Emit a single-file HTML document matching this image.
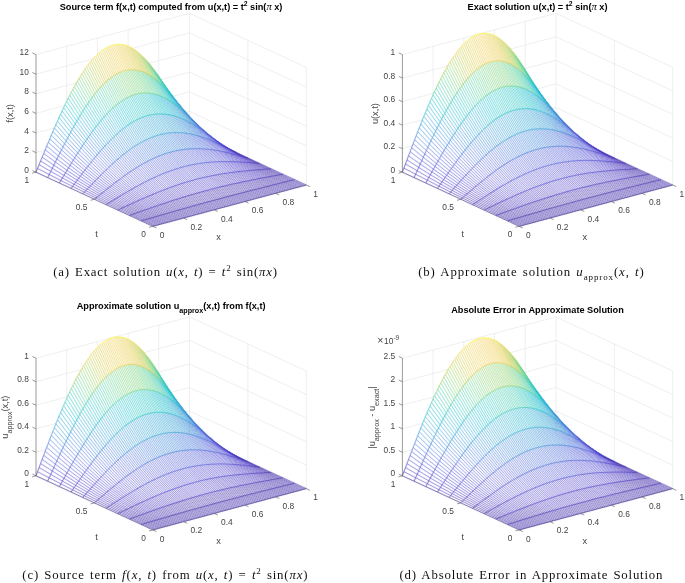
<!DOCTYPE html>
<html><head><meta charset="utf-8"><title>Figure</title>
<style>
html,body{margin:0;padding:0;background:#fff}
#fig{position:relative;width:685px;height:583px;overflow:hidden;background:#fff}
svg{position:absolute;left:0;top:0}
.gr{fill:none;stroke:#dedede;stroke-width:.5}
.ax{fill:none;stroke:#555;stroke-width:.6}
.fa{fill:none;stroke:#444;stroke-width:.5;stroke-opacity:.45}
.sil{fill:#fff;stroke:none}
.mesh{filter:url(#sm)}
.mx{fill:none;stroke-width:0.8;stroke-opacity:0.72}
.mt{fill:none;stroke-width:0.85;stroke-linejoin:round;stroke-opacity:0.8}
.tk{font:8.4px "Liberation Sans",sans-serif;fill:#444}
.al{font:9.2px "Liberation Sans",sans-serif;fill:#444}
.ti{font:bold 9.2px "Liberation Sans",sans-serif;fill:#000}
.pi{font-family:"Liberation Serif",serif;font-style:italic;font-weight:normal;font-size:10.5px}
.cap{position:absolute;width:400px;text-align:center;font:12.8px "Liberation Serif",serif;color:#111;white-space:nowrap;line-height:16px;letter-spacing:.75px;word-spacing:1.2px}
.cap sup,.cap sub{font-size:9px;line-height:0}
.c0{stroke:#3e26a8}
.c1{stroke:#412dbb}
.c2{stroke:#4434c7}
.c3{stroke:#463bcd}
.c4{stroke:#4744d0}
.c5{stroke:#484dd3}
.c6{stroke:#4756d4}
.c7{stroke:#4660d6}
.c8{stroke:#4269d6}
.c9{stroke:#3a73d6}
.c10{stroke:#327dd6}
.c11{stroke:#2f87d5}
.c12{stroke:#2f90d3}
.c13{stroke:#2c99d2}
.c14{stroke:#29a1d1}
.c15{stroke:#26a9d0}
.c16{stroke:#20b0ce}
.c17{stroke:#14b7cc}
.c18{stroke:#0fbcc8}
.c19{stroke:#1bc1c0}
.c20{stroke:#2cc4b6}
.c21{stroke:#3ac8ac}
.c22{stroke:#44cba1}
.c23{stroke:#54cf92}
.c24{stroke:#62d086}
.c25{stroke:#74d077}
.c26{stroke:#89d067}
.c27{stroke:#9fce57}
.c28{stroke:#b4cb47}
.c29{stroke:#c7c73d}
.c30{stroke:#d7c73a}
.c31{stroke:#e4c83e}
.c32{stroke:#efcb45}
.c33{stroke:#f7ce4a}
.c34{stroke:#fbd247}
.c35{stroke:#fcd442}
.c36{stroke:#f9dd3c}
.c37{stroke:#f6e837}
.c38{stroke:#f7f131}
.c39{stroke:#fafb27}
</style></head><body>
<div id="fig">
<svg width="685" height="583" viewBox="0 0 685 583">
<defs><filter id="sm" x="0" y="0" width="685" height="583" filterUnits="userSpaceOnUse" color-interpolation-filters="sRGB"><feConvolveMatrix order="3" kernelMatrix="0 1 0 1 14 1 0 1 0" divisor="18" edgeMode="none"/></filter></defs>
<path d="M36 172.2L189.5 130.9M189.5 130.9L306.3 185M36 152.6L189.5 111.3M189.5 111.3L306.3 165.4M36 133L189.5 91.7M189.5 91.7L306.3 145.8M36 113.4L189.5 72.1M189.5 72.1L306.3 126.2M36 93.8L189.5 52.5M189.5 52.5L306.3 106.6M36 74.2L189.5 32.9M189.5 32.9L306.3 87M36 54.6L189.5 13.3M189.5 13.3L306.3 67.4M66.7 163.9L66.7 46.3M97.4 155.7L97.4 38.1M128.1 147.4L128.1 29.8M158.8 139.2L158.8 21.6M189.5 130.9L189.5 13.3M306.3 185L306.3 67.4M247.9 157.9L247.9 40.3" class="gr"/>
<path class="sil" d="M152.8 226.3L155.9 225.5L159 224.6L162.1 223.8L165.1 223L168.2 222.2L171.3 221.3L174.3 220.5L177.4 219.7L180.5 218.9L183.5 218L186.6 217.2L189.7 216.4L192.7 215.6L195.8 214.7L198.9 213.9L202 213.1L205 212.3L208.1 211.4L211.2 210.6L214.2 209.8L217.3 209L220.4 208.1L223.4 207.3L226.5 206.5L229.6 205.7L232.6 204.8L235.7 204L238.8 203.2L241.9 202.3L244.9 201.5L248 200.7L251.1 199.9L254.1 199L257.2 198.2L260.3 197.4L263.3 196.6L266.4 195.7L269.5 194.9L272.5 194.1L275.6 193.3L278.7 192.4L281.7 191.6L284.8 190.8L287.9 190L291 189.1L294 188.3L297.1 187.5L300.2 186.7L303.2 185.8L306.3 185L294.6 179.6L291.5 180.3L288.5 181.1L285.4 181.9L282.3 182.6L279.3 183.4L276.2 184.2L273.1 184.9L270.1 185.7L267 186.5L263.9 187.2L260.9 188L257.8 188.8L254.7 189.6L251.6 190.3L248.6 191.1L245.5 191.9L242.4 192.7L239.4 193.5L236.3 194.3L233.2 195.1L230.2 195.9L227.1 196.7L224 197.5L221 198.4L217.9 199.2L214.8 200L211.8 200.8L208.7 201.7L205.6 202.5L202.5 203.4L199.5 204.2L196.4 205.1L193.3 205.9L190.3 206.8L187.2 207.6L184.1 208.5L181.1 209.4L178 210.2L174.9 211.1L171.9 212L168.8 212.9L165.7 213.8L162.6 214.7L159.6 215.5L156.5 216.4L153.4 217.3L150.4 218.2L147.3 219.1L144.2 220L141.2 220.9ZM141.2 220.9L144.2 220L147.3 219.1L150.4 218.2L153.4 217.3L156.5 216.4L159.6 215.5L162.6 214.7L165.7 213.8L168.8 212.9L171.9 212L174.9 211.1L178 210.2L181.1 209.4L184.1 208.5L187.2 207.6L190.3 206.8L193.3 205.9L196.4 205.1L199.5 204.2L202.5 203.4L205.6 202.5L208.7 201.7L211.8 200.8L214.8 200L217.9 199.2L221 198.4L224 197.5L227.1 196.7L230.2 195.9L233.2 195.1L236.3 194.3L239.4 193.5L242.4 192.7L245.5 191.9L248.6 191.1L251.6 190.3L254.7 189.6L257.8 188.8L260.9 188L263.9 187.2L267 186.5L270.1 185.7L273.1 184.9L276.2 184.2L279.3 183.4L282.3 182.6L285.4 181.9L288.5 181.1L291.5 180.3L294.6 179.6L282.9 174.2L279.9 174.7L276.8 175.3L273.7 175.9L270.7 176.4L267.6 177L264.5 177.6L261.4 178.1L258.4 178.7L255.3 179.3L252.2 179.9L249.2 180.6L246.1 181.2L243 181.8L240 182.5L236.9 183.1L233.8 183.8L230.8 184.5L227.7 185.2L224.6 185.9L221.6 186.6L218.5 187.4L215.4 188.2L212.3 189L209.3 189.8L206.2 190.6L203.1 191.4L200.1 192.3L197 193.1L193.9 194L190.9 194.9L187.8 195.8L184.7 196.8L181.7 197.7L178.6 198.7L175.5 199.6L172.4 200.6L169.4 201.6L166.3 202.7L163.2 203.7L160.2 204.7L157.1 205.8L154 206.8L151 207.9L147.9 209L144.8 210L141.8 211.1L138.7 212.2L135.6 213.3L132.5 214.4L129.5 215.5ZM129.5 215.5L132.5 214.4L135.6 213.3L138.7 212.2L141.8 211.1L144.8 210L147.9 209L151 207.9L154 206.8L157.1 205.8L160.2 204.7L163.2 203.7L166.3 202.7L169.4 201.6L172.4 200.6L175.5 199.6L178.6 198.7L181.7 197.7L184.7 196.8L187.8 195.8L190.9 194.9L193.9 194L197 193.1L200.1 192.3L203.1 191.4L206.2 190.6L209.3 189.8L212.3 189L215.4 188.2L218.5 187.4L221.6 186.6L224.6 185.9L227.7 185.2L230.8 184.5L233.8 183.8L236.9 183.1L240 182.5L243 181.8L246.1 181.2L249.2 180.6L252.2 179.9L255.3 179.3L258.4 178.7L261.4 178.1L264.5 177.6L267.6 177L270.7 176.4L273.7 175.9L276.8 175.3L279.9 174.7L282.9 174.2L271.2 168.8L268.2 169L265.1 169.2L262 169.5L259 169.7L255.9 169.9L252.8 170.2L249.8 170.5L246.7 170.8L243.6 171.1L240.6 171.4L237.5 171.7L234.4 172.1L231.3 172.5L228.3 172.9L225.2 173.4L222.1 173.9L219.1 174.4L216 175L212.9 175.6L209.9 176.2L206.8 176.8L203.7 177.5L200.7 178.3L197.6 179L194.5 179.8L191.5 180.7L188.4 181.6L185.3 182.5L182.2 183.4L179.2 184.4L176.1 185.5L173 186.5L170 187.6L166.9 188.8L163.8 189.9L160.8 191.1L157.7 192.3L154.6 193.6L151.6 194.9L148.5 196.2L145.4 197.5L142.3 198.8L139.3 200.2L136.2 201.6L133.1 203L130.1 204.4L127 205.8L123.9 207.2L120.9 208.6L117.8 210.1ZM117.8 210.1L120.9 208.6L123.9 207.2L127 205.8L130.1 204.4L133.1 203L136.2 201.6L139.3 200.2L142.3 198.8L145.4 197.5L148.5 196.2L151.6 194.9L154.6 193.6L157.7 192.3L160.8 191.1L163.8 189.9L166.9 188.8L170 187.6L173 186.5L176.1 185.5L179.2 184.4L182.2 183.4L185.3 182.5L188.4 181.6L191.5 180.7L194.5 179.8L197.6 179L200.7 178.3L203.7 177.5L206.8 176.8L209.9 176.2L212.9 175.6L216 175L219.1 174.4L222.1 173.9L225.2 173.4L228.3 172.9L231.3 172.5L234.4 172.1L237.5 171.7L240.6 171.4L243.6 171.1L246.7 170.8L249.8 170.5L252.8 170.2L255.9 169.9L259 169.7L262 169.5L265.1 169.2L268.2 169L271.2 168.8L259.6 163.4L256.5 163.1L253.4 162.9L250.4 162.6L247.3 162.4L244.2 162.2L241.1 162L238.1 161.9L235 161.8L231.9 161.7L228.9 161.6L225.8 161.6L222.7 161.6L219.7 161.7L216.6 161.8L213.5 162L210.5 162.2L207.4 162.5L204.3 162.8L201.2 163.2L198.2 163.7L195.1 164.2L192 164.8L189 165.4L185.9 166.2L182.8 167L179.8 167.8L176.7 168.8L173.6 169.7L170.6 170.8L167.5 171.9L164.4 173.1L161.4 174.4L158.3 175.7L155.2 177.1L152.1 178.5L149.1 180L146 181.5L142.9 183.1L139.9 184.7L136.8 186.4L133.7 188.1L130.7 189.8L127.6 191.6L124.5 193.4L121.5 195.3L118.4 197.1L115.3 199L112.2 200.9L109.2 202.8L106.1 204.7ZM106.1 204.7L109.2 202.8L112.2 200.9L115.3 199L118.4 197.1L121.5 195.3L124.5 193.4L127.6 191.6L130.7 189.8L133.7 188.1L136.8 186.4L139.9 184.7L142.9 183.1L146 181.5L149.1 180L152.1 178.5L155.2 177.1L158.3 175.7L161.4 174.4L164.4 173.1L167.5 171.9L170.6 170.8L173.6 169.7L176.7 168.8L179.8 167.8L182.8 167L185.9 166.2L189 165.4L192 164.8L195.1 164.2L198.2 163.7L201.2 163.2L204.3 162.8L207.4 162.5L210.5 162.2L213.5 162L216.6 161.8L219.7 161.7L222.7 161.6L225.8 161.6L228.9 161.6L231.9 161.7L235 161.8L238.1 161.9L241.1 162L244.2 162.2L247.3 162.4L250.4 162.6L253.4 162.9L256.5 163.1L259.6 163.4L247.9 157.9L244.8 157.1L241.7 156.3L238.7 155.4L235.6 154.6L232.5 153.9L229.5 153.1L226.4 152.4L223.3 151.7L220.3 151.1L217.2 150.6L214.1 150.1L211 149.6L208 149.3L204.9 149L201.8 148.8L198.8 148.7L195.7 148.7L192.6 148.7L189.6 148.9L186.5 149.1L183.4 149.5L180.4 150L177.3 150.5L174.2 151.2L171.1 152L168.1 152.8L165 153.8L161.9 154.9L158.9 156.1L155.8 157.4L152.7 158.8L149.7 160.3L146.6 161.9L143.5 163.5L140.5 165.3L137.4 167.2L134.3 169.1L131.3 171.1L128.2 173.2L125.1 175.3L122 177.5L119 179.8L115.9 182.1L112.8 184.5L109.8 186.9L106.7 189.3L103.6 191.8L100.6 194.3L97.5 196.8L94.4 199.2ZM94.4 199.2L97.5 196.8L100.6 194.3L103.6 191.8L106.7 189.3L109.8 186.9L112.8 184.5L115.9 182.1L119 179.8L122 177.5L125.1 175.3L128.2 173.2L131.3 171.1L134.3 169.1L137.4 167.2L140.5 165.3L143.5 163.5L146.6 161.9L149.7 160.3L152.7 158.8L155.8 157.4L158.9 156.1L161.9 154.9L165 153.8L168.1 152.8L171.1 152L174.2 151.2L177.3 150.5L180.4 150L183.4 149.5L186.5 149.1L189.6 148.9L192.6 148.7L195.7 148.7L198.8 148.7L201.8 148.8L204.9 149L208 149.3L211 149.6L214.1 150.1L217.2 150.6L220.3 151.1L223.3 151.7L226.4 152.4L229.5 153.1L232.5 153.9L235.6 154.6L238.7 155.4L241.7 156.3L244.8 157.1L247.9 157.9L236.2 152.5L233.1 151L230.1 149.4L227 147.8L223.9 146.3L220.8 144.8L217.8 143.4L214.7 142L211.6 140.7L208.6 139.4L205.5 138.3L202.4 137.2L199.4 136.2L196.3 135.3L193.2 134.6L190.2 133.9L187.1 133.4L184 133L180.9 132.7L177.9 132.6L174.8 132.6L171.7 132.7L168.7 133L165.6 133.5L162.5 134.1L159.5 134.8L156.4 135.7L153.3 136.8L150.3 138L147.2 139.4L144.1 140.8L141.1 142.5L138 144.3L134.9 146.2L131.8 148.2L128.8 150.4L125.7 152.7L122.6 155.1L119.6 157.7L116.5 160.3L113.4 163L110.4 165.9L107.3 168.8L104.2 171.7L101.2 174.8L98.1 177.9L95 181L91.9 184.2L88.9 187.4L85.8 190.6L82.7 193.8ZM82.7 193.8L85.8 190.6L88.9 187.4L91.9 184.2L95 181L98.1 177.9L101.2 174.8L104.2 171.7L107.3 168.8L110.4 165.9L113.4 163L116.5 160.3L119.6 157.7L122.6 155.1L125.7 152.7L128.8 150.4L131.8 148.2L134.9 146.2L138 144.3L141.1 142.5L144.1 140.8L147.2 139.4L150.3 138L153.3 136.8L156.4 135.7L159.5 134.8L162.5 134.1L165.6 133.5L168.7 133L171.7 132.7L174.8 132.6L177.9 132.6L180.9 132.7L184 133L187.1 133.4L190.2 133.9L193.2 134.6L196.3 135.3L199.4 136.2L202.4 137.2L205.5 138.3L208.6 139.4L211.6 140.7L214.7 142L217.8 143.4L220.8 144.8L223.9 146.3L227 147.8L230.1 149.4L233.1 151L236.2 152.5L224.5 147.1L221.4 144.7L218.4 142.2L215.3 139.8L212.2 137.5L209.2 135.1L206.1 132.9L203 130.7L200 128.6L196.9 126.6L193.8 124.7L190.7 122.9L187.7 121.3L184.6 119.8L181.5 118.5L178.5 117.3L175.4 116.3L172.3 115.4L169.3 114.8L166.2 114.3L163.1 114L160.1 113.9L157 114L153.9 114.3L150.8 114.9L147.8 115.6L144.7 116.5L141.6 117.6L138.6 119L135.5 120.5L132.4 122.3L129.4 124.2L126.3 126.3L123.2 128.6L120.2 131.1L117.1 133.8L114 136.6L111 139.6L107.9 142.8L104.8 146.1L101.7 149.5L98.7 153L95.6 156.7L92.5 160.4L89.5 164.3L86.4 168.2L83.3 172.1L80.3 176.2L77.2 180.2L74.1 184.3L71.1 188.4ZM71.1 188.4L74.1 184.3L77.2 180.2L80.3 176.2L83.3 172.1L86.4 168.2L89.5 164.3L92.5 160.4L95.6 156.7L98.7 153L101.7 149.5L104.8 146.1L107.9 142.8L111 139.6L114 136.6L117.1 133.8L120.2 131.1L123.2 128.6L126.3 126.3L129.4 124.2L132.4 122.3L135.5 120.5L138.6 119L141.6 117.6L144.7 116.5L147.8 115.6L150.8 114.9L153.9 114.3L157 114L160.1 113.9L163.1 114L166.2 114.3L169.3 114.8L172.3 115.4L175.4 116.3L178.5 117.3L181.5 118.5L184.6 119.8L187.7 121.3L190.7 122.9L193.8 124.7L196.9 126.6L200 128.6L203 130.7L206.1 132.9L209.2 135.1L212.2 137.5L215.3 139.8L218.4 142.2L221.4 144.7L224.5 147.1L212.8 141.7L209.8 138.3L206.7 134.8L203.6 131.4L200.5 128.1L197.5 124.8L194.4 121.6L191.3 118.5L188.3 115.5L185.2 112.6L182.1 109.9L179.1 107.4L176 105L172.9 102.8L169.9 100.8L166.8 99L163.7 97.4L160.6 96L157.6 94.9L154.5 94L151.4 93.4L148.4 93L145.3 92.9L142.2 93.1L139.2 93.5L136.1 94.2L133 95.2L130 96.4L126.9 97.9L123.8 99.6L120.8 101.7L117.7 103.9L114.6 106.5L111.5 109.2L108.5 112.2L105.4 115.5L102.3 118.9L99.3 122.6L96.2 126.4L93.1 130.5L90.1 134.7L87 139.1L83.9 143.6L80.9 148.2L77.8 153L74.7 157.8L71.6 162.8L68.6 167.8L65.5 172.8L62.4 177.9L59.4 183ZM59.4 183L62.4 177.9L65.5 172.8L68.6 167.8L71.6 162.8L74.7 157.8L77.8 153L80.9 148.2L83.9 143.6L87 139.1L90.1 134.7L93.1 130.5L96.2 126.4L99.3 122.6L102.3 118.9L105.4 115.5L108.5 112.2L111.5 109.2L114.6 106.5L117.7 103.9L120.8 101.7L123.8 99.6L126.9 97.9L130 96.4L133 95.2L136.1 94.2L139.2 93.5L142.2 93.1L145.3 92.9L148.4 93L151.4 93.4L154.5 94L157.6 94.9L160.6 96L163.7 97.4L166.8 99L169.9 100.8L172.9 102.8L176 105L179.1 107.4L182.1 109.9L185.2 112.6L188.3 115.5L191.3 118.5L194.4 121.6L197.5 124.8L200.5 128.1L203.6 131.4L206.7 134.8L209.8 138.3L212.8 141.7L201.1 136.3L198.1 131.7L195 127.1L191.9 122.6L188.9 118.2L185.8 113.8L182.7 109.5L179.7 105.4L176.6 101.4L173.5 97.5L170.4 93.9L167.4 90.4L164.3 87.2L161.2 84.2L158.2 81.4L155.1 78.9L152 76.7L149 74.7L145.9 73.1L142.8 71.8L139.8 70.8L136.7 70.1L133.6 69.7L130.5 69.7L127.5 70L124.4 70.7L121.3 71.7L118.3 73L115.2 74.7L112.1 76.7L109.1 79L106 81.7L102.9 84.7L99.9 88L96.8 91.5L93.7 95.4L90.7 99.6L87.6 104L84.5 108.6L81.4 113.5L78.4 118.6L75.3 123.9L72.2 129.4L69.2 135.1L66.1 140.9L63 146.8L60 152.8L56.9 159L53.8 165.1L50.8 171.4L47.7 177.6ZM47.7 177.6L50.8 171.4L53.8 165.1L56.9 159L60 152.8L63 146.8L66.1 140.9L69.2 135.1L72.2 129.4L75.3 123.9L78.4 118.6L81.4 113.5L84.5 108.6L87.6 104L90.7 99.6L93.7 95.4L96.8 91.5L99.9 88L102.9 84.7L106 81.7L109.1 79L112.1 76.7L115.2 74.7L118.3 73L121.3 71.7L124.4 70.7L127.5 70L130.5 69.7L133.6 69.7L136.7 70.1L139.8 70.8L142.8 71.8L145.9 73.1L149 74.7L152 76.7L155.1 78.9L158.2 81.4L161.2 84.2L164.3 87.2L167.4 90.4L170.4 93.9L173.5 97.5L176.6 101.4L179.7 105.4L182.7 109.5L185.8 113.8L188.9 118.2L191.9 122.6L195 127.1L198.1 131.7L201.1 136.3L189.5 130.9L186.4 125L183.3 119.2L180.2 113.4L177.2 107.7L174.1 102.1L171 96.6L168 91.3L164.9 86.2L161.8 81.3L158.8 76.5L155.7 72.1L152.6 67.9L149.6 64L146.5 60.4L143.4 57.1L140.3 54.2L137.3 51.6L134.2 49.4L131.1 47.6L128.1 46.1L125 45.1L121.9 44.4L118.9 44.2L115.8 44.4L112.7 45L109.7 46.1L106.6 47.5L103.5 49.4L100.4 51.7L97.4 54.4L94.3 57.5L91.2 60.9L88.2 64.8L85.1 69L82 73.6L79 78.6L75.9 83.8L72.8 89.4L69.8 95.2L66.7 101.3L63.6 107.7L60.6 114.3L57.5 121.1L54.4 128L51.3 135.2L48.3 142.4L45.2 149.8L42.1 157.2L39.1 164.7L36 172.2Z"/>
<g class="mesh">
<path class="mx c0" d="M152.8 226.3L141.2 220.9M141.2 220.9L129.5 215.5M129.5 215.5L117.8 210.1M117.8 210.1L106.1 204.7M106.1 204.7L94.4 199.2M94.4 199.2L82.7 193.8M82.7 193.8L71.1 188.4M71.1 188.4L59.4 183M59.4 183L47.7 177.6M47.7 177.6L36 172.2M157.5 225.1L145.8 219.6M145.8 219.6L134.1 213.8M134.1 213.8L122.4 207.9M122.4 207.9L110.7 201.8M162.1 223.8L150.4 218.2M150.4 218.2L138.7 212.2M138.7 212.2L127 205.8M166.7 222.6L155 216.9M155 216.9L143.3 210.6M143.3 210.6L131.6 203.7M171.3 221.3L159.6 215.5M159.6 215.5L147.9 209M175.9 220.1L164.2 214.2M164.2 214.2L152.5 207.4M180.5 218.9L168.8 212.9M168.8 212.9L157.1 205.8M185.1 217.6L173.4 211.6M173.4 211.6L161.7 204.2M189.7 216.4L178 210.2M178 210.2L166.3 202.7M194.3 215.1L182.6 208.9M182.6 208.9L170.9 201.1M198.9 213.9L187.2 207.6M187.2 207.6L175.5 199.6M203.5 212.7L191.8 206.3M191.8 206.3L180.1 198.2M208.1 211.4L196.4 205.1M196.4 205.1L184.7 196.8M212.7 210.2L201 203.8M201 203.8L189.3 195.4M217.3 209L205.6 202.5M205.6 202.5L193.9 194M221.9 207.7L210.2 201.3M210.2 201.3L198.5 192.7M226.5 206.5L214.8 200M214.8 200L203.1 191.4M231.1 205.2L219.4 198.8M219.4 198.8L207.7 190.2M235.7 204L224 197.5M224 197.5L212.3 189M240.3 202.8L228.6 196.3M228.6 196.3L216.9 187.8M244.9 201.5L233.2 195.1M233.2 195.1L221.6 186.6M249.5 200.3L237.8 193.9M237.8 193.9L226.2 185.6M254.1 199L242.4 192.7M242.4 192.7L230.8 184.5M258.7 197.8L247 191.5M247 191.5L235.4 183.5M263.3 196.6L251.6 190.3M251.6 190.3L240 182.5M267.9 195.3L256.3 189.2M256.3 189.2L244.6 181.5M272.5 194.1L260.9 188M260.9 188L249.2 180.6M277.1 192.8L265.5 186.8M265.5 186.8L253.8 179.6M281.7 191.6L270.1 185.7M270.1 185.7L258.4 178.7M286.4 190.4L274.7 184.5M274.7 184.5L263 177.9M291 189.1L279.3 183.4M279.3 183.4L267.6 177M267.6 177L255.9 169.9M295.6 187.9L283.9 182.2M283.9 182.2L272.2 176.1M272.2 176.1L260.5 169.6M300.2 186.7L288.5 181.1M288.5 181.1L276.8 175.3M276.8 175.3L265.1 169.2M265.1 169.2L253.4 162.9M304.8 185.4L293.1 180M293.1 180L281.4 174.5M281.4 174.5L269.7 168.9M269.7 168.9L258 163.2M258 163.2L246.3 157.5M246.3 157.5L234.7 151.7M234.7 151.7L226.9 147.9"/>
<path class="mx c0" d="M154.4 225.9L142.7 220.4M142.7 220.4L131 214.9M131 214.9L119.3 209.4M119.3 209.4L107.6 203.7M107.6 203.7L96 198M96 198L84.3 192.2M84.3 192.2L72.6 186.4M159 224.6L147.3 219.1M147.3 219.1L135.6 213.3M135.6 213.3L123.9 207.2M123.9 207.2L112.2 200.9M163.6 223.4L151.9 217.8M151.9 217.8L140.2 211.7M140.2 211.7L128.5 205.1M168.2 222.2L156.5 216.4M156.5 216.4L144.8 210M144.8 210L133.1 203M172.8 220.9L161.1 215.1M161.1 215.1L149.4 208.4M177.4 219.7L165.7 213.8M165.7 213.8L154 206.8M182 218.5L170.3 212.4M170.3 212.4L158.6 205.2M186.6 217.2L174.9 211.1M174.9 211.1L163.2 203.7M191.2 216L179.5 209.8M179.5 209.8L167.8 202.1M195.8 214.7L184.1 208.5M184.1 208.5L172.4 200.6M200.4 213.5L188.7 207.2M188.7 207.2L177 199.2M205 212.3L193.3 205.9M193.3 205.9L181.7 197.7M209.6 211L197.9 204.6M197.9 204.6L186.3 196.3M214.2 209.8L202.5 203.4M202.5 203.4L190.9 194.9M218.8 208.5L207.1 202.1M207.1 202.1L195.5 193.6M223.4 207.3L211.8 200.8M211.8 200.8L200.1 192.3M228 206.1L216.4 199.6M216.4 199.6L204.7 191M232.6 204.8L221 198.4M221 198.4L209.3 189.8M237.2 203.6L225.6 197.1M225.6 197.1L213.9 188.6M241.9 202.3L230.2 195.9M230.2 195.9L218.5 187.4M246.5 201.1L234.8 194.7M234.8 194.7L223.1 186.3M251.1 199.9L239.4 193.5M239.4 193.5L227.7 185.2M255.7 198.6L244 192.3M244 192.3L232.3 184.1M260.3 197.4L248.6 191.1M248.6 191.1L236.9 183.1M264.9 196.2L253.2 189.9M253.2 189.9L241.5 182.1M269.5 194.9L257.8 188.8M257.8 188.8L246.1 181.2M274.1 193.7L262.4 187.6M262.4 187.6L250.7 180.2M278.7 192.4L267 186.5M267 186.5L255.3 179.3M283.3 191.2L271.6 185.3M271.6 185.3L259.9 178.4M287.9 190L276.2 184.2M276.2 184.2L264.5 177.6M292.5 188.7L280.8 183M280.8 183L269.1 176.7M269.1 176.7L257.4 169.8M297.1 187.5L285.4 181.9M285.4 181.9L273.7 175.9M273.7 175.9L262 169.5M301.7 186.2L290 180.7M290 180.7L278.3 175M278.3 175L266.6 169.1M266.6 169.1L255 163M306.3 185L294.6 179.6M294.6 179.6L282.9 174.2M282.9 174.2L271.2 168.8M271.2 168.8L259.6 163.4M259.6 163.4L247.9 157.9M247.9 157.9L236.2 152.5M236.2 152.5L230.3 149.8"/>
<path class="mx c0" d="M155.9 225.5L144.2 220M144.2 220L132.5 214.4M132.5 214.4L120.9 208.6M120.9 208.6L109.2 202.8M109.2 202.8L97.5 196.8M160.5 224.2L148.8 218.7M148.8 218.7L137.2 212.7M137.2 212.7L125.5 206.5M165.1 223L153.4 217.3M153.4 217.3L141.8 211.1M141.8 211.1L130.1 204.4M169.7 221.8L158 216M158 216L146.4 209.5M174.3 220.5L162.6 214.7M162.6 214.7L151 207.9M178.9 219.3L167.3 213.3M167.3 213.3L155.6 206.3M183.5 218L171.9 212M171.9 212L160.2 204.7M188.1 216.8L176.5 210.7M176.5 210.7L164.8 203.2M192.7 215.6L181.1 209.4M181.1 209.4L169.4 201.6M197.4 214.3L185.7 208.1M185.7 208.1L174 200.1M202 213.1L190.3 206.8M190.3 206.8L178.6 198.7M206.6 211.8L194.9 205.5M194.9 205.5L183.2 197.2M211.2 210.6L199.5 204.2M199.5 204.2L187.8 195.8M215.8 209.4L204.1 202.9M204.1 202.9L192.4 194.5M220.4 208.1L208.7 201.7M208.7 201.7L197 193.1M225 206.9L213.3 200.4M213.3 200.4L201.6 191.8M229.6 205.7L217.9 199.2M217.9 199.2L206.2 190.6M234.2 204.4L222.5 197.9M222.5 197.9L210.8 189.3M238.8 203.2L227.1 196.7M227.1 196.7L215.4 188.2M243.4 201.9L231.7 195.5M231.7 195.5L220 187M248 200.7L236.3 194.3M236.3 194.3L224.6 185.9M252.6 199.5L240.9 193.1M240.9 193.1L229.2 184.8M257.2 198.2L245.5 191.9M245.5 191.9L233.8 183.8M261.8 197L250.1 190.7M250.1 190.7L238.4 182.8M266.4 195.7L254.7 189.6M254.7 189.6L243 181.8M271 194.5L259.3 188.4M259.3 188.4L247.6 180.9M275.6 193.3L263.9 187.2M263.9 187.2L252.2 179.9M280.2 192L268.5 186.1M268.5 186.1L256.8 179M284.8 190.8L273.1 184.9M273.1 184.9L261.4 178.1M289.4 189.5L277.7 183.8M277.7 183.8L266.1 177.3M294 188.3L282.3 182.6M282.3 182.6L270.7 176.4M270.7 176.4L259 169.7M298.6 187.1L286.9 181.5M286.9 181.5L275.3 175.6M275.3 175.6L263.6 169.3M303.2 185.8L291.5 180.3M291.5 180.3L279.9 174.7M279.9 174.7L268.2 169M268.2 169L256.5 163.1M256.5 163.1L244.8 157.1"/>
<path class="mx c1" d="M110.7 201.8L99 195.5M99 195.5L87.3 189M87.3 189L75.7 182.3M127 205.8L115.3 199M115.3 199L103.6 191.8M131.6 203.7L119.9 196.2M147.9 209L136.2 201.6M136.2 201.6L124.5 193.4M152.5 207.4L140.8 199.5M157.1 205.8L145.4 197.5M161.7 204.2L150 195.5M166.3 202.7L154.6 193.6M170.9 201.1L159.2 191.7M175.5 199.6L163.8 189.9M180.1 198.2L168.4 188.2M184.7 196.8L173 186.5M189.3 195.4L177.6 184.9M221.6 186.6L209.9 176.2M226.2 185.6L214.5 175.3M230.8 184.5L219.1 174.4M235.4 183.5L223.7 173.6M240 182.5L228.3 172.9M244.6 181.5L232.9 172.3M249.2 180.6L237.5 171.7M253.8 179.6L242.1 171.2M258.4 178.7L246.7 170.8M263 177.9L251.3 170.3M251.3 170.3L239.6 162M255.9 169.9L244.2 162.2M260.5 169.6L248.8 162.5M248.8 162.5L237.1 155M253.4 162.9L241.7 156.3M241.7 156.3L230.1 149.4"/>
<path class="mx c1" d="M72.6 186.4L60.9 180.5M60.9 180.5L49.2 174.5M49.2 174.5L37.5 168.4M112.2 200.9L100.6 194.3M100.6 194.3L88.9 187.4M128.5 205.1L116.9 198.1M116.9 198.1L105.2 190.5M133.1 203L121.5 195.3M149.4 208.4L137.7 200.9M137.7 200.9L126.1 192.5M154 206.8L142.3 198.8M158.6 205.2L147 196.8M163.2 203.7L151.6 194.9M167.8 202.1L156.2 193M172.4 200.6L160.8 191.1M177 199.2L165.4 189.3M181.7 197.7L170 187.6M186.3 196.3L174.6 186M190.9 194.9L179.2 184.4M223.1 186.3L211.4 175.9M227.7 185.2L216 175M232.3 184.1L220.6 174.1M236.9 183.1L225.2 173.4M241.5 182.1L229.8 172.7M246.1 181.2L234.4 172.1M250.7 180.2L239 171.6M255.3 179.3L243.6 171.1M259.9 178.4L248.2 170.6M264.5 177.6L252.8 170.2M252.8 170.2L241.1 162M257.4 169.8L245.7 162.3M262 169.5L250.4 162.6M250.4 162.6L238.7 155.4M255 163L243.3 156.7M243.3 156.7L231.6 150.2M231.6 150.2L219.9 143.5"/>
<path class="mx c1" d="M97.5 196.8L85.8 190.6M85.8 190.6L74.1 184.3M74.1 184.3L62.4 177.9M125.5 206.5L113.8 199.9M113.8 199.9L102.1 193M130.1 204.4L118.4 197.1M146.4 209.5L134.7 202.3M134.7 202.3L123 194.3M151 207.9L139.3 200.2M139.3 200.2L127.6 191.6M155.6 206.3L143.9 198.2M160.2 204.7L148.5 196.2M164.8 203.2L153.1 194.2M169.4 201.6L157.7 192.3M174 200.1L162.3 190.5M178.6 198.7L166.9 188.8M183.2 197.2L171.5 187.1M187.8 195.8L176.1 185.5M192.4 194.5L180.7 183.9M220 187L208.3 176.5M224.6 185.9L212.9 175.6M229.2 184.8L217.5 174.7M233.8 183.8L222.1 173.9M238.4 182.8L226.7 173.2M243 181.8L231.3 172.5M247.6 180.9L236 171.9M252.2 179.9L240.6 171.4M256.8 179L245.2 170.9M261.4 178.1L249.8 170.5M249.8 170.5L238.1 161.9M266.1 177.3L254.4 170.1M254.4 170.1L242.7 162.1M259 169.7L247.3 162.4M263.6 169.3L251.9 162.8M251.9 162.8L240.2 155.8M244.8 157.1L233.1 151M233.1 151L223.4 145.7"/>
<path class="mx c2" d="M75.7 182.3L64 175.4M64 175.4L52.3 168.3M103.6 191.8L91.9 184.2M119.9 196.2L108.2 188.1M124.5 193.4L112.8 184.5M140.8 199.5L129.1 190.7M145.4 197.5L133.7 188.1M150 195.5L138.3 185.5M154.6 193.6L142.9 183.1M193.9 194L182.2 183.4M198.5 192.7L186.8 182M203.1 191.4L191.5 180.7M207.7 190.2L196.1 179.4M212.3 189L200.7 178.3M216.9 187.8L205.3 177.2M232.9 172.3L221.2 161.6M237.5 171.7L225.8 161.6M242.1 171.2L230.4 161.6M246.7 170.8L235 161.8M239.6 162L227.9 152.7M244.2 162.2L232.5 153.9M237.1 155L225.4 147.1M230.1 149.4L218.4 142.2M218.4 142.2L216.4 141"/>
<path class="mx c2" d="M88.9 187.4L77.2 180.2M77.2 180.2L65.5 172.8M105.2 190.5L93.5 182.6M121.5 195.3L109.8 186.9M126.1 192.5L114.4 183.3M142.3 198.8L130.7 189.8M147 196.8L135.3 187.2M151.6 194.9L139.9 184.7M156.2 193L144.5 182.3M195.5 193.6L183.8 183M200.1 192.3L188.4 181.6M204.7 191L193 180.3M209.3 189.8L197.6 179M213.9 188.6L202.2 177.9M218.5 187.4L206.8 176.8M234.4 172.1L222.7 161.6M239 171.6L227.3 161.6M243.6 171.1L231.9 161.7M248.2 170.6L236.5 161.8M241.1 162L229.5 153.1M245.7 162.3L234.1 154.2M238.7 155.4L227 147.8"/>
<path class="mx c2" d="M62.4 177.9L50.8 171.4M50.8 171.4L39.1 164.7M102.1 193L90.4 185.8M90.4 185.8L78.7 178.2M118.4 197.1L106.7 189.3M106.7 189.3L95 181M123 194.3L111.3 185.7M143.9 198.2L132.2 189M148.5 196.2L136.8 186.4M153.1 194.2L141.4 183.9M197 193.1L185.3 182.5M201.6 191.8L189.9 181.1M206.2 190.6L194.5 179.8M210.8 189.3L199.1 178.6M215.4 188.2L203.7 177.5M236 171.9L224.3 161.6M240.6 171.4L228.9 161.6M245.2 170.9L233.5 161.7M242.7 162.1L231 153.5M247.3 162.4L235.6 154.6M235.6 154.6L223.9 146.3M240.2 155.8L228.5 148.6M228.5 148.6L216.8 141"/>
<path class="mx c3" d="M52.3 168.3L40.6 160.9M91.9 184.2L80.3 176.2M108.2 188.1L96.6 179.4M129.1 190.7L117.4 181M133.7 188.1L122 177.5M159.2 191.7L147.5 180.7M163.8 189.9L152.1 178.5M168.4 188.2L156.7 176.4M173 186.5L161.4 174.4M177.6 184.9L166 172.5M182.2 183.4L170.6 170.8M186.8 182L175.2 169.2M200.7 178.3L189 165.4M205.3 177.2L193.6 164.5M209.9 176.2L198.2 163.7M214.5 175.3L202.8 163M219.1 174.4L207.4 162.5M223.7 173.6L212 162.1M228.3 172.9L216.6 161.8M235 161.8L223.3 151.7M232.5 153.9L220.8 144.8M225.4 147.1L213.8 138.6"/>
<path class="mx c3" d="M65.5 172.8L53.8 165.1M93.5 182.6L81.8 174.2M109.8 186.9L98.1 177.9M130.7 189.8L119 179.8M160.8 191.1L149.1 180M165.4 189.3L153.7 177.8M170 187.6L158.3 175.7M174.6 186L162.9 173.7M179.2 184.4L167.5 171.9M183.8 183L172.1 170.3M188.4 181.6L176.7 168.8M202.2 177.9L190.5 165.1M206.8 176.8L195.1 164.2M211.4 175.9L199.7 163.4M216 175L204.3 162.8M220.6 174.1L208.9 162.3M225.2 173.4L213.5 162M229.8 172.7L218.1 161.7M231.9 161.7L220.3 151.1M236.5 161.8L224.9 152.1M234.1 154.2L222.4 145.6M227 147.8L215.3 139.8"/>
<path class="mx c3" d="M78.7 178.2L67 170.3M95 181L83.3 172.1M111.3 185.7L99.6 176.3M127.6 191.6L115.9 182.1M132.2 189L120.5 178.7M157.7 192.3L146 181.5M162.3 190.5L150.6 179.2M166.9 188.8L155.2 177.1M171.5 187.1L159.8 175M176.1 185.5L164.4 173.1M180.7 183.9L169 171.4M185.3 182.5L173.6 169.7M189.9 181.1L178.2 168.3M199.1 178.6L187.4 165.8M203.7 177.5L192 164.8M208.3 176.5L196.6 163.9M212.9 175.6L201.2 163.2M217.5 174.7L205.9 162.6M222.1 173.9L210.5 162.2M226.7 173.2L215.1 161.9M231.3 172.5L219.7 161.7M233.5 161.7L221.8 151.4M238.1 161.9L226.4 152.4M231 153.5L219.3 144.1M223.9 146.3L212.2 137.5M216.8 141L212.9 138.4"/>
<path class="mx c4" d="M80.3 176.2L68.6 167.8M96.6 179.4L84.9 170.2M112.8 184.5L101.2 174.8M117.4 181L105.8 170.2M138.3 185.5L126.6 174.3M142.9 183.1L131.3 171.1M191.5 180.7L179.8 167.8M196.1 179.4L184.4 166.6M221.2 161.6L209.5 149.4M225.8 161.6L214.1 150.1M230.4 161.6L218.7 150.8M227.9 152.7L216.2 142.7M220.8 144.8L209.2 135.1M213.8 138.6L206 132.7"/>
<path class="mx c4" d="M53.8 165.1L42.1 157.2M81.8 174.2L70.1 165.3M98.1 177.9L86.4 168.2M114.4 183.3L102.7 173.2M135.3 187.2L123.6 176.4M139.9 184.7L128.2 173.2M144.5 182.3L132.8 170.1M193 180.3L181.3 167.4M197.6 179L185.9 166.2M222.7 161.6L211 149.6M227.3 161.6L215.7 150.3M224.9 152.1L213.2 141.3M229.5 153.1L217.8 143.4M222.4 145.6L210.7 136.3M215.3 139.8L209.5 135.6"/>
<path class="mx c4" d="M67 170.3L55.4 162M115.9 182.1L104.2 171.7M136.8 186.4L125.1 175.3M141.4 183.9L129.7 172.1M194.5 179.8L182.8 167M224.3 161.6L212.6 149.8M228.9 161.6L217.2 150.6M226.4 152.4L214.7 142"/>
<path class="mx c5" d="M68.6 167.8L56.9 159M84.9 170.2L73.2 160.3M101.2 174.8L89.5 164.3M122 177.5L110.4 165.9M147.5 180.7L135.9 168.1M152.1 178.5L140.5 165.3M156.7 176.4L145.1 162.7M207.4 162.5L195.7 148.7M212 162.1L200.3 148.7M216.6 161.8L204.9 149M218.7 150.8L207 138.8M223.3 151.7L211.6 140.7"/>
<path class="mx c5" d="M70.1 165.3L58.4 155.9M119 179.8L107.3 168.8M123.6 176.4L111.9 164.4M149.1 180L137.4 167.2M153.7 177.8L142 164.4M158.3 175.7L146.6 161.9M208.9 162.3L197.2 148.7M213.5 162L201.8 148.8M218.1 161.7L206.4 149.1M220.3 151.1L208.6 139.4M217.8 143.4L206.1 132.9M210.7 136.3L199 126.4"/>
<path class="mx c5" d="M55.4 162L43.7 153.5M83.3 172.1L71.6 162.8M99.6 176.3L87.9 166.2M120.5 178.7L108.8 167.3M146 181.5L134.3 169.1M150.6 179.2L138.9 166.2M155.2 177.1L143.5 163.5M210.5 162.2L198.8 148.7M215.1 161.9L203.4 148.9M219.7 161.7L208 149.3M221.8 151.4L210.1 140M219.3 144.1L207.6 134M212.2 137.5L202.5 129.6"/>
<path class="mx c6" d="M56.9 159L45.2 149.8M105.8 170.2L94.1 158.5M126.6 174.3L115 161.7M161.4 174.4L149.7 160.3M166 172.5L154.3 158.1M170.6 170.8L158.9 156.1M175.2 169.2L163.5 154.4M179.8 167.8L168.1 152.8M184.4 166.6L172.7 151.6M189 165.4L177.3 150.5M193.6 164.5L181.9 149.7M198.2 163.7L186.5 149.1M202.8 163L191.1 148.8M214.1 150.1L202.4 137.2M216.2 142.7L204.6 131.8M209.2 135.1L197.5 124.8"/>
<path class="mx c6" d="M86.4 168.2L74.7 157.8M102.7 173.2L91 162.3M128.2 173.2L116.5 160.3M162.9 173.7L151.2 159.5M167.5 171.9L155.8 157.4M172.1 170.3L160.4 155.5M176.7 168.8L165 153.8M181.3 167.4L169.6 152.4M185.9 166.2L174.2 151.2M190.5 165.1L178.8 150.2M195.1 164.2L183.4 149.5M199.7 163.4L188 149M204.3 162.8L192.6 148.7M215.7 150.3L204 137.7M213.2 141.3L201.5 129.6"/>
<path class="mx c6" d="M71.6 162.8L60 152.8M87.9 166.2L76.2 155.4M104.2 171.7L92.5 160.4M125.1 175.3L113.4 163M129.7 172.1L118 159M159.8 175L148.1 161.1M164.4 173.1L152.7 158.8M169 171.4L157.3 156.7M173.6 169.7L161.9 154.9M178.2 168.3L166.5 153.3M182.8 167L171.1 152M187.4 165.8L175.8 150.8M192 164.8L180.4 150M196.6 163.9L185 149.3M201.2 163.2L189.6 148.9M205.9 162.6L194.2 148.7M212.6 149.8L200.9 136.7M217.2 150.6L205.5 138.3M214.7 142L203 130.7M207.6 134L195.9 123.2"/>
<path class="mx c7" d="M73.2 160.3L61.5 149.8M89.5 164.3L77.8 153M131.3 171.1L119.6 157.7M135.9 168.1L124.2 153.9M209.5 149.4L197.8 135.7M211.6 140.7L200 128.6"/>
<path class="mx c7" d="M58.4 155.9L46.7 146.1M107.3 168.8L95.6 156.7M132.8 170.1L121.1 156.4M206.4 149.1L194.8 134.9M211 149.6L199.4 136.2M206.1 132.9L194.4 121.6M199 126.4L197.1 124.7"/>
<path class="mx c7" d="M108.8 167.3L97.1 154.8M134.3 169.1L122.6 155.1M208 149.3L196.3 135.3M210.1 140L198.4 127.6"/>
<path class="mx c8" d="M110.4 165.9L98.7 153M140.5 165.3L128.8 150.4M145.1 162.7L133.4 147.2M200.3 148.7L188.6 133.6M204.9 149L193.2 134.6M207 138.8L195.3 125.6M204.6 131.8L192.9 120M197.5 124.8L193.6 121.1"/>
<path class="mx c8" d="M74.7 157.8L63 146.8M91 162.3L79.3 150.6M111.9 164.4L100.2 151.2M137.4 167.2L125.7 152.7M142 164.4L130.3 149.3M197.2 148.7L185.6 133.2M201.8 148.8L190.2 133.9M208.6 139.4L196.9 126.6"/>
<path class="mx c8" d="M60 152.8L48.3 142.4M76.2 155.4L64.6 143.8M92.5 160.4L80.9 148.2M113.4 163L101.7 149.5M138.9 166.2L127.2 151.6M143.5 163.5L131.8 148.2M198.8 148.7L187.1 133.4M203.4 148.9L191.7 134.2M205.5 138.3L193.8 124.7M203 130.7L191.3 118.5M195.9 123.2L190.1 117.4"/>
<path class="mx c9" d="M61.5 149.8L49.8 138.8M77.8 153L66.1 140.9M94.1 158.5L82.4 145.9M115 161.7L103.3 147.8M149.7 160.3L138 144.3M154.3 158.1L142.6 141.7M158.9 156.1L147.2 139.4M186.5 149.1L174.8 132.6M191.1 148.8L179.4 132.6M195.7 148.7L184 133M202.4 137.2L190.7 122.9M200 128.6L188.3 115.5"/>
<path class="mx c9" d="M95.6 156.7L83.9 143.6M116.5 160.3L104.8 146.1M146.6 161.9L134.9 146.2M151.2 159.5L139.5 143.4M155.8 157.4L144.1 140.8M183.4 149.5L171.7 132.7M188 149L176.3 132.6M192.6 148.7L180.9 132.7M204 137.7L192.3 123.8M201.5 129.6L189.8 117M194.4 121.6L184.7 111.5"/>
<path class="mx c9" d="M118 159L106.3 144.4M148.1 161.1L136.4 145.2M152.7 158.8L141.1 142.5M157.3 156.7L145.7 140.1M185 149.3L173.3 132.6M189.6 148.9L177.9 132.6M194.2 148.7L182.5 132.8M200.9 136.7L189.2 122.1"/>
<path class="mx c10" d="M98.7 153L87 139.1M119.6 157.7L107.9 142.8M163.5 154.4L151.8 137.4M168.1 152.8L156.4 135.7M172.7 151.6L161 134.4M177.3 150.5L165.6 133.5M181.9 149.7L170.2 132.9M197.8 135.7L186.1 120.5M192.9 120L181.2 107.4"/>
<path class="mx c10" d="M63 146.8L51.3 135.2M79.3 150.6L67.6 138M121.1 156.4L109.4 141.2M160.4 155.5L148.7 138.7M165 153.8L153.3 136.8M169.6 152.4L157.9 135.3M174.2 151.2L162.5 134.1M178.8 150.2L167.1 133.2M199.4 136.2L187.7 121.3M196.9 126.6L185.2 112.6"/>
<path class="mx c10" d="M97.1 154.8L85.5 141.3M122.6 155.1L111 139.6M161.9 154.9L150.3 138M166.5 153.3L154.9 136.3M171.1 152L159.5 134.8M175.8 150.8L164.1 133.8M180.4 150L168.7 133M196.3 135.3L184.6 119.8M198.4 127.6L186.7 114"/>
<path class="mx c11" d="M82.4 145.9L70.7 132.2M124.2 153.9L112.5 138.1M128.8 150.4L117.1 133.8M193.2 134.6L181.5 118.5M195.3 125.6L183.7 111.2"/>
<path class="mx c11" d="M100.2 151.2L88.5 136.9M125.7 152.7L114 136.6M190.2 133.9L178.5 117.3M194.8 134.9L183.1 119.1M189.8 117L178.1 103.3"/>
<path class="mx c11" d="M64.6 143.8L52.9 131.6M80.9 148.2L69.2 135.1M101.7 149.5L90.1 134.7M127.2 151.6L115.6 135.2M191.7 134.2L180 117.9M193.8 124.7L182.1 109.9M191.3 118.5L179.7 105.4"/>
<path class="mx c12" d="M66.1 140.9L54.4 128M103.3 147.8L91.6 132.6M133.4 147.2L121.7 129.9M184 133L172.3 115.4M188.6 133.6L176.9 116.8M190.7 122.9L179.1 107.4M188.3 115.5L176.6 101.4"/>
<path class="mx c12" d="M83.9 143.6L72.2 129.4M104.8 146.1L93.1 130.5M130.3 149.3L118.6 132.5M134.9 146.2L123.2 128.6M185.6 133.2L173.9 115.8M192.3 123.8L180.6 108.6"/>
<path class="mx c12" d="M131.8 148.2L120.2 131.1M187.1 133.4L175.4 116.3"/>
<path class="mx c13" d="M87 139.1L75.3 123.9M107.9 142.8L96.2 126.4M138 144.3L126.3 126.3M142.6 141.7L130.9 123.2M174.8 132.6L163.1 114M179.4 132.6L167.7 114.5"/>
<path class="mx c13" d="M67.6 138L55.9 124.5M139.5 143.4L127.8 125.2M144.1 140.8L132.4 122.3M176.3 132.6L164.7 114.1M180.9 132.7L169.3 114.8M187.7 121.3L176 105M185.2 112.6L173.5 97.5"/>
<path class="mx c13" d="M69.2 135.1L57.5 121.1M85.5 141.3L73.8 126.7M106.3 144.4L94.7 128.4M136.4 145.2L124.8 127.5M141.1 142.5L129.4 124.2M145.7 140.1L134 121.4M173.3 132.6L161.6 113.9M177.9 132.6L166.2 114.3M182.5 132.8L170.8 115.1M189.2 122.1L177.5 106.1M186.7 114L175 99.4M179.7 105.4L175.8 100.7"/>
<path class="mx c14" d="M70.7 132.2L59 117.6M112.5 138.1L100.8 120.7M147.2 139.4L135.5 120.5M151.8 137.4L140.1 118.3M156.4 135.7L144.7 116.5M161 134.4L149.3 115.2M165.6 133.5L153.9 114.3M170.2 132.9L158.5 114M186.1 120.5L174.5 103.8M183.7 111.2L172 95.7"/>
<path class="mx c14" d="M88.5 136.9L76.8 121.3M109.4 141.2L97.7 124.5M148.7 138.7L137 119.7M153.3 136.8L141.6 117.6M157.9 135.3L146.2 116M162.5 134.1L150.8 114.9M167.1 133.2L155.5 114.2M171.7 132.7L160.1 113.9M183.1 119.1L171.4 101.7M178.1 103.3L170.3 93.6"/>
<path class="mx c14" d="M111 139.6L99.3 122.6M150.3 138L138.6 119M154.9 136.3L143.2 117.1M159.5 134.8L147.8 115.6M164.1 133.8L152.4 114.6M168.7 133L157 114M184.6 119.8L172.9 102.8"/>
<path class="mx c15" d="M91.6 132.6L79.9 116.1M117.1 133.8L105.4 115.5M181.5 118.5L169.9 100.8M176.6 101.4L166.8 88.7"/>
<path class="mx c15" d="M72.2 129.4L60.6 114.3M114 136.6L102.3 118.9M178.5 117.3L166.8 99M180.6 108.6L168.9 92.1"/>
<path class="mx c15" d="M90.1 134.7L78.4 118.6M115.6 135.2L103.9 117.2M180 117.9L168.3 99.8M182.1 109.9L170.4 93.9"/>
<path class="mx c16" d="M121.7 129.9L110 110.7M176.9 116.8L165.3 98.1M179.1 107.4L167.4 90.4"/>
<path class="mx c16" d="M93.1 130.5L81.4 113.5M118.6 132.5L106.9 113.8M173.9 115.8L162.2 96.7"/>
<path class="mx c16" d="M73.8 126.7L62.1 111M120.2 131.1L108.5 112.2M175.4 116.3L163.7 97.4M175 99.4L163.4 83.7"/>
<path class="mx c17" d="M75.3 123.9L63.6 107.7M96.2 126.4L84.5 108.6M126.3 126.3L114.6 106.5M172.3 115.4L160.6 96"/>
<path class="mx c17" d="M123.2 128.6L111.5 109.2M169.3 114.8L157.6 94.9M176 105L164.3 87.2M173.5 97.5L161.8 81.3"/>
<path class="mx c17" d="M94.7 128.4L83 111.1M124.8 127.5L113.1 107.8M170.8 115.1L159.1 95.4M177.5 106.1L165.8 88.7"/>
<path class="mx c18" d="M130.9 123.2L119.2 102.8M163.1 114L151.4 93.4M167.7 114.5L156 94.4M174.5 103.8L162.8 85.6M172 95.7L160.3 78.9"/>
<path class="mx c18" d="M76.8 121.3L65.2 104.5M97.7 124.5L86 106.3M127.8 125.2L116.1 105.2M132.4 122.3L120.8 101.7M164.7 114.1L153 93.7"/>
<path class="mx c18" d="M99.3 122.6L87.6 104M129.4 124.2L117.7 103.9M134 121.4L122.3 100.6M161.6 113.9L149.9 93.2M166.2 114.3L154.5 94M172.9 102.8L161.2 84.2"/>
<path class="mx c19" d="M79.9 116.1L68.2 98.2M100.8 120.7L89.1 101.7M135.5 120.5L123.8 99.6M140.1 118.3L128.4 97.1M144.7 116.5L133 95.2M149.3 115.2L137.6 93.8M153.9 114.3L142.2 93.1M158.5 114L146.8 92.9M169.9 100.8L158.2 81.4"/>
<path class="mx c19" d="M102.3 118.9L90.7 99.6M137 119.7L125.4 98.7M141.6 117.6L130 96.4M146.2 116L134.6 94.6M150.8 114.9L139.2 93.5M155.5 114.2L143.8 93M160.1 113.9L148.4 93M171.4 101.7L159.7 82.7M168.9 92.1L157.2 74.3"/>
<path class="mx c19" d="M78.4 118.6L66.7 101.3M138.6 119L126.9 97.9M143.2 117.1L131.5 95.7M147.8 115.6L136.1 94.2M152.4 114.6L140.7 93.3M157 114L145.3 92.9M170.4 93.9L158.8 76.5"/>
<path class="mx c20" d="M105.4 115.5L93.7 95.4M167.4 90.4L155.7 72.1"/>
<path class="mx c20" d="M81.4 113.5L69.8 95.2M166.8 99L155.1 78.9"/>
<path class="mx c20" d="M103.9 117.2L92.2 97.5M168.3 99.8L156.6 80.1"/>
<path class="mx c21" d="M110 110.7L98.3 89.7M165.3 98.1L153.6 77.8"/>
<path class="mx c21" d="M106.9 113.8L95.3 93.4M162.2 96.7L150.5 75.7"/>
<path class="mx c21" d="M83 111.1L71.3 92.3M108.5 112.2L96.8 91.5M163.7 97.4L152 76.7M165.8 88.7L154.2 70"/>
<path class="mx c22" d="M84.5 108.6L72.8 89.4M160.6 96L149 74.7M162.8 85.6L151.1 65.9"/>
<path class="mx c22" d="M86 106.3L74.4 86.6M111.5 109.2L99.9 88M164.3 87.2L152.6 67.9"/>
<path class="mx c22" d="M113.1 107.8L101.4 86.3M159.1 95.4L147.4 73.9"/>
<path class="mx c23" d="M114.6 106.5L102.9 84.7M119.2 102.8L107.5 80.3M156 94.4L144.4 72.4"/>
<path class="mx c23" d="M116.1 105.2L104.5 83.1M153 93.7L141.3 71.2M157.6 94.9L145.9 73.1"/>
<path class="mx c23" d="M87.6 104L75.9 83.8M117.7 103.9L106 81.7M154.5 94L142.8 71.8M161.2 84.2L149.6 64"/>
<path class="mx c24" d="M89.1 101.7L77.4 81.1M123.8 99.6L112.1 76.7M146.8 92.9L135.2 69.9M151.4 93.4L139.8 70.8M158.2 81.4L146.5 60.4"/>
<path class="mx c24" d="M90.7 99.6L79 78.6M120.8 101.7L109.1 79M125.4 98.7L113.7 75.6M148.4 93L136.7 70.1M159.7 82.7L148 62.1"/>
<path class="mx c24" d="M122.3 100.6L110.6 77.8M149.9 93.2L138.2 70.4"/>
<path class="mx c25" d="M128.4 97.1L116.7 73.8M133 95.2L121.3 71.7M137.6 93.8L125.9 70.3M142.2 93.1L130.5 69.7"/>
<path class="mx c25" d="M130 96.4L118.3 73M134.6 94.6L122.9 71.1M139.2 93.5L127.5 70M143.8 93L132.1 69.7"/>
<path class="mx c25" d="M92.2 97.5L80.5 76.1M126.9 97.9L115.2 74.7M131.5 95.7L119.8 72.3M136.1 94.2L124.4 70.7M140.7 93.3L129 69.8M145.3 92.9L133.6 69.7M156.6 80.1L144.9 58.7"/>
<path class="mx c26" d="M93.7 95.4L82 73.6M153.6 77.8L141.9 55.6"/>
<path class="mx c26" d="M95.3 93.4L83.6 71.3M155.1 78.9L143.4 57.1"/>
<path class="mx c27" d="M98.3 89.7L86.6 66.9"/>
<path class="mx c27" d="M150.5 75.7L138.8 52.8"/>
<path class="mx c27" d="M96.8 91.5L85.1 69M152 76.7L140.3 54.2"/>
<path class="mx c28" d="M149 74.7L137.3 51.6"/>
<path class="mx c28" d="M99.9 88L88.2 64.8"/>
<path class="mx c28" d="M101.4 86.3L89.7 62.8M147.4 73.9L135.7 50.4"/>
<path class="mx c29" d="M102.9 84.7L91.2 60.9M144.4 72.4L132.7 48.4"/>
<path class="mx c29" d="M104.5 83.1L92.8 59.2M145.9 73.1L134.2 49.4"/>
<path class="mx c29" d="M106 81.7L94.3 57.5M142.8 71.8L131.1 47.6"/>
<path class="mx c30" d="M107.5 80.3L95.8 55.9M139.8 70.8L128.1 46.1"/>
<path class="mx c30" d="M109.1 79L97.4 54.4M141.3 71.2L129.6 46.8"/>
<path class="mx c30" d="M110.6 77.8L98.9 53M138.2 70.4L126.5 45.5"/>
<path class="mx c31" d="M112.1 76.7L100.4 51.7M116.7 73.8L105.1 48.4M130.5 69.7L118.9 44.2M135.2 69.9L123.5 44.7"/>
<path class="mx c31" d="M113.7 75.6L102 50.5M118.3 73L106.6 47.5M132.1 69.7L120.4 44.3M136.7 70.1L125 45.1"/>
<path class="mx c31" d="M115.2 74.7L103.5 49.4M119.8 72.3L108.1 46.7M129 69.8L117.3 44.3M133.6 69.7L121.9 44.4"/>
<path class="mx c32" d="M121.3 71.7L109.7 46.1M125.9 70.3L114.3 44.7"/>
<path class="mx c32" d="M122.9 71.1L111.2 45.5M127.5 70L115.8 44.4"/>
<path class="mx c32" d="M124.4 70.7L112.7 45"/>
<path class="mt c0" d="M152.8 226.3L154.4 225.9L155.9 225.5L157.5 225.1L159 224.6L160.5 224.2L162.1 223.8L163.6 223.4L165.1 223L166.7 222.6L168.2 222.2L169.7 221.8L171.3 221.3L172.8 220.9L174.3 220.5L175.9 220.1L177.4 219.7L178.9 219.3L180.5 218.9L182 218.5L183.5 218L185.1 217.6L186.6 217.2L188.1 216.8L189.7 216.4L191.2 216L192.7 215.6L194.3 215.1L195.8 214.7L197.4 214.3L198.9 213.9L200.4 213.5L202 213.1L203.5 212.7L205 212.3L206.6 211.8L208.1 211.4L209.6 211L211.2 210.6L212.7 210.2L214.2 209.8L215.8 209.4L217.3 209L218.8 208.5L220.4 208.1L221.9 207.7L223.4 207.3L225 206.9L226.5 206.5L228 206.1L229.6 205.7L231.1 205.2L232.6 204.8L234.2 204.4L235.7 204L237.2 203.6L238.8 203.2L240.3 202.8L241.9 202.3L243.4 201.9L244.9 201.5L246.5 201.1L248 200.7L249.5 200.3L251.1 199.9L252.6 199.5L254.1 199L255.7 198.6L257.2 198.2L258.7 197.8L260.3 197.4L261.8 197L263.3 196.6L264.9 196.2L266.4 195.7L267.9 195.3L269.5 194.9L271 194.5L272.5 194.1L274.1 193.7L275.6 193.3L277.1 192.8L278.7 192.4L280.2 192L281.7 191.6L283.3 191.2L284.8 190.8L286.4 190.4L287.9 190L289.4 189.5L291 189.1L292.5 188.7L294 188.3L295.6 187.9L297.1 187.5L298.6 187.1L300.2 186.7L301.7 186.2L303.2 185.8L304.8 185.4L306.3 185M141.2 220.9L142.7 220.4L144.2 220L145.8 219.6L147.3 219.1L148.8 218.7L150.4 218.2L151.9 217.8L153.4 217.3L155 216.9L156.5 216.4L158 216L159.6 215.5L161.1 215.1L162.6 214.7L164.2 214.2L165.7 213.8L167.3 213.3L168.8 212.9L170.3 212.4L171.9 212L173.4 211.6L174.9 211.1L176.5 210.7L178 210.2L179.5 209.8L181.1 209.4L182.6 208.9L184.1 208.5L185.7 208.1L187.2 207.6L188.7 207.2L190.3 206.8L191.8 206.3L193.3 205.9L194.9 205.5L196.4 205.1L197.9 204.6L199.5 204.2L201 203.8L202.5 203.4L204.1 202.9L205.6 202.5L207.1 202.1L208.7 201.7L210.2 201.3L211.8 200.8L213.3 200.4L214.8 200L216.4 199.6L217.9 199.2L219.4 198.8L221 198.4L222.5 197.9L224 197.5L225.6 197.1L227.1 196.7L228.6 196.3L230.2 195.9L231.7 195.5L233.2 195.1L234.8 194.7L236.3 194.3L237.8 193.9L239.4 193.5L240.9 193.1L242.4 192.7L244 192.3L245.5 191.9L247 191.5L248.6 191.1L250.1 190.7L251.6 190.3L253.2 189.9L254.7 189.6L256.3 189.2L257.8 188.8L259.3 188.4L260.9 188L262.4 187.6L263.9 187.2L265.5 186.8L267 186.5L268.5 186.1L270.1 185.7L271.6 185.3L273.1 184.9L274.7 184.5L276.2 184.2L277.7 183.8L279.3 183.4L280.8 183L282.3 182.6L283.9 182.2L285.4 181.9L286.9 181.5L288.5 181.1L290 180.7L291.5 180.3L293.1 180L294.6 179.6M129.5 215.5L131 214.9L132.5 214.4L134.1 213.8L135.6 213.3L137.2 212.7L138.7 212.2L140.2 211.7L141.8 211.1L143.3 210.6L144.8 210L146.4 209.5M267.6 177L269.1 176.7L270.7 176.4L272.2 176.1L273.7 175.9L275.3 175.6L276.8 175.3L278.3 175L279.9 174.7L281.4 174.5L282.9 174.2M117.8 210.1L119.3 209.4L120.9 208.6L122.4 207.9L123.9 207.2L125.5 206.5M265.1 169.2L266.6 169.1L268.2 169L269.7 168.9L271.2 168.8M106.1 204.7L107.6 203.7L109.2 202.8L110.7 201.8M256.5 163.1L258 163.2L259.6 163.4M94.4 199.2L96 198L97.5 196.8M246.3 157.5L247.9 157.9M82.7 193.8L84.3 192.2L85.8 190.6M234.7 151.7L236.2 152.5M71.1 188.4L72.6 186.4M59.4 183L60.9 180.5M47.7 177.6L49.2 174.5M36 172.2L37.5 168.4"/>
<path class="mt c1" d="M146.4 209.5L147.9 209L149.4 208.4L151 207.9L152.5 207.4L154 206.8L155.6 206.3L157.1 205.8L158.6 205.2L160.2 204.7L161.7 204.2L163.2 203.7L164.8 203.2L166.3 202.7L167.8 202.1L169.4 201.6L170.9 201.1L172.4 200.6L174 200.1L175.5 199.6L177 199.2L178.6 198.7L180.1 198.2L181.7 197.7L183.2 197.2L184.7 196.8L186.3 196.3L187.8 195.8L189.3 195.4L190.9 194.9L192.4 194.5L193.9 194M220 187L221.6 186.6L223.1 186.3L224.6 185.9L226.2 185.6L227.7 185.2L229.2 184.8L230.8 184.5L232.3 184.1L233.8 183.8L235.4 183.5L236.9 183.1L238.4 182.8L240 182.5L241.5 182.1L243 181.8L244.6 181.5L246.1 181.2L247.6 180.9L249.2 180.6L250.7 180.2L252.2 179.9L253.8 179.6L255.3 179.3L256.8 179L258.4 178.7L259.9 178.4L261.4 178.1L263 177.9L264.5 177.6L266.1 177.3L267.6 177M125.5 206.5L127 205.8L128.5 205.1L130.1 204.4L131.6 203.7L133.1 203L134.7 202.3L136.2 201.6L137.7 200.9L139.3 200.2L140.8 199.5M249.8 170.5L251.3 170.3L252.8 170.2L254.4 170.1L255.9 169.9L257.4 169.8L259 169.7L260.5 169.6L262 169.5L263.6 169.3L265.1 169.2M110.7 201.8L112.2 200.9L113.8 199.9L115.3 199L116.9 198.1L118.4 197.1M248.8 162.5L250.4 162.6L251.9 162.8L253.4 162.9L255 163L256.5 163.1M97.5 196.8L99 195.5L100.6 194.3L102.1 193M241.7 156.3L243.3 156.7L244.8 157.1L246.3 157.5M85.8 190.6L87.3 189L88.9 187.4M231.6 150.2L233.1 151L234.7 151.7M72.6 186.4L74.1 184.3L75.7 182.3M60.9 180.5L62.4 177.9M49.2 174.5L50.8 171.4M37.5 168.4L39.1 164.7"/>
<path class="mt c2" d="M193.9 194L195.5 193.6L197 193.1L198.5 192.7L200.1 192.3L201.6 191.8L203.1 191.4L204.7 191L206.2 190.6L207.7 190.2L209.3 189.8L210.8 189.3L212.3 189L213.9 188.6L215.4 188.2L216.9 187.8L218.5 187.4L220 187M140.8 199.5L142.3 198.8L143.9 198.2L145.4 197.5L147 196.8L148.5 196.2L150 195.5L151.6 194.9L153.1 194.2L154.6 193.6L156.2 193L157.7 192.3M232.9 172.3L234.4 172.1L236 171.9L237.5 171.7L239 171.6L240.6 171.4L242.1 171.2L243.6 171.1L245.2 170.9L246.7 170.8L248.2 170.6L249.8 170.5M118.4 197.1L119.9 196.2L121.5 195.3L123 194.3L124.5 193.4L126.1 192.5L127.6 191.6M239.6 162L241.1 162L242.7 162.1L244.2 162.2L245.7 162.3L247.3 162.4L248.8 162.5M102.1 193L103.6 191.8L105.2 190.5L106.7 189.3L108.2 188.1M235.6 154.6L237.1 155L238.7 155.4L240.2 155.8L241.7 156.3M88.9 187.4L90.4 185.8L91.9 184.2M228.5 148.6L230.1 149.4L231.6 150.2M75.7 182.3L77.2 180.2L78.7 178.2M218.4 142.2L219.9 143.5M62.4 177.9L64 175.4L65.5 172.8M50.8 171.4L52.3 168.3M39.1 164.7L40.6 160.9"/>
<path class="mt c3" d="M157.7 192.3L159.2 191.7L160.8 191.1L162.3 190.5L163.8 189.9L165.4 189.3L166.9 188.8L168.4 188.2L170 187.6L171.5 187.1L173 186.5L174.6 186L176.1 185.5L177.6 184.9L179.2 184.4L180.7 183.9L182.2 183.4L183.8 183L185.3 182.5L186.8 182L188.4 181.6L189.9 181.1L191.5 180.7M199.1 178.6L200.7 178.3L202.2 177.9L203.7 177.5L205.3 177.2L206.8 176.8L208.3 176.5L209.9 176.2L211.4 175.9L212.9 175.6L214.5 175.3L216 175L217.5 174.7L219.1 174.4L220.6 174.1L222.1 173.9L223.7 173.6L225.2 173.4L226.7 173.2L228.3 172.9L229.8 172.7L231.3 172.5L232.9 172.3M127.6 191.6L129.1 190.7L130.7 189.8L132.2 189L133.7 188.1L135.3 187.2M231.9 161.7L233.5 161.7L235 161.8L236.5 161.8L238.1 161.9L239.6 162M108.2 188.1L109.8 186.9L111.3 185.7L112.8 184.5M231 153.5L232.5 153.9L234.1 154.2L235.6 154.6M91.9 184.2L93.5 182.6L95 181L96.6 179.4M223.9 146.3L225.4 147.1L227 147.8L228.5 148.6M78.7 178.2L80.3 176.2M216.8 141L218.4 142.2M65.5 172.8L67 170.3M52.3 168.3L53.8 165.1"/>
<path class="mt c4" d="M191.5 180.7L193 180.3L194.5 179.8L196.1 179.4L197.6 179L199.1 178.6M135.3 187.2L136.8 186.4L138.3 185.5L139.9 184.7L141.4 183.9L142.9 183.1L144.5 182.3L146 181.5M221.2 161.6L222.7 161.6L224.3 161.6L225.8 161.6L227.3 161.6L228.9 161.6L230.4 161.6L231.9 161.7M112.8 184.5L114.4 183.3L115.9 182.1L117.4 181L119 179.8M224.9 152.1L226.4 152.4L227.9 152.7L229.5 153.1L231 153.5M96.6 179.4L98.1 177.9L99.6 176.3M220.8 144.8L222.4 145.6L223.9 146.3M80.3 176.2L81.8 174.2L83.3 172.1M213.8 138.6L215.3 139.8L216.8 141M67 170.3L68.6 167.8M53.8 165.1L55.4 162M40.6 160.9L42.1 157.2"/>
<path class="mt c5" d="M146 181.5L147.5 180.7L149.1 180L150.6 179.2L152.1 178.5L153.7 177.8L155.2 177.1L156.7 176.4L158.3 175.7L159.8 175M207.4 162.5L208.9 162.3L210.5 162.2L212 162.1L213.5 162L215.1 161.9L216.6 161.8L218.1 161.7L219.7 161.7L221.2 161.6M119 179.8L120.5 178.7L122 177.5L123.6 176.4L125.1 175.3M218.7 150.8L220.3 151.1L221.8 151.4L223.3 151.7L224.9 152.1M99.6 176.3L101.2 174.8L102.7 173.2M217.8 143.4L219.3 144.1L220.8 144.8M83.3 172.1L84.9 170.2L86.4 168.2M210.7 136.3L212.2 137.5L213.8 138.6M68.6 167.8L70.1 165.3L71.6 162.8M55.4 162L56.9 159M42.1 157.2L43.7 153.5"/>
<path class="mt c6" d="M159.8 175L161.4 174.4L162.9 173.7L164.4 173.1L166 172.5L167.5 171.9L169 171.4L170.6 170.8L172.1 170.3L173.6 169.7L175.2 169.2L176.7 168.8L178.2 168.3L179.8 167.8L181.3 167.4L182.8 167L184.4 166.6L185.9 166.2L187.4 165.8L189 165.4L190.5 165.1L192 164.8L193.6 164.5L195.1 164.2L196.6 163.9L198.2 163.7L199.7 163.4L201.2 163.2L202.8 163L204.3 162.8L205.9 162.6L207.4 162.5M125.1 175.3L126.6 174.3L128.2 173.2L129.7 172.1L131.3 171.1M212.6 149.8L214.1 150.1L215.7 150.3L217.2 150.6L218.7 150.8M102.7 173.2L104.2 171.7L105.8 170.2L107.3 168.8M213.2 141.3L214.7 142L216.2 142.7L217.8 143.4M86.4 168.2L87.9 166.2L89.5 164.3M207.6 134L209.2 135.1L210.7 136.3M71.6 162.8L73.2 160.3M56.9 159L58.4 155.9M43.7 153.5L45.2 149.8"/>
<path class="mt c7" d="M131.3 171.1L132.8 170.1L134.3 169.1L135.9 168.1L137.4 167.2M206.4 149.1L208 149.3L209.5 149.4L211 149.6L212.6 149.8M107.3 168.8L108.8 167.3L110.4 165.9M210.1 140L211.6 140.7L213.2 141.3M89.5 164.3L91 162.3M206.1 132.9L207.6 134M73.2 160.3L74.7 157.8M58.4 155.9L60 152.8M45.2 149.8L46.7 146.1"/>
<path class="mt c8" d="M137.4 167.2L138.9 166.2L140.5 165.3L142 164.4L143.5 163.5L145.1 162.7L146.6 161.9M197.2 148.7L198.8 148.7L200.3 148.7L201.8 148.8L203.4 148.9L204.9 149L206.4 149.1M110.4 165.9L111.9 164.4L113.4 163L115 161.7M205.5 138.3L207 138.8L208.6 139.4L210.1 140M91 162.3L92.5 160.4L94.1 158.5M203 130.7L204.6 131.8L206.1 132.9M74.7 157.8L76.2 155.4L77.8 153M195.9 123.2L197.5 124.8L199 126.4M60 152.8L61.5 149.8"/>
<path class="mt c9" d="M146.6 161.9L148.1 161.1L149.7 160.3L151.2 159.5L152.7 158.8L154.3 158.1L155.8 157.4L157.3 156.7L158.9 156.1L160.4 155.5M183.4 149.5L185 149.3L186.5 149.1L188 149L189.6 148.9L191.1 148.8L192.6 148.7L194.2 148.7L195.7 148.7L197.2 148.7M115 161.7L116.5 160.3L118 159L119.6 157.7M200.9 136.7L202.4 137.2L204 137.7L205.5 138.3M94.1 158.5L95.6 156.7L97.1 154.8M200 128.6L201.5 129.6L203 130.7M77.8 153L79.3 150.6M194.4 121.6L195.9 123.2M61.5 149.8L63 146.8M46.7 146.1L48.3 142.4"/>
<path class="mt c10" d="M160.4 155.5L161.9 154.9L163.5 154.4L165 153.8L166.5 153.3L168.1 152.8L169.6 152.4L171.1 152L172.7 151.6L174.2 151.2L175.8 150.8L177.3 150.5L178.8 150.2L180.4 150L181.9 149.7L183.4 149.5M119.6 157.7L121.1 156.4L122.6 155.1L124.2 153.9M196.3 135.3L197.8 135.7L199.4 136.2L200.9 136.7M97.1 154.8L98.7 153L100.2 151.2M196.9 126.6L198.4 127.6L200 128.6M79.3 150.6L80.9 148.2M192.9 120L194.4 121.6M63 146.8L64.6 143.8M48.3 142.4L49.8 138.8"/>
<path class="mt c11" d="M124.2 153.9L125.7 152.7L127.2 151.6L128.8 150.4L130.3 149.3M190.2 133.9L191.7 134.2L193.2 134.6L194.8 134.9L196.3 135.3M100.2 151.2L101.7 149.5L103.3 147.8M193.8 124.7L195.3 125.6L196.9 126.6M80.9 148.2L82.4 145.9L83.9 143.6M189.8 117L191.3 118.5L192.9 120M64.6 143.8L66.1 140.9M49.8 138.8L51.3 135.2"/>
<path class="mt c12" d="M130.3 149.3L131.8 148.2L133.4 147.2L134.9 146.2L136.4 145.2M184 133L185.6 133.2L187.1 133.4L188.6 133.6L190.2 133.9M103.3 147.8L104.8 146.1L106.3 144.4M190.7 122.9L192.3 123.8L193.8 124.7M83.9 143.6L85.5 141.3M188.3 115.5L189.8 117M66.1 140.9L67.6 138M51.3 135.2L52.9 131.6"/>
<path class="mt c13" d="M136.4 145.2L138 144.3L139.5 143.4L141.1 142.5L142.6 141.7L144.1 140.8L145.7 140.1L147.2 139.4M173.3 132.6L174.8 132.6L176.3 132.6L177.9 132.6L179.4 132.6L180.9 132.7L182.5 132.8L184 133M106.3 144.4L107.9 142.8L109.4 141.2M187.7 121.3L189.2 122.1L190.7 122.9M85.5 141.3L87 139.1L88.5 136.9M185.2 112.6L186.7 114L188.3 115.5M67.6 138L69.2 135.1L70.7 132.2M179.7 105.4L181.2 107.4M52.9 131.6L54.4 128"/>
<path class="mt c14" d="M147.2 139.4L148.7 138.7L150.3 138L151.8 137.4L153.3 136.8L154.9 136.3L156.4 135.7L157.9 135.3L159.5 134.8L161 134.4L162.5 134.1L164.1 133.8L165.6 133.5L167.1 133.2L168.7 133L170.2 132.9L171.7 132.7L173.3 132.6M109.4 141.2L111 139.6L112.5 138.1L114 136.6M183.1 119.1L184.6 119.8L186.1 120.5L187.7 121.3M88.5 136.9L90.1 134.7M183.7 111.2L185.2 112.6M70.7 132.2L72.2 129.4M178.1 103.3L179.7 105.4M54.4 128L55.9 124.5"/>
<path class="mt c15" d="M114 136.6L115.6 135.2L117.1 133.8L118.6 132.5M178.5 117.3L180 117.9L181.5 118.5L183.1 119.1M90.1 134.7L91.6 132.6L93.1 130.5M180.6 108.6L182.1 109.9L183.7 111.2M72.2 129.4L73.8 126.7M176.6 101.4L178.1 103.3M55.9 124.5L57.5 121.1"/>
<path class="mt c16" d="M118.6 132.5L120.2 131.1L121.7 129.9L123.2 128.6M173.9 115.8L175.4 116.3L176.9 116.8L178.5 117.3M93.1 130.5L94.7 128.4M179.1 107.4L180.6 108.6M73.8 126.7L75.3 123.9M175 99.4L176.6 101.4"/>
<path class="mt c17" d="M123.2 128.6L124.8 127.5L126.3 126.3L127.8 125.2M169.3 114.8L170.8 115.1L172.3 115.4L173.9 115.8M94.7 128.4L96.2 126.4L97.7 124.5M176 105L177.5 106.1L179.1 107.4M75.3 123.9L76.8 121.3M173.5 97.5L175 99.4M57.5 121.1L59 117.6"/>
<path class="mt c18" d="M127.8 125.2L129.4 124.2L130.9 123.2L132.4 122.3L134 121.4L135.5 120.5M161.6 113.9L163.1 114L164.7 114.1L166.2 114.3L167.7 114.5L169.3 114.8M97.7 124.5L99.3 122.6L100.8 120.7M172.9 102.8L174.5 103.8L176 105M76.8 121.3L78.4 118.6M172 95.7L173.5 97.5M59 117.6L60.6 114.3"/>
<path class="mt c19" d="M135.5 120.5L137 119.7L138.6 119L140.1 118.3L141.6 117.6L143.2 117.1L144.7 116.5L146.2 116L147.8 115.6L149.3 115.2L150.8 114.9L152.4 114.6L153.9 114.3L155.5 114.2L157 114L158.5 114L160.1 113.9L161.6 113.9M100.8 120.7L102.3 118.9L103.9 117.2M169.9 100.8L171.4 101.7L172.9 102.8M78.4 118.6L79.9 116.1L81.4 113.5M168.9 92.1L170.4 93.9L172 95.7M60.6 114.3L62.1 111"/>
<path class="mt c20" d="M103.9 117.2L105.4 115.5L106.9 113.8M166.8 99L168.3 99.8L169.9 100.8M81.4 113.5L83 111.1M167.4 90.4L168.9 92.1M62.1 111L63.6 107.7"/>
<path class="mt c21" d="M106.9 113.8L108.5 112.2L110 110.7L111.5 109.2M162.2 96.7L163.7 97.4L165.3 98.1L166.8 99M83 111.1L84.5 108.6M165.8 88.7L167.4 90.4M63.6 107.7L65.2 104.5M161.8 81.3L163.4 83.7"/>
<path class="mt c22" d="M111.5 109.2L113.1 107.8L114.6 106.5M159.1 95.4L160.6 96L162.2 96.7M84.5 108.6L86 106.3L87.6 104M162.8 85.6L164.3 87.2L165.8 88.7M65.2 104.5L66.7 101.3M160.3 78.9L161.8 81.3"/>
<path class="mt c23" d="M114.6 106.5L116.1 105.2L117.7 103.9L119.2 102.8L120.8 101.7M153 93.7L154.5 94L156 94.4L157.6 94.9L159.1 95.4M87.6 104L89.1 101.7M161.2 84.2L162.8 85.6M66.7 101.3L68.2 98.2M158.8 76.5L160.3 78.9"/>
<path class="mt c24" d="M120.8 101.7L122.3 100.6L123.8 99.6L125.4 98.7L126.9 97.9M146.8 92.9L148.4 93L149.9 93.2L151.4 93.4L153 93.7M89.1 101.7L90.7 99.6L92.2 97.5M158.2 81.4L159.7 82.7L161.2 84.2M68.2 98.2L69.8 95.2M157.2 74.3L158.8 76.5"/>
<path class="mt c25" d="M126.9 97.9L128.4 97.1L130 96.4L131.5 95.7L133 95.2L134.6 94.6L136.1 94.2L137.6 93.8L139.2 93.5L140.7 93.3L142.2 93.1L143.8 93L145.3 92.9L146.8 92.9M92.2 97.5L93.7 95.4M156.6 80.1L158.2 81.4M69.8 95.2L71.3 92.3M155.7 72.1L157.2 74.3"/>
<path class="mt c26" d="M93.7 95.4L95.3 93.4L96.8 91.5M153.6 77.8L155.1 78.9L156.6 80.1M71.3 92.3L72.8 89.4M154.2 70L155.7 72.1"/>
<path class="mt c27" d="M96.8 91.5L98.3 89.7L99.9 88M150.5 75.7L152 76.7L153.6 77.8M72.8 89.4L74.4 86.6M152.6 67.9L154.2 70"/>
<path class="mt c28" d="M99.9 88L101.4 86.3L102.9 84.7M147.4 73.9L149 74.7L150.5 75.7M74.4 86.6L75.9 83.8L77.4 81.1M149.6 64L151.1 65.9L152.6 67.9"/>
<path class="mt c29" d="M102.9 84.7L104.5 83.1L106 81.7L107.5 80.3M142.8 71.8L144.4 72.4L145.9 73.1L147.4 73.9M77.4 81.1L79 78.6M148 62.1L149.6 64"/>
<path class="mt c30" d="M107.5 80.3L109.1 79L110.6 77.8L112.1 76.7M138.2 70.4L139.8 70.8L141.3 71.2L142.8 71.8M79 78.6L80.5 76.1M146.5 60.4L148 62.1"/>
<path class="mt c31" d="M112.1 76.7L113.7 75.6L115.2 74.7L116.7 73.8L118.3 73L119.8 72.3L121.3 71.7M129 69.8L130.5 69.7L132.1 69.7L133.6 69.7L135.2 69.9L136.7 70.1L138.2 70.4M80.5 76.1L82 73.6M144.9 58.7L146.5 60.4"/>
<path class="mt c32" d="M121.3 71.7L122.9 71.1L124.4 70.7L125.9 70.3L127.5 70L129 69.8M82 73.6L83.6 71.3L85.1 69M141.9 55.6L143.4 57.1L144.9 58.7"/>
<path class="mt c33" d="M85.1 69L86.6 66.9M140.3 54.2L141.9 55.6"/>
<path class="mt c34" d="M86.6 66.9L88.2 64.8L89.7 62.8M137.3 51.6L138.8 52.8L140.3 54.2"/>
<path class="mt c35" d="M89.7 62.8L91.2 60.9L92.8 59.2M134.2 49.4L135.7 50.4L137.3 51.6"/>
<path class="mt c36" d="M92.8 59.2L94.3 57.5L95.8 55.9M131.1 47.6L132.7 48.4L134.2 49.4"/>
<path class="mt c37" d="M95.8 55.9L97.4 54.4L98.9 53L100.4 51.7M126.5 45.5L128.1 46.1L129.6 46.8L131.1 47.6"/>
<path class="mt c38" d="M100.4 51.7L102 50.5L103.5 49.4L105.1 48.4M121.9 44.4L123.5 44.7L125 45.1L126.5 45.5"/>
<path class="mt c39" d="M105.1 48.4L106.6 47.5L108.1 46.7L109.7 46.1L111.2 45.5L112.7 45L114.3 44.7L115.8 44.4L117.3 44.3L118.9 44.2L120.4 44.3L121.9 44.4"/>
</g>
<path d="M306.3 185L152.8 226.3L36 172.2" class="fa"/>
<path d="M36 172.2L36 54.6M36 172.2L32.4 170.5M36 152.6L32.4 150.9M36 133L32.4 131.3M36 113.4L32.4 111.7M36 93.8L32.4 92.1M36 74.2L32.4 72.5M36 54.6L32.4 52.9M152.8 226.3L156.5 228M183.5 218L187.2 219.7M214.2 209.8L217.9 211.5M244.9 201.5L248.5 203.2M275.6 193.3L279.2 194.9M306.3 185L309.9 186.7M152.8 226.3L149 227.3M94.4 199.2L90.6 200.3M36 172.2L32.1 173.2" class="ax"/>
<text class="tk" text-anchor="end" x="28.8" y="172.7">0</text>
<text class="tk" text-anchor="end" x="28.8" y="153.1">2</text>
<text class="tk" text-anchor="end" x="28.8" y="133.5">4</text>
<text class="tk" text-anchor="end" x="28.8" y="113.9">6</text>
<text class="tk" text-anchor="end" x="28.8" y="94.3">8</text>
<text class="tk" text-anchor="end" x="28.8" y="74.7">10</text>
<text class="tk" text-anchor="end" x="28.8" y="55.1">12</text>
<text class="tk" x="159.8" y="238">0</text>
<text class="tk" x="190.4" y="229.7">0.2</text>
<text class="tk" x="221.1" y="221.5">0.4</text>
<text class="tk" x="251.8" y="213.2">0.6</text>
<text class="tk" x="282.5" y="205">0.8</text>
<text class="tk" x="313.2" y="196.7">1</text>
<text class="tk" text-anchor="end" x="145.9" y="237.1">0</text>
<text class="tk" text-anchor="end" x="87.5" y="210.1">0.5</text>
<text class="tk" text-anchor="end" x="29.1" y="183">1</text>
<text class="al" text-anchor="middle" x="96.5" y="236.8">t</text>
<text class="al" text-anchor="middle" x="218.5" y="240">x</text>
<text class="al" text-anchor="middle" transform="translate(13.3 113.3) rotate(-90)">f(x,t)</text>
<text class="ti" text-anchor="middle" x="171.1" y="9.7">Source term f(x,t) computed from u(x,t) = t<tspan dy="-4.1" font-size="6.8">2</tspan><tspan dy="4.1" font-size="1">&#8203;</tspan> sin(<tspan class="pi">&#960;</tspan> x)</text>
<path d="M402.4 172.2L555.9 130.9M555.9 130.9L672.7 185M402.4 148.7L555.9 107.4M555.9 107.4L672.7 161.5M402.4 125.2L555.9 83.9M555.9 83.9L672.7 138M402.4 101.6L555.9 60.3M555.9 60.3L672.7 114.4M402.4 78.1L555.9 36.8M555.9 36.8L672.7 90.9M402.4 54.6L555.9 13.3M555.9 13.3L672.7 67.4M433.1 163.9L433.1 46.3M463.8 155.7L463.8 38.1M494.5 147.4L494.5 29.8M525.2 139.2L525.2 21.6M555.9 130.9L555.9 13.3M672.7 185L672.7 67.4M614.3 157.9L614.3 40.3" class="gr"/>
<path class="sil" d="M519.2 226.3L522.3 225.5L525.4 224.6L528.5 223.8L531.5 223L534.6 222.2L537.7 221.3L540.7 220.5L543.8 219.7L546.9 218.9L549.9 218L553 217.2L556.1 216.4L559.1 215.6L562.2 214.7L565.3 213.9L568.4 213.1L571.4 212.3L574.5 211.4L577.6 210.6L580.6 209.8L583.7 209L586.8 208.1L589.8 207.3L592.9 206.5L596 205.7L599 204.8L602.1 204L605.2 203.2L608.3 202.3L611.3 201.5L614.4 200.7L617.5 199.9L620.5 199L623.6 198.2L626.7 197.4L629.7 196.6L632.8 195.7L635.9 194.9L638.9 194.1L642 193.3L645.1 192.4L648.1 191.6L651.2 190.8L654.3 190L657.4 189.1L660.4 188.3L663.5 187.5L666.6 186.7L669.6 185.8L672.7 185L661 179.6L657.9 180.3L654.9 181.1L651.8 181.8L648.7 182.6L645.7 183.4L642.6 184.1L639.5 184.9L636.5 185.6L633.4 186.4L630.3 187.2L627.3 187.9L624.2 188.7L621.1 189.5L618 190.2L615 191L611.9 191.8L608.8 192.6L605.8 193.4L602.7 194.2L599.6 195L596.6 195.8L593.5 196.6L590.4 197.4L587.4 198.2L584.3 199.1L581.2 199.9L578.2 200.7L575.1 201.6L572 202.4L568.9 203.3L565.9 204.1L562.8 205L559.7 205.8L556.7 206.7L553.6 207.5L550.5 208.4L547.5 209.3L544.4 210.2L541.3 211.1L538.3 211.9L535.2 212.8L532.1 213.7L529 214.6L526 215.5L522.9 216.4L519.8 217.3L516.8 218.2L513.7 219.1L510.6 220L507.6 220.9ZM507.6 220.9L510.6 220L513.7 219.1L516.8 218.2L519.8 217.3L522.9 216.4L526 215.5L529 214.6L532.1 213.7L535.2 212.8L538.3 211.9L541.3 211.1L544.4 210.2L547.5 209.3L550.5 208.4L553.6 207.5L556.7 206.7L559.7 205.8L562.8 205L565.9 204.1L568.9 203.3L572 202.4L575.1 201.6L578.2 200.7L581.2 199.9L584.3 199.1L587.4 198.2L590.4 197.4L593.5 196.6L596.6 195.8L599.6 195L602.7 194.2L605.8 193.4L608.8 192.6L611.9 191.8L615 191L618 190.2L621.1 189.5L624.2 188.7L627.3 187.9L630.3 187.2L633.4 186.4L636.5 185.6L639.5 184.9L642.6 184.1L645.7 183.4L648.7 182.6L651.8 181.8L654.9 181.1L657.9 180.3L661 179.6L649.3 174.2L646.3 174.7L643.2 175.2L640.1 175.8L637.1 176.3L634 176.9L630.9 177.4L627.8 178L624.8 178.5L621.7 179.1L618.6 179.7L615.6 180.3L612.5 180.9L609.4 181.5L606.4 182.1L603.3 182.8L600.2 183.4L597.2 184.1L594.1 184.8L591 185.5L588 186.2L584.9 187L581.8 187.7L578.7 188.5L575.7 189.3L572.6 190.1L569.5 191L566.5 191.8L563.4 192.7L560.3 193.6L557.3 194.5L554.2 195.4L551.1 196.4L548.1 197.3L545 198.3L541.9 199.3L538.8 200.3L535.8 201.3L532.7 202.3L529.6 203.4L526.6 204.5L523.5 205.5L520.4 206.6L517.4 207.7L514.3 208.8L511.2 209.9L508.2 211L505.1 212.1L502 213.2L498.9 214.4L495.9 215.5ZM495.9 215.5L498.9 214.4L502 213.2L505.1 212.1L508.2 211L511.2 209.9L514.3 208.8L517.4 207.7L520.4 206.6L523.5 205.5L526.6 204.5L529.6 203.4L532.7 202.3L535.8 201.3L538.8 200.3L541.9 199.3L545 198.3L548.1 197.3L551.1 196.4L554.2 195.4L557.3 194.5L560.3 193.6L563.4 192.7L566.5 191.8L569.5 191L572.6 190.1L575.7 189.3L578.7 188.5L581.8 187.7L584.9 187L588 186.2L591 185.5L594.1 184.8L597.2 184.1L600.2 183.4L603.3 182.8L606.4 182.1L609.4 181.5L612.5 180.9L615.6 180.3L618.6 179.7L621.7 179.1L624.8 178.5L627.8 178L630.9 177.4L634 176.9L637.1 176.3L640.1 175.8L643.2 175.2L646.3 174.7L649.3 174.2L637.6 168.8L634.6 168.9L631.5 169.1L628.4 169.3L625.4 169.4L622.3 169.6L619.2 169.8L616.2 170L613.1 170.3L610 170.5L607 170.8L603.9 171.1L600.8 171.4L597.7 171.8L594.7 172.2L591.6 172.6L588.5 173L585.5 173.5L582.4 174.1L579.3 174.6L576.3 175.2L573.2 175.9L570.1 176.5L567.1 177.3L564 178L560.9 178.8L557.9 179.7L554.8 180.6L551.7 181.5L548.6 182.5L545.6 183.5L542.5 184.5L539.4 185.6L536.4 186.8L533.3 187.9L530.2 189.1L527.2 190.4L524.1 191.6L521 192.9L518 194.2L514.9 195.6L511.8 197L508.7 198.4L505.7 199.8L502.6 201.2L499.5 202.7L496.5 204.1L493.4 205.6L490.3 207.1L487.3 208.6L484.2 210.1ZM484.2 210.1L487.3 208.6L490.3 207.1L493.4 205.6L496.5 204.1L499.5 202.7L502.6 201.2L505.7 199.8L508.7 198.4L511.8 197L514.9 195.6L518 194.2L521 192.9L524.1 191.6L527.2 190.4L530.2 189.1L533.3 187.9L536.4 186.8L539.4 185.6L542.5 184.5L545.6 183.5L548.6 182.5L551.7 181.5L554.8 180.6L557.9 179.7L560.9 178.8L564 178L567.1 177.3L570.1 176.5L573.2 175.9L576.3 175.2L579.3 174.6L582.4 174.1L585.5 173.5L588.5 173L591.6 172.6L594.7 172.2L597.7 171.8L600.8 171.4L603.9 171.1L607 170.8L610 170.5L613.1 170.3L616.2 170L619.2 169.8L622.3 169.6L625.4 169.4L628.4 169.3L631.5 169.1L634.6 168.9L637.6 168.8L626 163.4L622.9 163L619.8 162.7L616.8 162.3L613.7 162L610.6 161.7L607.5 161.4L604.5 161.1L601.4 160.9L598.3 160.7L595.3 160.6L592.2 160.5L589.1 160.4L586.1 160.4L583 160.4L579.9 160.5L576.9 160.7L573.8 160.9L570.7 161.2L567.6 161.6L564.6 162L561.5 162.5L558.4 163L555.4 163.7L552.3 164.4L549.2 165.2L546.2 166.1L543.1 167L540 168L537 169.1L533.9 170.2L530.8 171.5L527.8 172.8L524.7 174.1L521.6 175.6L518.5 177L515.5 178.6L512.4 180.2L509.3 181.9L506.3 183.6L503.2 185.3L500.1 187.1L497.1 189L494 190.9L490.9 192.8L487.9 194.7L484.8 196.7L481.7 198.7L478.6 200.6L475.6 202.7L472.5 204.7ZM472.5 204.7L475.6 202.7L478.6 200.6L481.7 198.7L484.8 196.7L487.9 194.7L490.9 192.8L494 190.9L497.1 189L500.1 187.1L503.2 185.3L506.3 183.6L509.3 181.9L512.4 180.2L515.5 178.6L518.5 177L521.6 175.6L524.7 174.1L527.8 172.8L530.8 171.5L533.9 170.2L537 169.1L540 168L543.1 167L546.2 166.1L549.2 165.2L552.3 164.4L555.4 163.7L558.4 163L561.5 162.5L564.6 162L567.6 161.6L570.7 161.2L573.8 160.9L576.9 160.7L579.9 160.5L583 160.4L586.1 160.4L589.1 160.4L592.2 160.5L595.3 160.6L598.3 160.7L601.4 160.9L604.5 161.1L607.5 161.4L610.6 161.7L613.7 162L616.8 162.3L619.8 162.7L622.9 163L626 163.4L614.3 157.9L611.2 156.9L608.1 155.9L605.1 154.9L602 153.9L598.9 153L595.9 152.1L592.8 151.2L589.7 150.4L586.7 149.6L583.6 148.9L580.5 148.3L577.4 147.7L574.4 147.3L571.3 146.9L568.2 146.6L565.2 146.3L562.1 146.2L559 146.2L556 146.3L552.9 146.5L549.8 146.8L546.8 147.2L543.7 147.8L540.6 148.4L537.6 149.2L534.5 150.1L531.4 151.1L528.3 152.2L525.3 153.4L522.2 154.8L519.1 156.2L516.1 157.8L513 159.4L509.9 161.2L506.9 163.1L503.8 165L500.7 167.1L497.7 169.2L494.6 171.4L491.5 173.7L488.4 176.1L485.4 178.5L482.3 181L479.2 183.5L476.2 186L473.1 188.6L470 191.3L467 193.9L463.9 196.6L460.8 199.2ZM460.8 199.2L463.9 196.6L467 193.9L470 191.3L473.1 188.6L476.2 186L479.2 183.5L482.3 181L485.4 178.5L488.4 176.1L491.5 173.7L494.6 171.4L497.7 169.2L500.7 167.1L503.8 165L506.9 163.1L509.9 161.2L513 159.4L516.1 157.8L519.1 156.2L522.2 154.8L525.3 153.4L528.3 152.2L531.4 151.1L534.5 150.1L537.6 149.2L540.6 148.4L543.7 147.8L546.8 147.2L549.8 146.8L552.9 146.5L556 146.3L559 146.2L562.1 146.2L565.2 146.3L568.2 146.6L571.3 146.9L574.4 147.3L577.4 147.7L580.5 148.3L583.6 148.9L586.7 149.6L589.7 150.4L592.8 151.2L595.9 152.1L598.9 153L602 153.9L605.1 154.9L608.1 155.9L611.2 156.9L614.3 157.9L602.6 152.5L599.5 150.7L596.5 148.9L593.4 147.1L590.3 145.3L587.2 143.6L584.2 141.9L581.1 140.3L578 138.8L575 137.3L571.9 135.9L568.8 134.6L565.8 133.5L562.7 132.4L559.6 131.5L556.6 130.7L553.5 130L550.4 129.5L547.3 129.1L544.3 128.9L541.2 128.8L538.1 128.9L535.1 129.1L532 129.5L528.9 130.1L525.9 130.9L522.8 131.8L519.7 132.8L516.7 134.1L513.6 135.5L510.5 137.1L507.5 138.8L504.4 140.7L501.3 142.7L498.2 144.9L495.2 147.2L492.1 149.7L489 152.2L486 154.9L482.9 157.8L479.8 160.7L476.8 163.7L473.7 166.8L470.6 170L467.6 173.3L464.5 176.6L461.4 180L458.3 183.4L455.3 186.9L452.2 190.4L449.1 193.8ZM449.1 193.8L452.2 190.4L455.3 186.9L458.3 183.4L461.4 180L464.5 176.6L467.6 173.3L470.6 170L473.7 166.8L476.8 163.7L479.8 160.7L482.9 157.8L486 154.9L489 152.2L492.1 149.7L495.2 147.2L498.2 144.9L501.3 142.7L504.4 140.7L507.5 138.8L510.5 137.1L513.6 135.5L516.7 134.1L519.7 132.8L522.8 131.8L525.9 130.9L528.9 130.1L532 129.5L535.1 129.1L538.1 128.9L541.2 128.8L544.3 128.9L547.3 129.1L550.4 129.5L553.5 130L556.6 130.7L559.6 131.5L562.7 132.4L565.8 133.5L568.8 134.6L571.9 135.9L575 137.3L578 138.8L581.1 140.3L584.2 141.9L587.2 143.6L590.3 145.3L593.4 147.1L596.5 148.9L599.5 150.7L602.6 152.5L590.9 147.1L587.8 144.3L584.8 141.6L581.7 138.8L578.6 136.1L575.6 133.5L572.5 130.9L569.4 128.4L566.4 126L563.3 123.7L560.2 121.5L557.1 119.5L554.1 117.6L551 115.9L547.9 114.3L544.9 112.9L541.8 111.7L538.7 110.7L535.7 109.9L532.6 109.2L529.5 108.8L526.5 108.7L523.4 108.7L520.3 109L517.2 109.4L514.2 110.2L511.1 111.1L508 112.3L505 113.7L501.9 115.3L498.8 117.1L495.8 119.2L492.7 121.4L489.6 123.9L486.6 126.6L483.5 129.4L480.4 132.5L477.4 135.7L474.3 139.1L471.2 142.6L468.1 146.3L465.1 150.1L462 154.1L458.9 158.1L455.9 162.3L452.8 166.5L449.7 170.8L446.7 175.2L443.6 179.6L440.5 184L437.5 188.4ZM437.5 188.4L440.5 184L443.6 179.6L446.7 175.2L449.7 170.8L452.8 166.5L455.9 162.3L458.9 158.1L462 154.1L465.1 150.1L468.1 146.3L471.2 142.6L474.3 139.1L477.4 135.7L480.4 132.5L483.5 129.4L486.6 126.6L489.6 123.9L492.7 121.4L495.8 119.2L498.8 117.1L501.9 115.3L505 113.7L508 112.3L511.1 111.1L514.2 110.2L517.2 109.4L520.3 109L523.4 108.7L526.5 108.7L529.5 108.8L532.6 109.2L535.7 109.9L538.7 110.7L541.8 111.7L544.9 112.9L547.9 114.3L551 115.9L554.1 117.6L557.1 119.5L560.2 121.5L563.3 123.7L566.4 126L569.4 128.4L572.5 130.9L575.6 133.5L578.6 136.1L581.7 138.8L584.8 141.6L587.8 144.3L590.9 147.1L579.2 141.7L576.2 137.8L573.1 133.9L570 130.1L566.9 126.3L563.9 122.6L560.8 119L557.7 115.5L554.7 112.1L551.6 108.8L548.5 105.7L545.5 102.8L542.4 100.1L539.3 97.6L536.3 95.3L533.2 93.2L530.1 91.4L527 89.8L524 88.5L520.9 87.4L517.8 86.7L514.8 86.2L511.7 86L508.6 86L505.6 86.4L502.5 87.1L499.4 88.1L496.4 89.4L493.3 90.9L490.2 92.8L487.1 94.9L484.1 97.3L481 100.1L477.9 103L474.9 106.3L471.8 109.7L468.7 113.5L465.7 117.4L462.6 121.6L459.5 126L456.5 130.5L453.4 135.3L450.3 140.2L447.3 145.2L444.2 150.4L441.1 155.6L438 161L435 166.4L431.9 171.9L428.8 177.5L425.8 183ZM425.8 183L428.8 177.5L431.9 171.9L435 166.4L438 161L441.1 155.6L444.2 150.4L447.3 145.2L450.3 140.2L453.4 135.3L456.5 130.5L459.5 126L462.6 121.6L465.7 117.4L468.7 113.5L471.8 109.7L474.9 106.3L477.9 103L481 100.1L484.1 97.3L487.1 94.9L490.2 92.8L493.3 90.9L496.4 89.4L499.4 88.1L502.5 87.1L505.6 86.4L508.6 86L511.7 86L514.8 86.2L517.8 86.7L520.9 87.4L524 88.5L527 89.8L530.1 91.4L533.2 93.2L536.3 95.3L539.3 97.6L542.4 100.1L545.5 102.8L548.5 105.7L551.6 108.8L554.7 112.1L557.7 115.5L560.8 119L563.9 122.6L566.9 126.3L570 130.1L573.1 133.9L576.2 137.8L579.2 141.7L567.5 136.3L564.5 131.2L561.4 126L558.3 120.9L555.3 115.9L552.2 111L549.1 106.2L546.1 101.5L543 97L539.9 92.7L536.8 88.6L533.8 84.7L530.7 81L527.6 77.6L524.6 74.5L521.5 71.6L518.4 69.1L515.4 66.9L512.3 65L509.2 63.4L506.2 62.2L503.1 61.4L500 60.9L496.9 60.8L493.9 61.1L490.8 61.7L487.7 62.7L484.7 64.1L481.6 65.9L478.5 68L475.5 70.5L472.4 73.3L469.3 76.6L466.3 80.1L463.2 84L460.1 88.2L457.1 92.6L454 97.4L450.9 102.5L447.8 107.8L444.8 113.4L441.7 119.1L438.6 125.1L435.6 131.3L432.5 137.6L429.4 144L426.4 150.6L423.3 157.3L420.2 164L417.2 170.8L414.1 177.6ZM414.1 177.6L417.2 170.8L420.2 164L423.3 157.3L426.4 150.6L429.4 144L432.5 137.6L435.6 131.3L438.6 125.1L441.7 119.1L444.8 113.4L447.8 107.8L450.9 102.5L454 97.4L457.1 92.6L460.1 88.2L463.2 84L466.3 80.1L469.3 76.6L472.4 73.3L475.5 70.5L478.5 68L481.6 65.9L484.7 64.1L487.7 62.7L490.8 61.7L493.9 61.1L496.9 60.8L500 60.9L503.1 61.4L506.2 62.2L509.2 63.4L512.3 65L515.4 66.9L518.4 69.1L521.5 71.6L524.6 74.5L527.6 77.6L530.7 81L533.8 84.7L536.8 88.6L539.9 92.7L543 97L546.1 101.5L549.1 106.2L552.2 111L555.3 115.9L558.3 120.9L561.4 126L564.5 131.2L567.5 136.3L555.9 130.9L552.8 124.3L549.7 117.8L546.6 111.3L543.6 105L540.5 98.7L537.4 92.6L534.4 86.6L531.3 80.9L528.2 75.3L525.2 70L522.1 65L519 60.3L516 55.9L512.9 51.9L509.8 48.1L506.7 44.8L503.7 41.9L500.6 39.4L497.5 37.3L494.5 35.6L491.4 34.3L488.3 33.6L485.3 33.2L482.2 33.4L479.1 33.9L476.1 35L473 36.5L469.9 38.5L466.8 40.9L463.8 43.8L460.7 47.2L457.6 50.9L454.6 55.1L451.5 59.7L448.4 64.7L445.4 70L442.3 75.7L439.2 81.8L436.2 88.2L433.1 94.8L430 101.8L427 108.9L423.9 116.3L420.8 124L417.7 131.7L414.7 139.7L411.6 147.7L408.5 155.8L405.5 164L402.4 172.2Z"/>
<g class="mesh">
<path class="mx c0" d="M519.2 226.3L507.6 220.9M507.6 220.9L495.9 215.5M495.9 215.5L484.2 210.1M484.2 210.1L472.5 204.7M472.5 204.7L460.8 199.2M460.8 199.2L449.1 193.8M449.1 193.8L437.5 188.4M437.5 188.4L425.8 183M425.8 183L414.1 177.6M414.1 177.6L402.4 172.2M523.9 225.1L512.2 219.5M512.2 219.5L500.5 213.8M500.5 213.8L488.8 207.8M488.8 207.8L477.1 201.7M528.5 223.8L516.8 218.2M516.8 218.2L505.1 212.1M505.1 212.1L493.4 205.6M533.1 222.6L521.4 216.8M521.4 216.8L509.7 210.5M509.7 210.5L498 203.4M537.7 221.3L526 215.5M526 215.5L514.3 208.8M542.3 220.1L530.6 214.2M530.6 214.2L518.9 207.1M546.9 218.9L535.2 212.8M535.2 212.8L523.5 205.5M551.5 217.6L539.8 211.5M539.8 211.5L528.1 203.9M556.1 216.4L544.4 210.2M544.4 210.2L532.7 202.3M560.7 215.1L549 208.9M549 208.9L537.3 200.8M565.3 213.9L553.6 207.5M553.6 207.5L541.9 199.3M569.9 212.7L558.2 206.2M558.2 206.2L546.5 197.8M574.5 211.4L562.8 205M562.8 205L551.1 196.4M579.1 210.2L567.4 203.7M567.4 203.7L555.7 194.9M583.7 209L572 202.4M572 202.4L560.3 193.6M588.3 207.7L576.6 201.1M576.6 201.1L564.9 192.2M592.9 206.5L581.2 199.9M581.2 199.9L569.5 191M597.5 205.2L585.8 198.7M585.8 198.7L574.1 189.7M602.1 204L590.4 197.4M590.4 197.4L578.7 188.5M606.7 202.8L595 196.2M595 196.2L583.3 187.3M611.3 201.5L599.6 195M599.6 195L588 186.2M615.9 200.3L604.2 193.8M604.2 193.8L592.6 185.1M620.5 199L608.8 192.6M608.8 192.6L597.2 184.1M625.1 197.8L613.4 191.4M613.4 191.4L601.8 183.1M629.7 196.6L618 190.2M618 190.2L606.4 182.1M634.3 195.3L622.7 189.1M622.7 189.1L611 181.2M638.9 194.1L627.3 187.9M627.3 187.9L615.6 180.3M643.5 192.8L631.9 186.8M631.9 186.8L620.2 179.4M648.1 191.6L636.5 185.6M636.5 185.6L624.8 178.5M652.8 190.4L641.1 184.5M641.1 184.5L629.4 177.7M657.4 189.1L645.7 183.4M645.7 183.4L634 176.9M634 176.9L622.3 169.6M662 187.9L650.3 182.2M650.3 182.2L638.6 176M638.6 176L626.9 169.4M666.6 186.7L654.9 181.1M654.9 181.1L643.2 175.2M643.2 175.2L631.5 169.1M631.5 169.1L619.8 162.7M671.2 185.4L659.5 180M659.5 180L647.8 174.4M647.8 174.4L636.1 168.9M636.1 168.9L624.4 163.2M624.4 163.2L612.7 157.4M612.7 157.4L601.1 151.6M601.1 151.6L595.2 148.7"/>
<path class="mx c0" d="M520.8 225.9L509.1 220.4M509.1 220.4L497.4 214.9M497.4 214.9L485.7 209.3M485.7 209.3L474 203.7M474 203.7L462.4 197.9M462.4 197.9L450.7 192.1M450.7 192.1L439 186.2M525.4 224.6L513.7 219.1M513.7 219.1L502 213.2M502 213.2L490.3 207.1M490.3 207.1L478.6 200.6M530 223.4L518.3 217.7M518.3 217.7L506.6 211.6M506.6 211.6L494.9 204.9M534.6 222.2L522.9 216.4M522.9 216.4L511.2 209.9M511.2 209.9L499.5 202.7M539.2 220.9L527.5 215.1M527.5 215.1L515.8 208.2M543.8 219.7L532.1 213.7M532.1 213.7L520.4 206.6M548.4 218.5L536.7 212.4M536.7 212.4L525 205M553 217.2L541.3 211.1M541.3 211.1L529.6 203.4M557.6 216L545.9 209.7M545.9 209.7L534.2 201.8M562.2 214.7L550.5 208.4M550.5 208.4L538.8 200.3M566.8 213.5L555.1 207.1M555.1 207.1L543.4 198.8M571.4 212.3L559.7 205.8M559.7 205.8L548.1 197.3M576 211L564.3 204.5M564.3 204.5L552.7 195.9M580.6 209.8L568.9 203.3M568.9 203.3L557.3 194.5M585.2 208.5L573.5 202M573.5 202L561.9 193.1M589.8 207.3L578.2 200.7M578.2 200.7L566.5 191.8M594.4 206.1L582.8 199.5M582.8 199.5L571.1 190.5M599 204.8L587.4 198.2M587.4 198.2L575.7 189.3M603.6 203.6L592 197M592 197L580.3 188.1M608.3 202.3L596.6 195.8M596.6 195.8L584.9 187M612.9 201.1L601.2 194.6M601.2 194.6L589.5 185.9M617.5 199.9L605.8 193.4M605.8 193.4L594.1 184.8M622.1 198.6L610.4 192.2M610.4 192.2L598.7 183.8M626.7 197.4L615 191M615 191L603.3 182.8M631.3 196.2L619.6 189.9M619.6 189.9L607.9 181.8M635.9 194.9L624.2 188.7M624.2 188.7L612.5 180.9M640.5 193.7L628.8 187.5M628.8 187.5L617.1 180M645.1 192.4L633.4 186.4M633.4 186.4L621.7 179.1M649.7 191.2L638 185.3M638 185.3L626.3 178.2M654.3 190L642.6 184.1M642.6 184.1L630.9 177.4M658.9 188.7L647.2 183M647.2 183L635.5 176.6M635.5 176.6L623.8 169.5M663.5 187.5L651.8 181.8M651.8 181.8L640.1 175.8M640.1 175.8L628.4 169.3M668.1 186.2L656.4 180.7M656.4 180.7L644.7 175M644.7 175L633 169M633 169L621.4 162.8M672.7 185L661 179.6M661 179.6L649.3 174.2M649.3 174.2L637.6 168.8M637.6 168.8L626 163.4M626 163.4L614.3 157.9M614.3 157.9L602.6 152.5M602.6 152.5L598.7 150.7"/>
<path class="mx c0" d="M522.3 225.5L510.6 220M510.6 220L498.9 214.4M498.9 214.4L487.3 208.6M487.3 208.6L475.6 202.7M475.6 202.7L463.9 196.6M526.9 224.2L515.2 218.6M515.2 218.6L503.6 212.7M503.6 212.7L491.9 206.3M531.5 223L519.8 217.3M519.8 217.3L508.2 211M508.2 211L496.5 204.1M536.1 221.8L524.4 215.9M524.4 215.9L512.8 209.3M540.7 220.5L529 214.6M529 214.6L517.4 207.7M545.3 219.3L533.7 213.3M533.7 213.3L522 206.1M549.9 218L538.3 211.9M538.3 211.9L526.6 204.5M554.5 216.8L542.9 210.6M542.9 210.6L531.2 202.9M559.1 215.6L547.5 209.3M547.5 209.3L535.8 201.3M563.8 214.3L552.1 208M552.1 208L540.4 199.8M568.4 213.1L556.7 206.7M556.7 206.7L545 198.3M573 211.8L561.3 205.4M561.3 205.4L549.6 196.8M577.6 210.6L565.9 204.1M565.9 204.1L554.2 195.4M582.2 209.4L570.5 202.8M570.5 202.8L558.8 194M586.8 208.1L575.1 201.6M575.1 201.6L563.4 192.7M591.4 206.9L579.7 200.3M579.7 200.3L568 191.4M596 205.7L584.3 199.1M584.3 199.1L572.6 190.1M600.6 204.4L588.9 197.8M588.9 197.8L577.2 188.9M605.2 203.2L593.5 196.6M593.5 196.6L581.8 187.7M609.8 201.9L598.1 195.4M598.1 195.4L586.4 186.6M614.4 200.7L602.7 194.2M602.7 194.2L591 185.5M619 199.5L607.3 193M607.3 193L595.6 184.4M623.6 198.2L611.9 191.8M611.9 191.8L600.2 183.4M628.2 197L616.5 190.6M616.5 190.6L604.8 182.4M632.8 195.7L621.1 189.5M621.1 189.5L609.4 181.5M637.4 194.5L625.7 188.3M625.7 188.3L614 180.6M642 193.3L630.3 187.2M630.3 187.2L618.6 179.7M646.6 192L634.9 186M634.9 186L623.2 178.8M651.2 190.8L639.5 184.9M639.5 184.9L627.8 178M655.8 189.5L644.1 183.7M644.1 183.7L632.5 177.1M660.4 188.3L648.7 182.6M648.7 182.6L637.1 176.3M637.1 176.3L625.4 169.4M665 187.1L653.3 181.5M653.3 181.5L641.7 175.5M641.7 175.5L630 169.2M669.6 185.8L657.9 180.3M657.9 180.3L646.3 174.7M646.3 174.7L634.6 168.9M634.6 168.9L622.9 163M622.9 163L611.2 156.9"/>
<path class="mx c1" d="M477.1 201.7L465.4 195.2M465.4 195.2L453.7 188.6M453.7 188.6L442.1 181.8M493.4 205.6L481.7 198.7M481.7 198.7L470 191.3M498 203.4L486.3 195.7M514.3 208.8L502.6 201.2M502.6 201.2L490.9 192.8M518.9 207.1L507.2 199.1M523.5 205.5L511.8 197M528.1 203.9L516.4 194.9M532.7 202.3L521 192.9M537.3 200.8L525.6 191M541.9 199.3L530.2 189.1M546.5 197.8L534.8 187.3M551.1 196.4L539.4 185.6M555.7 194.9L544 184M588 186.2L576.3 175.2M592.6 185.1L580.9 174.3M597.2 184.1L585.5 173.5M601.8 183.1L590.1 172.8M606.4 182.1L594.7 172.2M611 181.2L599.3 171.6M615.6 180.3L603.9 171.1M620.2 179.4L608.5 170.7M624.8 178.5L613.1 170.3M629.4 177.7L617.7 169.9M617.7 169.9L606 161.3M622.3 169.6L610.6 161.7M626.9 169.4L615.2 162.1M615.2 162.1L603.5 154.4M619.8 162.7L608.1 155.9M608.1 155.9L596.5 148.9"/>
<path class="mx c1" d="M439 186.2L427.3 180.2M427.3 180.2L415.6 174.2M415.6 174.2L403.9 168.1M478.6 200.6L467 193.9M467 193.9L455.3 186.9M494.9 204.9L483.3 197.7M483.3 197.7L471.6 189.9M499.5 202.7L487.9 194.7M515.8 208.2L504.1 200.5M504.1 200.5L492.5 191.8M520.4 206.6L508.7 198.4M525 205L513.4 196.3M529.6 203.4L518 194.2M534.2 201.8L522.6 192.3M538.8 200.3L527.2 190.4M543.4 198.8L531.8 188.5M548.1 197.3L536.4 186.8M552.7 195.9L541 185.1M557.3 194.5L545.6 183.5M589.5 185.9L577.8 174.9M594.1 184.8L582.4 174.1M598.7 183.8L587 173.3M603.3 182.8L591.6 172.6M607.9 181.8L596.2 172M612.5 180.9L600.8 171.4M617.1 180L605.4 171M621.7 179.1L610 170.5M626.3 178.2L614.6 170.2M630.9 177.4L619.2 169.8M619.2 169.8L607.5 161.4M623.8 169.5L612.1 161.8M628.4 169.3L616.8 162.3M616.8 162.3L605.1 154.9M621.4 162.8L609.7 156.4M609.7 156.4L598 149.8M598 149.8L590.2 145.2"/>
<path class="mx c1" d="M463.9 196.6L452.2 190.4M452.2 190.4L440.5 184M440.5 184L428.8 177.5M491.9 206.3L480.2 199.7M480.2 199.7L468.5 192.6M496.5 204.1L484.8 196.7M512.8 209.3L501.1 201.9M501.1 201.9L489.4 193.7M517.4 207.7L505.7 199.8M505.7 199.8L494 190.9M522 206.1L510.3 197.7M526.6 204.5L514.9 195.6M531.2 202.9L519.5 193.6M535.8 201.3L524.1 191.6M540.4 199.8L528.7 189.7M545 198.3L533.3 187.9M549.6 196.8L537.9 186.2M554.2 195.4L542.5 184.5M558.8 194L547.1 183M586.4 186.6L574.7 175.5M591 185.5L579.3 174.6M595.6 184.4L583.9 173.8M600.2 183.4L588.5 173M604.8 182.4L593.1 172.4M609.4 181.5L597.7 171.8M614 180.6L602.4 171.3M618.6 179.7L607 170.8M623.2 178.8L611.6 170.4M627.8 178L616.2 170M616.2 170L604.5 161.1M632.5 177.1L620.8 169.7M620.8 169.7L609.1 161.5M625.4 169.4L613.7 162M630 169.2L618.3 162.5M618.3 162.5L606.6 155.4M611.2 156.9L599.5 150.7M599.5 150.7L593.7 147.5"/>
<path class="mx c2" d="M442.1 181.8L430.4 174.7M430.4 174.7L418.7 167.4M470 191.3L458.3 183.4M486.3 195.7L474.6 187.3M490.9 192.8L479.2 183.5M507.2 199.1L495.5 189.9M511.8 197L500.1 187.1M516.4 194.9L504.7 184.5M521 192.9L509.3 181.9M560.3 193.6L548.6 182.5M564.9 192.2L553.2 181M569.5 191L557.9 179.7M574.1 189.7L562.5 178.4M578.7 188.5L567.1 177.3M583.3 187.3L571.7 176.2M599.3 171.6L587.6 160.4M603.9 171.1L592.2 160.5M608.5 170.7L596.8 160.6M613.1 170.3L601.4 160.9M606 161.3L594.3 151.6M610.6 161.7L598.9 153M603.5 154.4L591.8 146.2M596.5 148.9L586.7 142.8"/>
<path class="mx c2" d="M455.3 186.9L443.6 179.6M443.6 179.6L431.9 171.9M471.6 189.9L459.9 181.7M487.9 194.7L476.2 186M492.5 191.8L480.8 182.2M508.7 198.4L497.1 189M513.4 196.3L501.7 186.2M518 194.2L506.3 183.6M522.6 192.3L510.9 181M561.9 193.1L550.2 182M566.5 191.8L554.8 180.6M571.1 190.5L559.4 179.3M575.7 189.3L564 178M580.3 188.1L568.6 176.9M584.9 187L573.2 175.9M600.8 171.4L589.1 160.4M605.4 171L593.7 160.5M610 170.5L598.3 160.7M614.6 170.2L602.9 161M607.5 161.4L595.9 152.1M612.1 161.8L600.5 153.5M605.1 154.9L593.4 147.1"/>
<path class="mx c2" d="M428.8 177.5L417.2 170.8M417.2 170.8L405.5 164M468.5 192.6L456.8 185.2M456.8 185.2L445.1 177.4M484.8 196.7L473.1 188.6M473.1 188.6L461.4 180M489.4 193.7L477.7 184.7M510.3 197.7L498.6 188.1M514.9 195.6L503.2 185.3M519.5 193.6L507.8 182.7M563.4 192.7L551.7 181.5M568 191.4L556.3 180.1M572.6 190.1L560.9 178.8M577.2 188.9L565.5 177.6M581.8 187.7L570.1 176.5M602.4 171.3L590.7 160.4M607 170.8L595.3 160.6M611.6 170.4L599.9 160.8M609.1 161.5L597.4 152.5M613.7 162L602 153.9M602 153.9L590.3 145.3M606.6 155.4L594.9 148M594.9 148L583.2 140.2"/>
<path class="mx c3" d="M418.7 167.4L407 159.9M458.3 183.4L446.7 175.2M474.6 187.3L463 178.3M495.5 189.9L483.8 179.7M500.1 187.1L488.4 176.1M525.6 191L513.9 179.4M530.2 189.1L518.5 177M534.8 187.3L523.1 174.8M539.4 185.6L527.8 172.8M544 184L532.4 170.8M548.6 182.5L537 169.1M553.2 181L541.6 167.5M567.1 177.3L555.4 163.7M571.7 176.2L560 162.8M576.3 175.2L564.6 162M580.9 174.3L569.2 161.4M585.5 173.5L573.8 160.9M590.1 172.8L578.4 160.6M594.7 172.2L583 160.4M601.4 160.9L589.7 150.4M598.9 153L587.2 143.6M591.8 146.2L580.2 137.5"/>
<path class="mx c3" d="M431.9 171.9L420.2 164M459.9 181.7L448.2 173M476.2 186L464.5 176.6M497.1 189L485.4 178.5M527.2 190.4L515.5 178.6M531.8 188.5L520.1 176.3M536.4 186.8L524.7 174.1M541 185.1L529.3 172.1M545.6 183.5L533.9 170.2M550.2 182L538.5 168.5M554.8 180.6L543.1 167M568.6 176.9L556.9 163.4M573.2 175.9L561.5 162.5M577.8 174.9L566.1 161.8M582.4 174.1L570.7 161.2M587 173.3L575.3 160.8M591.6 172.6L579.9 160.5M596.2 172L584.5 160.4M598.3 160.7L586.7 149.6M602.9 161L591.3 150.8M600.5 153.5L588.8 144.4M593.4 147.1L581.7 138.8"/>
<path class="mx c3" d="M445.1 177.4L433.4 169.2M461.4 180L449.7 170.8M477.7 184.7L466 175M494 190.9L482.3 181M498.6 188.1L486.9 177.3M524.1 191.6L512.4 180.2M528.7 189.7L517 177.8M533.3 187.9L521.6 175.6M537.9 186.2L526.2 173.4M542.5 184.5L530.8 171.5M547.1 183L535.4 169.7M551.7 181.5L540 168M556.3 180.1L544.6 166.5M565.5 177.6L553.8 164M570.1 176.5L558.4 163M574.7 175.5L563 162.2M579.3 174.6L567.6 161.6M583.9 173.8L572.3 161M588.5 173L576.9 160.7M593.1 172.4L581.5 160.5M597.7 171.8L586.1 160.4M599.9 160.8L588.2 150M604.5 161.1L592.8 151.2M597.4 152.5L585.7 142.7M590.3 145.3L578.6 136.1"/>
<path class="mx c4" d="M446.7 175.2L435 166.4M463 178.3L451.3 168.6M479.2 183.5L467.6 173.3M483.8 179.7L472.2 168.4M504.7 184.5L493 172.6M509.3 181.9L497.7 169.2M557.9 179.7L546.2 166.1M562.5 178.4L550.8 164.8M587.6 160.4L575.9 147.5M592.2 160.5L580.5 148.3M596.8 160.6L585.1 149.3M594.3 151.6L582.6 141.1M587.2 143.6L575.6 133.5M580.2 137.5L574.3 132.8"/>
<path class="mx c4" d="M420.2 164L408.5 155.8M448.2 173L436.5 163.7M464.5 176.6L452.8 166.5M480.8 182.2L469.1 171.7M501.7 186.2L490 174.9M506.3 183.6L494.6 171.4M510.9 181L499.2 168.1M559.4 179.3L547.7 165.6M564 178L552.3 164.4M589.1 160.4L577.4 147.7M593.7 160.5L582.1 148.6M591.3 150.8L579.6 139.5M595.9 152.1L584.2 141.9M588.8 144.4L577.1 134.8M581.7 138.8L577.8 135.9"/>
<path class="mx c4" d="M433.4 169.2L421.8 160.6M482.3 181L470.6 170M503.2 185.3L491.5 173.7M507.8 182.7L496.1 170.3M560.9 178.8L549.2 165.2M590.7 160.4L579 148M595.3 160.6L583.6 148.9M592.8 151.2L581.1 140.3"/>
<path class="mx c5" d="M435 166.4L423.3 157.3M451.3 168.6L439.6 158.3M467.6 173.3L455.9 162.3M488.4 176.1L476.8 163.7M513.9 179.4L502.3 166M518.5 177L506.9 163.1M523.1 174.8L511.5 160.3M573.8 160.9L562.1 146.2M578.4 160.6L566.7 146.4M583 160.4L571.3 146.9M585.1 149.3L573.4 136.6M589.7 150.4L578 138.8"/>
<path class="mx c5" d="M436.5 163.7L424.8 153.9M485.4 178.5L473.7 166.8M490 174.9L478.3 162.2M515.5 178.6L503.8 165M520.1 176.3L508.4 162.1M524.7 174.1L513 159.4M575.3 160.8L563.6 146.3M579.9 160.5L568.2 146.6M584.5 160.4L572.8 147M586.7 149.6L575 137.3M584.2 141.9L572.5 130.9M577.1 134.8L567.4 126.2"/>
<path class="mx c5" d="M421.8 160.6L410.1 151.7M449.7 170.8L438 161M466 175L454.3 164.4M486.9 177.3L475.2 165.3M512.4 180.2L500.7 167.1M517 177.8L505.3 164M521.6 175.6L509.9 161.2M576.9 160.7L565.2 146.3M581.5 160.5L569.8 146.7M586.1 160.4L574.4 147.3M588.2 150L576.5 138M585.7 142.7L574 132.2M578.6 136.1L570.8 129.6"/>
<path class="mx c6" d="M423.3 157.3L411.6 147.7M472.2 168.4L460.5 156.1M493 172.6L481.4 159.2M527.8 172.8L516.1 157.8M532.4 170.8L520.7 155.5M537 169.1L525.3 153.4M541.6 167.5L529.9 151.6M546.2 166.1L534.5 150.1M550.8 164.8L539.1 148.8M555.4 163.7L543.7 147.8M560 162.8L548.3 147M564.6 162L552.9 146.5M569.2 161.4L557.5 146.2M580.5 148.3L568.8 134.6M582.6 141.1L571 129.6M575.6 133.5L563.9 122.6"/>
<path class="mx c6" d="M452.8 166.5L441.1 155.6M469.1 171.7L457.4 160.2M494.6 171.4L482.9 157.8M529.3 172.1L517.6 157M533.9 170.2L522.2 154.8M538.5 168.5L526.8 152.8M543.1 167L531.4 151.1M547.7 165.6L536 149.6M552.3 164.4L540.6 148.4M556.9 163.4L545.2 147.5M561.5 162.5L549.8 146.8M566.1 161.8L554.4 146.4M570.7 161.2L559 146.2M582.1 148.6L570.4 135.3M579.6 139.5L567.9 127.2"/>
<path class="mx c6" d="M438 161L426.4 150.6M454.3 164.4L442.6 153M470.6 170L458.9 158.1M491.5 173.7L479.8 160.7M496.1 170.3L484.4 156.3M526.2 173.4L514.5 158.6M530.8 171.5L519.1 156.2M535.4 169.7L523.7 154.1M540 168L528.3 152.2M544.6 166.5L532.9 150.6M549.2 165.2L537.6 149.2M553.8 164L542.2 148.1M558.4 163L546.8 147.2M563 162.2L551.4 146.7M567.6 161.6L556 146.3M572.3 161L560.6 146.2M579 148L567.3 134M583.6 148.9L571.9 135.9M581.1 140.3L569.4 128.4M574 132.2L562.3 120.8"/>
<path class="mx c7" d="M439.6 158.3L427.9 147.3M455.9 162.3L444.2 150.4M497.7 169.2L486 154.9M502.3 166L490.6 150.9M575.9 147.5L564.2 132.9M578 138.8L566.4 126"/>
<path class="mx c7" d="M424.8 153.9L413.1 143.7M473.7 166.8L462 154.1M499.2 168.1L487.5 153.6M572.8 147L561.2 131.9M577.4 147.7L565.8 133.5M572.5 130.9L560.8 119"/>
<path class="mx c7" d="M475.2 165.3L463.5 152.1M500.7 167.1L489 152.2M574.4 147.3L562.7 132.4M576.5 138L564.8 124.8"/>
<path class="mx c8" d="M476.8 163.7L465.1 150.1M506.9 163.1L495.2 147.2M511.5 160.3L499.8 143.8M566.7 146.4L555 130.3M571.3 146.9L559.6 131.5M573.4 136.6L561.7 122.6M571 129.6L559.3 117.2"/>
<path class="mx c8" d="M441.1 155.6L429.4 144M457.4 160.2L445.7 147.8M478.3 162.2L466.6 148.2M503.8 165L492.1 149.7M508.4 162.1L496.7 146M563.6 146.3L552 129.7M568.2 146.6L556.6 130.7M575 137.3L563.3 123.7"/>
<path class="mx c8" d="M426.4 150.6L414.7 139.7M442.6 153L431 140.8M458.9 158.1L447.3 145.2M479.8 160.7L468.1 146.3M505.3 164L493.6 148.4M509.9 161.2L498.2 144.9M565.2 146.3L553.5 130M569.8 146.7L558.1 131.1M571.9 135.9L560.2 121.5M569.4 128.4L557.7 115.5M562.3 120.8L558.4 116.7"/>
<path class="mx c9" d="M427.9 147.3L416.2 135.7M444.2 150.4L432.5 137.6M460.5 156.1L448.8 142.7M481.4 159.2L469.7 144.4M516.1 157.8L504.4 140.7M520.7 155.5L509 137.9M525.3 153.4L513.6 135.5M552.9 146.5L541.2 128.8M557.5 146.2L545.8 129M562.1 146.2L550.4 129.5M568.8 134.6L557.1 119.5M566.4 126L554.7 112.1"/>
<path class="mx c9" d="M462 154.1L450.3 140.2M482.9 157.8L471.2 142.6M513 159.4L501.3 142.7M517.6 157L505.9 139.7M522.2 154.8L510.5 137.1M549.8 146.8L538.1 128.9M554.4 146.4L542.7 128.8M559 146.2L547.3 129.1M570.4 135.3L558.7 120.5M567.9 127.2L556.2 113.7M560.8 119L555 112.6"/>
<path class="mx c9" d="M484.4 156.3L472.7 140.8M514.5 158.6L502.8 141.7M519.1 156.2L507.5 138.8M523.7 154.1L512.1 136.3M551.4 146.7L539.7 128.8M556 146.3L544.3 128.9M560.6 146.2L548.9 129.3M567.3 134L555.6 118.5"/>
<path class="mx c10" d="M465.1 150.1L453.4 135.3M486 154.9L474.3 139.1M529.9 151.6L518.2 133.4M534.5 150.1L522.8 131.8M539.1 148.8L527.4 130.5M543.7 147.8L532 129.5M548.3 147L536.6 129M564.2 132.9L552.5 116.7M559.3 117.2L551.5 108.3"/>
<path class="mx c10" d="M429.4 144L417.7 131.7M445.7 147.8L434 134.4M487.5 153.6L475.8 137.4M526.8 152.8L515.1 134.8M531.4 151.1L519.7 132.8M536 149.6L524.3 131.3M540.6 148.4L528.9 130.1M545.2 147.5L533.5 129.3M565.8 133.5L554.1 117.6M563.3 123.7L551.6 108.8"/>
<path class="mx c10" d="M463.5 152.1L451.9 137.7M489 152.2L477.4 135.7M528.3 152.2L516.7 134.1M532.9 150.6L521.3 132.3M537.6 149.2L525.9 130.9M542.2 148.1L530.5 129.8M546.8 147.2L535.1 129.1M562.7 132.4L551 115.9M564.8 124.8L553.1 110.4"/>
<path class="mx c11" d="M448.8 142.7L437.1 128.2M490.6 150.9L478.9 134.1M495.2 147.2L483.5 129.4M559.6 131.5L547.9 114.3M561.7 122.6L550.1 107.3"/>
<path class="mx c11" d="M466.6 148.2L454.9 132.9M492.1 149.7L480.4 132.5M556.6 130.7L544.9 112.9M561.2 131.9L549.5 115.1M556.2 113.7L544.5 99.3"/>
<path class="mx c11" d="M431 140.8L419.3 127.8M447.3 145.2L435.6 131.3M468.1 146.3L456.5 130.5M493.6 148.4L482 130.9M558.1 131.1L546.4 113.6M560.2 121.5L548.5 105.7M557.7 115.5L546.1 101.5"/>
<path class="mx c12" d="M432.5 137.6L420.8 124M469.7 144.4L458 128.2M499.8 143.8L488.1 125.2M550.4 129.5L538.7 110.7M555 130.3L543.3 112.3M557.1 119.5L545.5 102.8M554.7 112.1L543 97"/>
<path class="mx c12" d="M450.3 140.2L438.6 125.1M471.2 142.6L459.5 126M496.7 146L485 128M501.3 142.7L489.6 123.9M552 129.7L540.3 111.2M558.7 120.5L547 104.3"/>
<path class="mx c12" d="M498.2 144.9L486.6 126.6M553.5 130L541.8 111.7"/>
<path class="mx c13" d="M453.4 135.3L441.7 119.1M474.3 139.1L462.6 121.6M504.4 140.7L492.7 121.4M509 137.9L497.3 118.1M541.2 128.8L529.5 108.8M545.8 129L534.1 109.5"/>
<path class="mx c13" d="M434 134.4L422.3 120.1M505.9 139.7L494.2 120.3M510.5 137.1L498.8 117.1M542.7 128.8L531.1 109M547.3 129.1L535.7 109.9M554.1 117.6L542.4 100.1M551.6 108.8L539.9 92.7"/>
<path class="mx c13" d="M435.6 131.3L423.9 116.3M451.9 137.7L440.2 122.1M472.7 140.8L461.1 123.7M502.8 141.7L491.2 122.6M507.5 138.8L495.8 119.2M512.1 136.3L500.4 116.2M539.7 128.8L528 108.7M544.3 128.9L532.6 109.2M548.9 129.3L537.2 110.2M555.6 118.5L543.9 101.4M553.1 110.4L541.4 94.8"/>
<path class="mx c14" d="M437.1 128.2L425.4 112.6M478.9 134.1L467.2 115.4M513.6 135.5L501.9 115.3M518.2 133.4L506.5 112.9M522.8 131.8L511.1 111.1M527.4 130.5L515.7 109.8M532 129.5L520.3 109M536.6 129L524.9 108.7M552.5 116.7L540.9 98.8M550.1 107.3L538.4 90.6"/>
<path class="mx c14" d="M454.9 132.9L443.2 116.2M475.8 137.4L464.1 119.5M515.1 134.8L503.4 114.4M519.7 132.8L508 112.3M524.3 131.3L512.6 110.6M528.9 130.1L517.2 109.4M533.5 129.3L521.9 108.8M538.1 128.9L526.5 108.7M549.5 115.1L537.8 96.4M544.5 99.3L540.6 94.1"/>
<path class="mx c14" d="M477.4 135.7L465.7 117.4M516.7 134.1L505 113.7M521.3 132.3L509.6 111.7M525.9 130.9L514.2 110.2M530.5 129.8L518.8 109.2M535.1 129.1L523.4 108.7M551 115.9L539.3 97.6"/>
<path class="mx c15" d="M458 128.2L446.3 110.6M483.5 129.4L471.8 109.7M547.9 114.3L536.3 95.3M543 97L535.2 86.2"/>
<path class="mx c15" d="M438.6 125.1L427 108.9M480.4 132.5L468.7 113.5M544.9 112.9L533.2 93.2M547 104.3L535.3 86.6"/>
<path class="mx c15" d="M456.5 130.5L444.8 113.4M482 130.9L470.3 111.6M546.4 113.6L534.7 94.2M548.5 105.7L536.8 88.6"/>
<path class="mx c16" d="M488.1 125.2L476.4 104.6M543.3 112.3L531.7 92.3M545.5 102.8L533.8 84.7"/>
<path class="mx c16" d="M459.5 126L447.8 107.8M485 128L473.3 108M540.3 111.2L528.6 90.6"/>
<path class="mx c16" d="M440.2 122.1L428.5 105.3M486.6 126.6L474.9 106.3M541.8 111.7L530.1 91.4M541.4 94.8L531.7 80.9"/>
<path class="mx c17" d="M441.7 119.1L430 101.8M462.6 121.6L450.9 102.5M492.7 121.4L481 100.1M538.7 110.7L527 89.8"/>
<path class="mx c17" d="M489.6 123.9L477.9 103M535.7 109.9L524 88.5M542.4 100.1L530.7 81M539.9 92.7L528.2 75.3"/>
<path class="mx c17" d="M461.1 123.7L449.4 105.1M491.2 122.6L479.5 101.5M537.2 110.2L525.5 89.1M543.9 101.4L532.2 82.8"/>
<path class="mx c18" d="M497.3 118.1L485.6 96.1M529.5 108.8L517.8 86.7M534.1 109.5L522.4 87.9M540.9 98.8L529.2 79.3M538.4 90.6L526.7 72.6"/>
<path class="mx c18" d="M443.2 116.2L431.6 98.3M464.1 119.5L452.4 99.9M494.2 120.3L482.5 98.7M498.8 117.1L487.1 94.9M531.1 109L519.4 87"/>
<path class="mx c18" d="M465.7 117.4L454 97.4M495.8 119.2L484.1 97.3M500.4 116.2L488.7 93.8M528 108.7L516.3 86.4M532.6 109.2L520.9 87.4M539.3 97.6L527.6 77.6"/>
<path class="mx c19" d="M446.3 110.6L434.6 91.4M467.2 115.4L455.5 95M501.9 115.3L490.2 92.8M506.5 112.9L494.8 90.1M511.1 111.1L499.4 88.1M515.7 109.8L504 86.7M520.3 109L508.6 86M524.9 108.7L513.2 86M536.3 95.3L524.6 74.5"/>
<path class="mx c19" d="M468.7 113.5L457.1 92.6M503.4 114.4L491.8 91.8M508 112.3L496.4 89.4M512.6 110.6L501 87.6M517.2 109.4L505.6 86.4M521.9 108.8L510.2 86M526.5 108.7L514.8 86.2M537.8 96.4L526.1 76M535.3 86.6L523.6 67.5"/>
<path class="mx c19" d="M444.8 113.4L433.1 94.8M505 113.7L493.3 90.9M509.6 111.7L497.9 88.7M514.2 110.2L502.5 87.1M518.8 109.2L507.1 86.2M523.4 108.7L511.7 86M536.8 88.6L525.2 70"/>
<path class="mx c20" d="M471.8 109.7L460.1 88.2M533.8 84.7L522.1 65"/>
<path class="mx c20" d="M447.8 107.8L436.2 88.2M533.2 93.2L521.5 71.6"/>
<path class="mx c20" d="M470.3 111.6L458.6 90.4M534.7 94.2L523 73"/>
<path class="mx c21" d="M476.4 104.6L464.7 82M531.7 92.3L520 70.3"/>
<path class="mx c21" d="M473.3 108L461.7 86M528.6 90.6L516.9 67.9"/>
<path class="mx c21" d="M449.4 105.1L437.7 84.9M474.9 106.3L463.2 84M530.1 91.4L518.4 69.1M532.2 82.8L520.6 62.6"/>
<path class="mx c22" d="M450.9 102.5L439.2 81.8M527 89.8L515.4 66.9M529.2 79.3L517.5 58.1"/>
<path class="mx c22" d="M452.4 99.9L440.8 78.7M477.9 103L466.3 80.1M530.7 81L519 60.3"/>
<path class="mx c22" d="M479.5 101.5L467.8 78.3M525.5 89.1L513.8 65.9"/>
<path class="mx c23" d="M481 100.1L469.3 76.6M485.6 96.1L473.9 71.9M522.4 87.9L510.8 64.2"/>
<path class="mx c23" d="M482.5 98.7L470.9 74.9M519.4 87L507.7 62.8M524 88.5L512.3 65"/>
<path class="mx c23" d="M454 97.4L442.3 75.7M484.1 97.3L472.4 73.3M520.9 87.4L509.2 63.4M527.6 77.6L516 55.9"/>
<path class="mx c24" d="M455.5 95L443.8 72.8M490.2 92.8L478.5 68M513.2 86L501.6 61.1M517.8 86.7L506.2 62.2M524.6 74.5L512.9 51.9"/>
<path class="mx c24" d="M457.1 92.6L445.4 70M487.1 94.9L475.5 70.5M491.8 91.8L480.1 66.9M514.8 86.2L503.1 61.4M526.1 76L514.4 53.8"/>
<path class="mx c24" d="M488.7 93.8L477 69.2M516.3 86.4L504.6 61.8"/>
<path class="mx c25" d="M494.8 90.1L483.1 64.9M499.4 88.1L487.7 62.7M504 86.7L492.3 61.3M508.6 86L496.9 60.8"/>
<path class="mx c25" d="M496.4 89.4L484.7 64.1M501 87.6L489.3 62.2M505.6 86.4L493.9 61.1M510.2 86L498.5 60.8"/>
<path class="mx c25" d="M458.6 90.4L446.9 67.3M493.3 90.9L481.6 65.9M497.9 88.7L486.2 63.4M502.5 87.1L490.8 61.7M507.1 86.2L495.4 60.9M511.7 86L500 60.9M523 73L511.3 50"/>
<path class="mx c26" d="M460.1 88.2L448.4 64.7M520 70.3L508.3 46.4"/>
<path class="mx c26" d="M461.7 86L450 62.1M521.5 71.6L509.8 48.1"/>
<path class="mx c27" d="M464.7 82L453 57.3"/>
<path class="mx c27" d="M516.9 67.9L505.2 43.3"/>
<path class="mx c27" d="M463.2 84L451.5 59.7M518.4 69.1L506.7 44.8"/>
<path class="mx c28" d="M515.4 66.9L503.7 41.9"/>
<path class="mx c28" d="M466.3 80.1L454.6 55.1"/>
<path class="mx c28" d="M467.8 78.3L456.1 53M513.8 65.9L502.1 40.6"/>
<path class="mx c29" d="M469.3 76.6L457.6 50.9M510.8 64.2L499.1 38.3"/>
<path class="mx c29" d="M470.9 74.9L459.2 49M512.3 65L500.6 39.4"/>
<path class="mx c29" d="M472.4 73.3L460.7 47.2M509.2 63.4L497.5 37.3"/>
<path class="mx c30" d="M473.9 71.9L462.2 45.4M506.2 62.2L494.5 35.6"/>
<path class="mx c30" d="M475.5 70.5L463.8 43.8M507.7 62.8L496 36.4"/>
<path class="mx c30" d="M477 69.2L465.3 42.3M504.6 61.8L492.9 34.9"/>
<path class="mx c31" d="M478.5 68L466.8 40.9M483.1 64.9L471.5 37.5M496.9 60.8L485.3 33.2M501.6 61.1L489.9 33.9"/>
<path class="mx c31" d="M480.1 66.9L468.4 39.7M484.7 64.1L473 36.5M498.5 60.8L486.8 33.3M503.1 61.4L491.4 34.3"/>
<path class="mx c31" d="M481.6 65.9L469.9 38.5M486.2 63.4L474.5 35.7M495.4 60.9L483.7 33.2M500 60.9L488.3 33.6"/>
<path class="mx c32" d="M487.7 62.7L476.1 35M492.3 61.3L480.7 33.6"/>
<path class="mx c32" d="M489.3 62.2L477.6 34.4M493.9 61.1L482.2 33.4"/>
<path class="mx c32" d="M490.8 61.7L479.1 33.9"/>
<path class="mt c0" d="M519.2 226.3L520.8 225.9L522.3 225.5L523.9 225.1L525.4 224.6L526.9 224.2L528.5 223.8L530 223.4L531.5 223L533.1 222.6L534.6 222.2L536.1 221.8L537.7 221.3L539.2 220.9L540.7 220.5L542.3 220.1L543.8 219.7L545.3 219.3L546.9 218.9L548.4 218.5L549.9 218L551.5 217.6L553 217.2L554.5 216.8L556.1 216.4L557.6 216L559.1 215.6L560.7 215.1L562.2 214.7L563.8 214.3L565.3 213.9L566.8 213.5L568.4 213.1L569.9 212.7L571.4 212.3L573 211.8L574.5 211.4L576 211L577.6 210.6L579.1 210.2L580.6 209.8L582.2 209.4L583.7 209L585.2 208.5L586.8 208.1L588.3 207.7L589.8 207.3L591.4 206.9L592.9 206.5L594.4 206.1L596 205.7L597.5 205.2L599 204.8L600.6 204.4L602.1 204L603.6 203.6L605.2 203.2L606.7 202.8L608.3 202.3L609.8 201.9L611.3 201.5L612.9 201.1L614.4 200.7L615.9 200.3L617.5 199.9L619 199.5L620.5 199L622.1 198.6L623.6 198.2L625.1 197.8L626.7 197.4L628.2 197L629.7 196.6L631.3 196.2L632.8 195.7L634.3 195.3L635.9 194.9L637.4 194.5L638.9 194.1L640.5 193.7L642 193.3L643.5 192.8L645.1 192.4L646.6 192L648.1 191.6L649.7 191.2L651.2 190.8L652.8 190.4L654.3 190L655.8 189.5L657.4 189.1L658.9 188.7L660.4 188.3L662 187.9L663.5 187.5L665 187.1L666.6 186.7L668.1 186.2L669.6 185.8L671.2 185.4L672.7 185M507.6 220.9L509.1 220.4L510.6 220L512.2 219.5L513.7 219.1L515.2 218.6L516.8 218.2L518.3 217.7L519.8 217.3L521.4 216.8L522.9 216.4L524.4 215.9L526 215.5L527.5 215.1L529 214.6L530.6 214.2L532.1 213.7L533.7 213.3L535.2 212.8L536.7 212.4L538.3 211.9L539.8 211.5L541.3 211.1L542.9 210.6L544.4 210.2L545.9 209.7L547.5 209.3L549 208.9L550.5 208.4L552.1 208L553.6 207.5L555.1 207.1L556.7 206.7L558.2 206.2L559.7 205.8L561.3 205.4L562.8 205L564.3 204.5L565.9 204.1L567.4 203.7L568.9 203.3L570.5 202.8L572 202.4L573.5 202L575.1 201.6L576.6 201.1L578.2 200.7L579.7 200.3L581.2 199.9L582.8 199.5L584.3 199.1L585.8 198.7L587.4 198.2L588.9 197.8L590.4 197.4L592 197L593.5 196.6L595 196.2L596.6 195.8L598.1 195.4L599.6 195L601.2 194.6L602.7 194.2L604.2 193.8L605.8 193.4L607.3 193L608.8 192.6L610.4 192.2L611.9 191.8L613.4 191.4L615 191L616.5 190.6L618 190.2L619.6 189.9L621.1 189.5L622.7 189.1L624.2 188.7L625.7 188.3L627.3 187.9L628.8 187.5L630.3 187.2L631.9 186.8L633.4 186.4L634.9 186L636.5 185.6L638 185.3L639.5 184.9L641.1 184.5L642.6 184.1L644.1 183.7L645.7 183.4L647.2 183L648.7 182.6L650.3 182.2L651.8 181.8L653.3 181.5L654.9 181.1L656.4 180.7L657.9 180.3L659.5 180L661 179.6M495.9 215.5L497.4 214.9L498.9 214.4L500.5 213.8L502 213.2L503.6 212.7L505.1 212.1L506.6 211.6L508.2 211L509.7 210.5L511.2 209.9L512.8 209.3M634 176.9L635.5 176.6L637.1 176.3L638.6 176L640.1 175.8L641.7 175.5L643.2 175.2L644.7 175L646.3 174.7L647.8 174.4L649.3 174.2M484.2 210.1L485.7 209.3L487.3 208.6L488.8 207.8L490.3 207.1L491.9 206.3M631.5 169.1L633 169L634.6 168.9L636.1 168.9L637.6 168.8M472.5 204.7L474 203.7L475.6 202.7L477.1 201.7M622.9 163L624.4 163.2L626 163.4M460.8 199.2L462.4 197.9L463.9 196.6M612.7 157.4L614.3 157.9M449.1 193.8L450.7 192.1L452.2 190.4M601.1 151.6L602.6 152.5M437.5 188.4L439 186.2M425.8 183L427.3 180.2M414.1 177.6L415.6 174.2M402.4 172.2L403.9 168.1"/>
<path class="mt c1" d="M512.8 209.3L514.3 208.8L515.8 208.2L517.4 207.7L518.9 207.1L520.4 206.6L522 206.1L523.5 205.5L525 205L526.6 204.5L528.1 203.9L529.6 203.4L531.2 202.9L532.7 202.3L534.2 201.8L535.8 201.3L537.3 200.8L538.8 200.3L540.4 199.8L541.9 199.3L543.4 198.8L545 198.3L546.5 197.8L548.1 197.3L549.6 196.8L551.1 196.4L552.7 195.9L554.2 195.4L555.7 194.9L557.3 194.5L558.8 194L560.3 193.6M586.4 186.6L588 186.2L589.5 185.9L591 185.5L592.6 185.1L594.1 184.8L595.6 184.4L597.2 184.1L598.7 183.8L600.2 183.4L601.8 183.1L603.3 182.8L604.8 182.4L606.4 182.1L607.9 181.8L609.4 181.5L611 181.2L612.5 180.9L614 180.6L615.6 180.3L617.1 180L618.6 179.7L620.2 179.4L621.7 179.1L623.2 178.8L624.8 178.5L626.3 178.2L627.8 178L629.4 177.7L630.9 177.4L632.5 177.1L634 176.9M491.9 206.3L493.4 205.6L494.9 204.9L496.5 204.1L498 203.4L499.5 202.7L501.1 201.9L502.6 201.2L504.1 200.5L505.7 199.8L507.2 199.1M616.2 170L617.7 169.9L619.2 169.8L620.8 169.7L622.3 169.6L623.8 169.5L625.4 169.4L626.9 169.4L628.4 169.3L630 169.2L631.5 169.1M477.1 201.7L478.6 200.6L480.2 199.7L481.7 198.7L483.3 197.7L484.8 196.7M615.2 162.1L616.8 162.3L618.3 162.5L619.8 162.7L621.4 162.8L622.9 163M463.9 196.6L465.4 195.2L467 193.9L468.5 192.6M608.1 155.9L609.7 156.4L611.2 156.9L612.7 157.4M452.2 190.4L453.7 188.6L455.3 186.9M598 149.8L599.5 150.7L601.1 151.6M439 186.2L440.5 184L442.1 181.8M427.3 180.2L428.8 177.5M415.6 174.2L417.2 170.8M403.9 168.1L405.5 164"/>
<path class="mt c2" d="M560.3 193.6L561.9 193.1L563.4 192.7L564.9 192.2L566.5 191.8L568 191.4L569.5 191L571.1 190.5L572.6 190.1L574.1 189.7L575.7 189.3L577.2 188.9L578.7 188.5L580.3 188.1L581.8 187.7L583.3 187.3L584.9 187L586.4 186.6M507.2 199.1L508.7 198.4L510.3 197.7L511.8 197L513.4 196.3L514.9 195.6L516.4 194.9L518 194.2L519.5 193.6L521 192.9L522.6 192.3L524.1 191.6M599.3 171.6L600.8 171.4L602.4 171.3L603.9 171.1L605.4 171L607 170.8L608.5 170.7L610 170.5L611.6 170.4L613.1 170.3L614.6 170.2L616.2 170M484.8 196.7L486.3 195.7L487.9 194.7L489.4 193.7L490.9 192.8L492.5 191.8L494 190.9M606 161.3L607.5 161.4L609.1 161.5L610.6 161.7L612.1 161.8L613.7 162L615.2 162.1M468.5 192.6L470 191.3L471.6 189.9L473.1 188.6L474.6 187.3M602 153.9L603.5 154.4L605.1 154.9L606.6 155.4L608.1 155.9M455.3 186.9L456.8 185.2L458.3 183.4M594.9 148L596.5 148.9L598 149.8M442.1 181.8L443.6 179.6L445.1 177.4M428.8 177.5L430.4 174.7L431.9 171.9M417.2 170.8L418.7 167.4M405.5 164L407 159.9"/>
<path class="mt c3" d="M524.1 191.6L525.6 191L527.2 190.4L528.7 189.7L530.2 189.1L531.8 188.5L533.3 187.9L534.8 187.3L536.4 186.8L537.9 186.2L539.4 185.6L541 185.1L542.5 184.5L544 184L545.6 183.5L547.1 183L548.6 182.5L550.2 182L551.7 181.5L553.2 181L554.8 180.6L556.3 180.1L557.9 179.7M565.5 177.6L567.1 177.3L568.6 176.9L570.1 176.5L571.7 176.2L573.2 175.9L574.7 175.5L576.3 175.2L577.8 174.9L579.3 174.6L580.9 174.3L582.4 174.1L583.9 173.8L585.5 173.5L587 173.3L588.5 173L590.1 172.8L591.6 172.6L593.1 172.4L594.7 172.2L596.2 172L597.7 171.8L599.3 171.6M494 190.9L495.5 189.9L497.1 189L498.6 188.1L500.1 187.1L501.7 186.2M598.3 160.7L599.9 160.8L601.4 160.9L602.9 161L604.5 161.1L606 161.3M474.6 187.3L476.2 186L477.7 184.7L479.2 183.5M597.4 152.5L598.9 153L600.5 153.5L602 153.9M458.3 183.4L459.9 181.7L461.4 180L463 178.3M590.3 145.3L591.8 146.2L593.4 147.1L594.9 148M445.1 177.4L446.7 175.2M431.9 171.9L433.4 169.2M418.7 167.4L420.2 164"/>
<path class="mt c4" d="M557.9 179.7L559.4 179.3L560.9 178.8L562.5 178.4L564 178L565.5 177.6M501.7 186.2L503.2 185.3L504.7 184.5L506.3 183.6L507.8 182.7L509.3 181.9L510.9 181L512.4 180.2M587.6 160.4L589.1 160.4L590.7 160.4L592.2 160.5L593.7 160.5L595.3 160.6L596.8 160.6L598.3 160.7M479.2 183.5L480.8 182.2L482.3 181L483.8 179.7L485.4 178.5M591.3 150.8L592.8 151.2L594.3 151.6L595.9 152.1L597.4 152.5M463 178.3L464.5 176.6L466 175M587.2 143.6L588.8 144.4L590.3 145.3M446.7 175.2L448.2 173L449.7 170.8M580.2 137.5L581.7 138.8L583.2 140.2M433.4 169.2L435 166.4M420.2 164L421.8 160.6M407 159.9L408.5 155.8"/>
<path class="mt c5" d="M512.4 180.2L513.9 179.4L515.5 178.6L517 177.8L518.5 177L520.1 176.3L521.6 175.6L523.1 174.8L524.7 174.1L526.2 173.4M573.8 160.9L575.3 160.8L576.9 160.7L578.4 160.6L579.9 160.5L581.5 160.5L583 160.4L584.5 160.4L586.1 160.4L587.6 160.4M485.4 178.5L486.9 177.3L488.4 176.1L490 174.9L491.5 173.7M585.1 149.3L586.7 149.6L588.2 150L589.7 150.4L591.3 150.8M466 175L467.6 173.3L469.1 171.7M584.2 141.9L585.7 142.7L587.2 143.6M449.7 170.8L451.3 168.6L452.8 166.5M577.1 134.8L578.6 136.1L580.2 137.5M435 166.4L436.5 163.7L438 161M421.8 160.6L423.3 157.3M408.5 155.8L410.1 151.7"/>
<path class="mt c6" d="M526.2 173.4L527.8 172.8L529.3 172.1L530.8 171.5L532.4 170.8L533.9 170.2L535.4 169.7L537 169.1L538.5 168.5L540 168L541.6 167.5L543.1 167L544.6 166.5L546.2 166.1L547.7 165.6L549.2 165.2L550.8 164.8L552.3 164.4L553.8 164L555.4 163.7L556.9 163.4L558.4 163L560 162.8L561.5 162.5L563 162.2L564.6 162L566.1 161.8L567.6 161.6L569.2 161.4L570.7 161.2L572.3 161L573.8 160.9M491.5 173.7L493 172.6L494.6 171.4L496.1 170.3L497.7 169.2M579 148L580.5 148.3L582.1 148.6L583.6 148.9L585.1 149.3M469.1 171.7L470.6 170L472.2 168.4L473.7 166.8M579.6 139.5L581.1 140.3L582.6 141.1L584.2 141.9M452.8 166.5L454.3 164.4L455.9 162.3M574 132.2L575.6 133.5L577.1 134.8M438 161L439.6 158.3M423.3 157.3L424.8 153.9M410.1 151.7L411.6 147.7"/>
<path class="mt c7" d="M497.7 169.2L499.2 168.1L500.7 167.1L502.3 166L503.8 165M572.8 147L574.4 147.3L575.9 147.5L577.4 147.7L579 148M473.7 166.8L475.2 165.3L476.8 163.7M576.5 138L578 138.8L579.6 139.5M455.9 162.3L457.4 160.2M572.5 130.9L574 132.2M439.6 158.3L441.1 155.6M424.8 153.9L426.4 150.6M411.6 147.7L413.1 143.7"/>
<path class="mt c8" d="M503.8 165L505.3 164L506.9 163.1L508.4 162.1L509.9 161.2L511.5 160.3L513 159.4M563.6 146.3L565.2 146.3L566.7 146.4L568.2 146.6L569.8 146.7L571.3 146.9L572.8 147M476.8 163.7L478.3 162.2L479.8 160.7L481.4 159.2M571.9 135.9L573.4 136.6L575 137.3L576.5 138M457.4 160.2L458.9 158.1L460.5 156.1M569.4 128.4L571 129.6L572.5 130.9M441.1 155.6L442.6 153L444.2 150.4M562.3 120.8L563.9 122.6M426.4 150.6L427.9 147.3"/>
<path class="mt c9" d="M513 159.4L514.5 158.6L516.1 157.8L517.6 157L519.1 156.2L520.7 155.5L522.2 154.8L523.7 154.1L525.3 153.4L526.8 152.8M549.8 146.8L551.4 146.7L552.9 146.5L554.4 146.4L556 146.3L557.5 146.2L559 146.2L560.6 146.2L562.1 146.2L563.6 146.3M481.4 159.2L482.9 157.8L484.4 156.3L486 154.9M567.3 134L568.8 134.6L570.4 135.3L571.9 135.9M460.5 156.1L462 154.1L463.5 152.1M566.4 126L567.9 127.2L569.4 128.4M444.2 150.4L445.7 147.8M560.8 119L562.3 120.8M427.9 147.3L429.4 144M413.1 143.7L414.7 139.7"/>
<path class="mt c10" d="M526.8 152.8L528.3 152.2L529.9 151.6L531.4 151.1L532.9 150.6L534.5 150.1L536 149.6L537.6 149.2L539.1 148.8L540.6 148.4L542.2 148.1L543.7 147.8L545.2 147.5L546.8 147.2L548.3 147L549.8 146.8M486 154.9L487.5 153.6L489 152.2L490.6 150.9M562.7 132.4L564.2 132.9L565.8 133.5L567.3 134M463.5 152.1L465.1 150.1L466.6 148.2M563.3 123.7L564.8 124.8L566.4 126M445.7 147.8L447.3 145.2M559.3 117.2L560.8 119M429.4 144L431 140.8M414.7 139.7L416.2 135.7"/>
<path class="mt c11" d="M490.6 150.9L492.1 149.7L493.6 148.4L495.2 147.2L496.7 146M556.6 130.7L558.1 131.1L559.6 131.5L561.2 131.9L562.7 132.4M466.6 148.2L468.1 146.3L469.7 144.4M560.2 121.5L561.7 122.6L563.3 123.7M447.3 145.2L448.8 142.7L450.3 140.2M556.2 113.7L557.7 115.5L559.3 117.2M431 140.8L432.5 137.6M416.2 135.7L417.7 131.7"/>
<path class="mt c12" d="M496.7 146L498.2 144.9L499.8 143.8L501.3 142.7L502.8 141.7M550.4 129.5L552 129.7L553.5 130L555 130.3L556.6 130.7M469.7 144.4L471.2 142.6L472.7 140.8M557.1 119.5L558.7 120.5L560.2 121.5M450.3 140.2L451.9 137.7M554.7 112.1L556.2 113.7M432.5 137.6L434 134.4M417.7 131.7L419.3 127.8"/>
<path class="mt c13" d="M502.8 141.7L504.4 140.7L505.9 139.7L507.5 138.8L509 137.9L510.5 137.1L512.1 136.3L513.6 135.5M539.7 128.8L541.2 128.8L542.7 128.8L544.3 128.9L545.8 129L547.3 129.1L548.9 129.3L550.4 129.5M472.7 140.8L474.3 139.1L475.8 137.4M554.1 117.6L555.6 118.5L557.1 119.5M451.9 137.7L453.4 135.3L454.9 132.9M551.6 108.8L553.1 110.4L554.7 112.1M434 134.4L435.6 131.3L437.1 128.2M419.3 127.8L420.8 124"/>
<path class="mt c14" d="M513.6 135.5L515.1 134.8L516.7 134.1L518.2 133.4L519.7 132.8L521.3 132.3L522.8 131.8L524.3 131.3L525.9 130.9L527.4 130.5L528.9 130.1L530.5 129.8L532 129.5L533.5 129.3L535.1 129.1L536.6 129L538.1 128.9L539.7 128.8M475.8 137.4L477.4 135.7L478.9 134.1L480.4 132.5M549.5 115.1L551 115.9L552.5 116.7L554.1 117.6M454.9 132.9L456.5 130.5M550.1 107.3L551.6 108.8M437.1 128.2L438.6 125.1M544.5 99.3L546.1 101.5M420.8 124L422.3 120.1"/>
<path class="mt c15" d="M480.4 132.5L482 130.9L483.5 129.4L485 128M544.9 112.9L546.4 113.6L547.9 114.3L549.5 115.1M456.5 130.5L458 128.2L459.5 126M547 104.3L548.5 105.7L550.1 107.3M438.6 125.1L440.2 122.1M543 97L544.5 99.3M422.3 120.1L423.9 116.3"/>
<path class="mt c16" d="M485 128L486.6 126.6L488.1 125.2L489.6 123.9M540.3 111.2L541.8 111.7L543.3 112.3L544.9 112.9M459.5 126L461.1 123.7M545.5 102.8L547 104.3M440.2 122.1L441.7 119.1M541.4 94.8L543 97"/>
<path class="mt c17" d="M489.6 123.9L491.2 122.6L492.7 121.4L494.2 120.3M535.7 109.9L537.2 110.2L538.7 110.7L540.3 111.2M461.1 123.7L462.6 121.6L464.1 119.5M542.4 100.1L543.9 101.4L545.5 102.8M441.7 119.1L443.2 116.2M539.9 92.7L541.4 94.8M423.9 116.3L425.4 112.6"/>
<path class="mt c18" d="M494.2 120.3L495.8 119.2L497.3 118.1L498.8 117.1L500.4 116.2L501.9 115.3M528 108.7L529.5 108.8L531.1 109L532.6 109.2L534.1 109.5L535.7 109.9M464.1 119.5L465.7 117.4L467.2 115.4M539.3 97.6L540.9 98.8L542.4 100.1M443.2 116.2L444.8 113.4M538.4 90.6L539.9 92.7M425.4 112.6L427 108.9"/>
<path class="mt c19" d="M501.9 115.3L503.4 114.4L505 113.7L506.5 112.9L508 112.3L509.6 111.7L511.1 111.1L512.6 110.6L514.2 110.2L515.7 109.8L517.2 109.4L518.8 109.2L520.3 109L521.9 108.8L523.4 108.7L524.9 108.7L526.5 108.7L528 108.7M467.2 115.4L468.7 113.5L470.3 111.6M536.3 95.3L537.8 96.4L539.3 97.6M444.8 113.4L446.3 110.6L447.8 107.8M535.3 86.6L536.8 88.6L538.4 90.6M427 108.9L428.5 105.3"/>
<path class="mt c20" d="M470.3 111.6L471.8 109.7L473.3 108M533.2 93.2L534.7 94.2L536.3 95.3M447.8 107.8L449.4 105.1M533.8 84.7L535.3 86.6M428.5 105.3L430 101.8"/>
<path class="mt c21" d="M473.3 108L474.9 106.3L476.4 104.6L477.9 103M528.6 90.6L530.1 91.4L531.7 92.3L533.2 93.2M449.4 105.1L450.9 102.5M532.2 82.8L533.8 84.7M430 101.8L431.6 98.3"/>
<path class="mt c22" d="M477.9 103L479.5 101.5L481 100.1M525.5 89.1L527 89.8L528.6 90.6M450.9 102.5L452.4 99.9L454 97.4M529.2 79.3L530.7 81L532.2 82.8M431.6 98.3L433.1 94.8M526.7 72.6L528.2 75.3"/>
<path class="mt c23" d="M481 100.1L482.5 98.7L484.1 97.3L485.6 96.1L487.1 94.9M519.4 87L520.9 87.4L522.4 87.9L524 88.5L525.5 89.1M454 97.4L455.5 95M527.6 77.6L529.2 79.3M433.1 94.8L434.6 91.4M525.2 70L526.7 72.6"/>
<path class="mt c24" d="M487.1 94.9L488.7 93.8L490.2 92.8L491.8 91.8L493.3 90.9M513.2 86L514.8 86.2L516.3 86.4L517.8 86.7L519.4 87M455.5 95L457.1 92.6L458.6 90.4M524.6 74.5L526.1 76L527.6 77.6M434.6 91.4L436.2 88.2M523.6 67.5L525.2 70"/>
<path class="mt c25" d="M493.3 90.9L494.8 90.1L496.4 89.4L497.9 88.7L499.4 88.1L501 87.6L502.5 87.1L504 86.7L505.6 86.4L507.1 86.2L508.6 86L510.2 86L511.7 86L513.2 86M458.6 90.4L460.1 88.2M523 73L524.6 74.5M436.2 88.2L437.7 84.9M522.1 65L523.6 67.5"/>
<path class="mt c26" d="M460.1 88.2L461.7 86L463.2 84M520 70.3L521.5 71.6L523 73M437.7 84.9L439.2 81.8M520.6 62.6L522.1 65"/>
<path class="mt c27" d="M463.2 84L464.7 82L466.3 80.1M516.9 67.9L518.4 69.1L520 70.3M439.2 81.8L440.8 78.7M519 60.3L520.6 62.6"/>
<path class="mt c28" d="M466.3 80.1L467.8 78.3L469.3 76.6M513.8 65.9L515.4 66.9L516.9 67.9M440.8 78.7L442.3 75.7L443.8 72.8M516 55.9L517.5 58.1L519 60.3"/>
<path class="mt c29" d="M469.3 76.6L470.9 74.9L472.4 73.3L473.9 71.9M509.2 63.4L510.8 64.2L512.3 65L513.8 65.9M443.8 72.8L445.4 70M514.4 53.8L516 55.9"/>
<path class="mt c30" d="M473.9 71.9L475.5 70.5L477 69.2L478.5 68M504.6 61.8L506.2 62.2L507.7 62.8L509.2 63.4M445.4 70L446.9 67.3M512.9 51.9L514.4 53.8"/>
<path class="mt c31" d="M478.5 68L480.1 66.9L481.6 65.9L483.1 64.9L484.7 64.1L486.2 63.4L487.7 62.7M495.4 60.9L496.9 60.8L498.5 60.8L500 60.9L501.6 61.1L503.1 61.4L504.6 61.8M446.9 67.3L448.4 64.7M511.3 50L512.9 51.9"/>
<path class="mt c32" d="M487.7 62.7L489.3 62.2L490.8 61.7L492.3 61.3L493.9 61.1L495.4 60.9M448.4 64.7L450 62.1L451.5 59.7M508.3 46.4L509.8 48.1L511.3 50"/>
<path class="mt c33" d="M451.5 59.7L453 57.3M506.7 44.8L508.3 46.4"/>
<path class="mt c34" d="M453 57.3L454.6 55.1L456.1 53M503.7 41.9L505.2 43.3L506.7 44.8"/>
<path class="mt c35" d="M456.1 53L457.6 50.9L459.2 49M500.6 39.4L502.1 40.6L503.7 41.9"/>
<path class="mt c36" d="M459.2 49L460.7 47.2L462.2 45.4M497.5 37.3L499.1 38.3L500.6 39.4"/>
<path class="mt c37" d="M462.2 45.4L463.8 43.8L465.3 42.3L466.8 40.9M492.9 34.9L494.5 35.6L496 36.4L497.5 37.3"/>
<path class="mt c38" d="M466.8 40.9L468.4 39.7L469.9 38.5L471.5 37.5M488.3 33.6L489.9 33.9L491.4 34.3L492.9 34.9"/>
<path class="mt c39" d="M471.5 37.5L473 36.5L474.5 35.7L476.1 35L477.6 34.4L479.1 33.9L480.7 33.6L482.2 33.4L483.7 33.2L485.3 33.2L486.8 33.3L488.3 33.6"/>
</g>
<path d="M672.7 185L519.2 226.3L402.4 172.2" class="fa"/>
<path d="M402.4 172.2L402.4 54.6M402.4 172.2L398.8 170.5M402.4 148.7L398.8 147M402.4 125.2L398.8 123.5M402.4 101.6L398.8 100M402.4 78.1L398.8 76.4M402.4 54.6L398.8 52.9M519.2 226.3L522.9 228M549.9 218L553.6 219.7M580.6 209.8L584.3 211.5M611.3 201.5L614.9 203.2M642 193.3L645.6 194.9M672.7 185L676.3 186.7M519.2 226.3L515.4 227.3M460.8 199.2L457 200.3M402.4 172.2L398.5 173.2" class="ax"/>
<text class="tk" text-anchor="end" x="395.2" y="172.7">0</text>
<text class="tk" text-anchor="end" x="395.2" y="149.2">0.2</text>
<text class="tk" text-anchor="end" x="395.2" y="125.7">0.4</text>
<text class="tk" text-anchor="end" x="395.2" y="102.1">0.6</text>
<text class="tk" text-anchor="end" x="395.2" y="78.6">0.8</text>
<text class="tk" text-anchor="end" x="395.2" y="55.1">1</text>
<text class="tk" x="526.1" y="238">0</text>
<text class="tk" x="556.8" y="229.7">0.2</text>
<text class="tk" x="587.5" y="221.5">0.4</text>
<text class="tk" x="618.2" y="213.2">0.6</text>
<text class="tk" x="648.9" y="205">0.8</text>
<text class="tk" x="679.6" y="196.7">1</text>
<text class="tk" text-anchor="end" x="512.4" y="237.1">0</text>
<text class="tk" text-anchor="end" x="453.9" y="210.1">0.5</text>
<text class="tk" text-anchor="end" x="395.5" y="183">1</text>
<text class="al" text-anchor="middle" x="462.9" y="236.8">t</text>
<text class="al" text-anchor="middle" x="584.9" y="240">x</text>
<text class="al" text-anchor="middle" transform="translate(377.7 113.6) rotate(-90)">u(x,t)</text>
<text class="ti" text-anchor="middle" x="537.5" y="9.7">Exact solution u(x,t) = t<tspan dy="-4.1" font-size="6.8">2</tspan><tspan dy="4.1" font-size="1">&#8203;</tspan> sin(<tspan class="pi">&#960;</tspan> x)</text>
<path d="M36 475.8L189.5 434.5M189.5 434.5L306.3 488.6M36 452.3L189.5 411M189.5 411L306.3 465.1M36 428.8L189.5 387.5M189.5 387.5L306.3 441.6M36 405.2L189.5 363.9M189.5 363.9L306.3 418M36 381.7L189.5 340.4M189.5 340.4L306.3 394.5M36 358.2L189.5 316.9M189.5 316.9L306.3 371M66.7 467.5L66.7 349.9M97.4 459.3L97.4 341.7M128.1 451L128.1 333.4M158.8 442.8L158.8 325.2M189.5 434.5L189.5 316.9M306.3 488.6L306.3 371M247.9 461.6L247.9 344" class="gr"/>
<path class="sil" d="M152.8 529.9L155.9 529.1L159 528.2L162.1 527.4L165.1 526.6L168.2 525.8L171.3 524.9L174.3 524.1L177.4 523.3L180.5 522.5L183.5 521.6L186.6 520.8L189.7 520L192.7 519.2L195.8 518.3L198.9 517.5L202 516.7L205 515.9L208.1 515L211.2 514.2L214.2 513.4L217.3 512.6L220.4 511.7L223.4 510.9L226.5 510.1L229.6 509.3L232.6 508.4L235.7 507.6L238.8 506.8L241.9 505.9L244.9 505.1L248 504.3L251.1 503.5L254.1 502.6L257.2 501.8L260.3 501L263.3 500.2L266.4 499.3L269.5 498.5L272.5 497.7L275.6 496.9L278.7 496L281.7 495.2L284.8 494.4L287.9 493.6L291 492.7L294 491.9L297.1 491.1L300.2 490.3L303.2 489.4L306.3 488.6L294.6 483.2L291.5 483.9L288.5 484.7L285.4 485.4L282.3 486.2L279.3 487L276.2 487.7L273.1 488.5L270.1 489.2L267 490L263.9 490.8L260.9 491.5L257.8 492.3L254.7 493.1L251.6 493.8L248.6 494.6L245.5 495.4L242.4 496.2L239.4 497L236.3 497.8L233.2 498.6L230.2 499.4L227.1 500.2L224 501L221 501.8L217.9 502.7L214.8 503.5L211.8 504.3L208.7 505.2L205.6 506L202.5 506.9L199.5 507.7L196.4 508.6L193.3 509.4L190.3 510.3L187.2 511.1L184.1 512L181.1 512.9L178 513.8L174.9 514.7L171.9 515.5L168.8 516.4L165.7 517.3L162.6 518.2L159.6 519.1L156.5 520L153.4 520.9L150.4 521.8L147.3 522.7L144.2 523.6L141.2 524.5ZM141.2 524.5L144.2 523.6L147.3 522.7L150.4 521.8L153.4 520.9L156.5 520L159.6 519.1L162.6 518.2L165.7 517.3L168.8 516.4L171.9 515.5L174.9 514.7L178 513.8L181.1 512.9L184.1 512L187.2 511.1L190.3 510.3L193.3 509.4L196.4 508.6L199.5 507.7L202.5 506.9L205.6 506L208.7 505.2L211.8 504.3L214.8 503.5L217.9 502.7L221 501.8L224 501L227.1 500.2L230.2 499.4L233.2 498.6L236.3 497.8L239.4 497L242.4 496.2L245.5 495.4L248.6 494.6L251.6 493.8L254.7 493.1L257.8 492.3L260.9 491.5L263.9 490.8L267 490L270.1 489.2L273.1 488.5L276.2 487.7L279.3 487L282.3 486.2L285.4 485.4L288.5 484.7L291.5 483.9L294.6 483.2L282.9 477.8L279.9 478.3L276.8 478.8L273.7 479.4L270.7 479.9L267.6 480.5L264.5 481L261.4 481.6L258.4 482.1L255.3 482.7L252.2 483.3L249.2 483.9L246.1 484.5L243 485.1L240 485.7L236.9 486.4L233.8 487L230.8 487.7L227.7 488.4L224.6 489.1L221.6 489.8L218.5 490.6L215.4 491.3L212.3 492.1L209.3 492.9L206.2 493.7L203.1 494.6L200.1 495.4L197 496.3L193.9 497.2L190.9 498.1L187.8 499L184.7 500L181.7 500.9L178.6 501.9L175.5 502.9L172.4 503.9L169.4 504.9L166.3 505.9L163.2 507L160.2 508.1L157.1 509.1L154 510.2L151 511.3L147.9 512.4L144.8 513.5L141.8 514.6L138.7 515.7L135.6 516.8L132.5 518L129.5 519.1ZM129.5 519.1L132.5 518L135.6 516.8L138.7 515.7L141.8 514.6L144.8 513.5L147.9 512.4L151 511.3L154 510.2L157.1 509.1L160.2 508.1L163.2 507L166.3 505.9L169.4 504.9L172.4 503.9L175.5 502.9L178.6 501.9L181.7 500.9L184.7 500L187.8 499L190.9 498.1L193.9 497.2L197 496.3L200.1 495.4L203.1 494.6L206.2 493.7L209.3 492.9L212.3 492.1L215.4 491.3L218.5 490.6L221.6 489.8L224.6 489.1L227.7 488.4L230.8 487.7L233.8 487L236.9 486.4L240 485.7L243 485.1L246.1 484.5L249.2 483.9L252.2 483.3L255.3 482.7L258.4 482.1L261.4 481.6L264.5 481L267.6 480.5L270.7 479.9L273.7 479.4L276.8 478.8L279.9 478.3L282.9 477.8L271.2 472.4L268.2 472.5L265.1 472.7L262 472.9L259 473L255.9 473.2L252.8 473.4L249.8 473.6L246.7 473.9L243.6 474.1L240.6 474.4L237.5 474.7L234.4 475L231.3 475.4L228.3 475.8L225.2 476.2L222.1 476.6L219.1 477.1L216 477.7L212.9 478.2L209.9 478.8L206.8 479.5L203.7 480.1L200.7 480.9L197.6 481.6L194.5 482.4L191.5 483.3L188.4 484.2L185.3 485.1L182.2 486.1L179.2 487.1L176.1 488.1L173 489.2L170 490.4L166.9 491.5L163.8 492.7L160.8 494L157.7 495.2L154.6 496.5L151.6 497.8L148.5 499.2L145.4 500.6L142.3 502L139.3 503.4L136.2 504.8L133.1 506.3L130.1 507.7L127 509.2L123.9 510.7L120.9 512.2L117.8 513.7ZM117.8 513.7L120.9 512.2L123.9 510.7L127 509.2L130.1 507.7L133.1 506.3L136.2 504.8L139.3 503.4L142.3 502L145.4 500.6L148.5 499.2L151.6 497.8L154.6 496.5L157.7 495.2L160.8 494L163.8 492.7L166.9 491.5L170 490.4L173 489.2L176.1 488.1L179.2 487.1L182.2 486.1L185.3 485.1L188.4 484.2L191.5 483.3L194.5 482.4L197.6 481.6L200.7 480.9L203.7 480.1L206.8 479.5L209.9 478.8L212.9 478.2L216 477.7L219.1 477.1L222.1 476.6L225.2 476.2L228.3 475.8L231.3 475.4L234.4 475L237.5 474.7L240.6 474.4L243.6 474.1L246.7 473.9L249.8 473.6L252.8 473.4L255.9 473.2L259 473L262 472.9L265.1 472.7L268.2 472.5L271.2 472.4L259.6 467L256.5 466.6L253.4 466.3L250.4 465.9L247.3 465.6L244.2 465.3L241.1 465L238.1 464.7L235 464.5L231.9 464.3L228.9 464.2L225.8 464.1L222.7 464L219.7 464L216.6 464L213.5 464.1L210.5 464.3L207.4 464.5L204.3 464.8L201.2 465.2L198.2 465.6L195.1 466.1L192 466.6L189 467.3L185.9 468L182.8 468.8L179.8 469.7L176.7 470.6L173.6 471.6L170.6 472.7L167.5 473.8L164.4 475.1L161.4 476.4L158.3 477.7L155.2 479.2L152.1 480.6L149.1 482.2L146 483.8L142.9 485.5L139.9 487.2L136.8 488.9L133.7 490.7L130.7 492.6L127.6 494.5L124.5 496.4L121.5 498.3L118.4 500.3L115.3 502.3L112.2 504.2L109.2 506.3L106.1 508.3ZM106.1 508.3L109.2 506.3L112.2 504.2L115.3 502.3L118.4 500.3L121.5 498.3L124.5 496.4L127.6 494.5L130.7 492.6L133.7 490.7L136.8 488.9L139.9 487.2L142.9 485.5L146 483.8L149.1 482.2L152.1 480.6L155.2 479.2L158.3 477.7L161.4 476.4L164.4 475.1L167.5 473.8L170.6 472.7L173.6 471.6L176.7 470.6L179.8 469.7L182.8 468.8L185.9 468L189 467.3L192 466.6L195.1 466.1L198.2 465.6L201.2 465.2L204.3 464.8L207.4 464.5L210.5 464.3L213.5 464.1L216.6 464L219.7 464L222.7 464L225.8 464.1L228.9 464.2L231.9 464.3L235 464.5L238.1 464.7L241.1 465L244.2 465.3L247.3 465.6L250.4 465.9L253.4 466.3L256.5 466.6L259.6 467L247.9 461.6L244.8 460.5L241.7 459.5L238.7 458.5L235.6 457.5L232.5 456.6L229.5 455.7L226.4 454.8L223.3 454L220.3 453.2L217.2 452.5L214.1 451.9L211 451.3L208 450.9L204.9 450.5L201.8 450.2L198.8 449.9L195.7 449.8L192.6 449.8L189.6 449.9L186.5 450.1L183.4 450.4L180.4 450.8L177.3 451.4L174.2 452L171.1 452.8L168.1 453.7L165 454.7L161.9 455.8L158.9 457L155.8 458.4L152.7 459.8L149.7 461.4L146.6 463L143.5 464.8L140.5 466.7L137.4 468.6L134.3 470.7L131.3 472.8L128.2 475L125.1 477.3L122 479.7L119 482.1L115.9 484.6L112.8 487.1L109.8 489.6L106.7 492.2L103.6 494.9L100.6 497.5L97.5 500.2L94.4 502.9ZM94.4 502.9L97.5 500.2L100.6 497.5L103.6 494.9L106.7 492.2L109.8 489.6L112.8 487.1L115.9 484.6L119 482.1L122 479.7L125.1 477.3L128.2 475L131.3 472.8L134.3 470.7L137.4 468.6L140.5 466.7L143.5 464.8L146.6 463L149.7 461.4L152.7 459.8L155.8 458.4L158.9 457L161.9 455.8L165 454.7L168.1 453.7L171.1 452.8L174.2 452L177.3 451.4L180.4 450.8L183.4 450.4L186.5 450.1L189.6 449.9L192.6 449.8L195.7 449.8L198.8 449.9L201.8 450.2L204.9 450.5L208 450.9L211 451.3L214.1 451.9L217.2 452.5L220.3 453.2L223.3 454L226.4 454.8L229.5 455.7L232.5 456.6L235.6 457.5L238.7 458.5L241.7 459.5L244.8 460.5L247.9 461.6L236.2 456.1L233.1 454.3L230.1 452.5L227 450.7L223.9 448.9L220.8 447.2L217.8 445.5L214.7 443.9L211.6 442.4L208.6 440.9L205.5 439.5L202.4 438.2L199.4 437.1L196.3 436L193.2 435.1L190.2 434.3L187.1 433.6L184 433.1L180.9 432.7L177.9 432.5L174.8 432.4L171.7 432.5L168.7 432.7L165.6 433.1L162.5 433.7L159.5 434.5L156.4 435.4L153.3 436.4L150.3 437.7L147.2 439.1L144.1 440.7L141.1 442.4L138 444.3L134.9 446.3L131.8 448.5L128.8 450.8L125.7 453.3L122.6 455.8L119.6 458.5L116.5 461.4L113.4 464.3L110.4 467.3L107.3 470.4L104.2 473.6L101.2 476.9L98.1 480.2L95 483.6L91.9 487L88.9 490.5L85.8 494L82.7 497.4ZM82.7 497.4L85.8 494L88.9 490.5L91.9 487L95 483.6L98.1 480.2L101.2 476.9L104.2 473.6L107.3 470.4L110.4 467.3L113.4 464.3L116.5 461.4L119.6 458.5L122.6 455.8L125.7 453.3L128.8 450.8L131.8 448.5L134.9 446.3L138 444.3L141.1 442.4L144.1 440.7L147.2 439.1L150.3 437.7L153.3 436.4L156.4 435.4L159.5 434.5L162.5 433.7L165.6 433.1L168.7 432.7L171.7 432.5L174.8 432.4L177.9 432.5L180.9 432.7L184 433.1L187.1 433.6L190.2 434.3L193.2 435.1L196.3 436L199.4 437.1L202.4 438.2L205.5 439.5L208.6 440.9L211.6 442.4L214.7 443.9L217.8 445.5L220.8 447.2L223.9 448.9L227 450.7L230.1 452.5L233.1 454.3L236.2 456.1L224.5 450.7L221.4 447.9L218.4 445.2L215.3 442.4L212.2 439.7L209.2 437.1L206.1 434.5L203 432L200 429.6L196.9 427.3L193.8 425.1L190.7 423.1L187.7 421.2L184.6 419.5L181.5 417.9L178.5 416.5L175.4 415.3L172.3 414.3L169.3 413.5L166.2 412.8L163.1 412.4L160.1 412.3L157 412.3L153.9 412.6L150.8 413L147.8 413.8L144.7 414.7L141.6 415.9L138.6 417.3L135.5 418.9L132.4 420.7L129.4 422.8L126.3 425L123.2 427.5L120.2 430.2L117.1 433L114 436.1L111 439.3L107.9 442.7L104.8 446.2L101.7 449.9L98.7 453.7L95.6 457.7L92.5 461.7L89.5 465.9L86.4 470.1L83.3 474.4L80.3 478.8L77.2 483.2L74.1 487.6L71.1 492ZM71.1 492L74.1 487.6L77.2 483.2L80.3 478.8L83.3 474.4L86.4 470.1L89.5 465.9L92.5 461.7L95.6 457.7L98.7 453.7L101.7 449.9L104.8 446.2L107.9 442.7L111 439.3L114 436.1L117.1 433L120.2 430.2L123.2 427.5L126.3 425L129.4 422.8L132.4 420.7L135.5 418.9L138.6 417.3L141.6 415.9L144.7 414.7L147.8 413.8L150.8 413L153.9 412.6L157 412.3L160.1 412.3L163.1 412.4L166.2 412.8L169.3 413.5L172.3 414.3L175.4 415.3L178.5 416.5L181.5 417.9L184.6 419.5L187.7 421.2L190.7 423.1L193.8 425.1L196.9 427.3L200 429.6L203 432L206.1 434.5L209.2 437.1L212.2 439.7L215.3 442.4L218.4 445.2L221.4 447.9L224.5 450.7L212.8 445.3L209.8 441.4L206.7 437.5L203.6 433.7L200.5 429.9L197.5 426.2L194.4 422.6L191.3 419.1L188.3 415.7L185.2 412.4L182.1 409.3L179.1 406.4L176 403.7L172.9 401.2L169.9 398.9L166.8 396.8L163.7 395L160.6 393.4L157.6 392.1L154.5 391L151.4 390.3L148.4 389.8L145.3 389.6L142.2 389.6L139.2 390L136.1 390.7L133 391.7L130 393L126.9 394.5L123.8 396.4L120.8 398.5L117.7 400.9L114.6 403.7L111.5 406.6L108.5 409.9L105.4 413.3L102.3 417.1L99.3 421L96.2 425.2L93.1 429.6L90.1 434.1L87 438.9L83.9 443.8L80.9 448.8L77.8 454L74.7 459.2L71.6 464.6L68.6 470L65.5 475.5L62.4 481.1L59.4 486.6ZM59.4 486.6L62.4 481.1L65.5 475.5L68.6 470L71.6 464.6L74.7 459.2L77.8 454L80.9 448.8L83.9 443.8L87 438.9L90.1 434.1L93.1 429.6L96.2 425.2L99.3 421L102.3 417.1L105.4 413.3L108.5 409.9L111.5 406.6L114.6 403.7L117.7 400.9L120.8 398.5L123.8 396.4L126.9 394.5L130 393L133 391.7L136.1 390.7L139.2 390L142.2 389.6L145.3 389.6L148.4 389.8L151.4 390.3L154.5 391L157.6 392.1L160.6 393.4L163.7 395L166.8 396.8L169.9 398.9L172.9 401.2L176 403.7L179.1 406.4L182.1 409.3L185.2 412.4L188.3 415.7L191.3 419.1L194.4 422.6L197.5 426.2L200.5 429.9L203.6 433.7L206.7 437.5L209.8 441.4L212.8 445.3L201.1 439.9L198.1 434.8L195 429.6L191.9 424.5L188.9 419.5L185.8 414.6L182.7 409.8L179.7 405.1L176.6 400.6L173.5 396.3L170.4 392.2L167.4 388.3L164.3 384.6L161.2 381.2L158.2 378.1L155.1 375.2L152 372.7L149 370.5L145.9 368.6L142.8 367L139.8 365.8L136.7 365L133.6 364.5L130.5 364.4L127.5 364.7L124.4 365.3L121.3 366.3L118.3 367.7L115.2 369.5L112.1 371.6L109.1 374.1L106 376.9L102.9 380.2L99.9 383.7L96.8 387.6L93.7 391.8L90.7 396.2L87.6 401L84.5 406.1L81.4 411.4L78.4 417L75.3 422.7L72.2 428.7L69.2 434.9L66.1 441.2L63 447.6L60 454.2L56.9 460.9L53.8 467.6L50.8 474.4L47.7 481.2ZM47.7 481.2L50.8 474.4L53.8 467.6L56.9 460.9L60 454.2L63 447.6L66.1 441.2L69.2 434.9L72.2 428.7L75.3 422.7L78.4 417L81.4 411.4L84.5 406.1L87.6 401L90.7 396.2L93.7 391.8L96.8 387.6L99.9 383.7L102.9 380.2L106 376.9L109.1 374.1L112.1 371.6L115.2 369.5L118.3 367.7L121.3 366.3L124.4 365.3L127.5 364.7L130.5 364.4L133.6 364.5L136.7 365L139.8 365.8L142.8 367L145.9 368.6L149 370.5L152 372.7L155.1 375.2L158.2 378.1L161.2 381.2L164.3 384.6L167.4 388.3L170.4 392.2L173.5 396.3L176.6 400.6L179.7 405.1L182.7 409.8L185.8 414.6L188.9 419.5L191.9 424.5L195 429.6L198.1 434.8L201.1 439.9L189.5 434.5L186.4 427.9L183.3 421.4L180.2 414.9L177.2 408.6L174.1 402.3L171 396.2L168 390.2L164.9 384.5L161.8 378.9L158.8 373.6L155.7 368.6L152.6 363.9L149.6 359.5L146.5 355.5L143.4 351.7L140.3 348.4L137.3 345.5L134.2 343L131.1 340.9L128.1 339.2L125 337.9L121.9 337.2L118.9 336.8L115.8 337L112.7 337.6L109.7 338.6L106.6 340.1L103.5 342.1L100.4 344.5L97.4 347.4L94.3 350.8L91.2 354.5L88.2 358.7L85.1 363.3L82 368.3L79 373.6L75.9 379.3L72.8 385.4L69.8 391.8L66.7 398.4L63.6 405.4L60.6 412.5L57.5 419.9L54.4 427.6L51.3 435.3L48.3 443.3L45.2 451.3L42.1 459.4L39.1 467.6L36 475.8Z"/>
<g class="mesh">
<path class="mx c0" d="M152.8 529.9L141.2 524.5M141.2 524.5L129.5 519.1M129.5 519.1L117.8 513.7M117.8 513.7L106.1 508.3M106.1 508.3L94.4 502.9M94.4 502.9L82.7 497.4M82.7 497.4L71.1 492M71.1 492L59.4 486.6M59.4 486.6L47.7 481.2M47.7 481.2L36 475.8M157.5 528.7L145.8 523.1M145.8 523.1L134.1 517.4M134.1 517.4L122.4 511.4M122.4 511.4L110.7 505.3M162.1 527.4L150.4 521.8M150.4 521.8L138.7 515.7M138.7 515.7L127 509.2M166.7 526.2L155 520.4M155 520.4L143.3 514.1M143.3 514.1L131.6 507M171.3 524.9L159.6 519.1M159.6 519.1L147.9 512.4M175.9 523.7L164.2 517.8M164.2 517.8L152.5 510.7M180.5 522.5L168.8 516.4M168.8 516.4L157.1 509.1M185.1 521.2L173.4 515.1M173.4 515.1L161.7 507.5M189.7 520L178 513.8M178 513.8L166.3 505.9M194.3 518.7L182.6 512.5M182.6 512.5L170.9 504.4M198.9 517.5L187.2 511.1M187.2 511.1L175.5 502.9M203.5 516.3L191.8 509.8M191.8 509.8L180.1 501.4M208.1 515L196.4 508.6M196.4 508.6L184.7 500M212.7 513.8L201 507.3M201 507.3L189.3 498.5M217.3 512.6L205.6 506M205.6 506L193.9 497.2M221.9 511.3L210.2 504.7M210.2 504.7L198.5 495.8M226.5 510.1L214.8 503.5M214.8 503.5L203.1 494.6M231.1 508.8L219.4 502.3M219.4 502.3L207.7 493.3M235.7 507.6L224 501M224 501L212.3 492.1M240.3 506.4L228.6 499.8M228.6 499.8L216.9 490.9M244.9 505.1L233.2 498.6M233.2 498.6L221.6 489.8M249.5 503.9L237.8 497.4M237.8 497.4L226.2 488.7M254.1 502.6L242.4 496.2M242.4 496.2L230.8 487.7M258.7 501.4L247 495M247 495L235.4 486.7M263.3 500.2L251.6 493.8M251.6 493.8L240 485.7M267.9 498.9L256.3 492.7M256.3 492.7L244.6 484.8M272.5 497.7L260.9 491.5M260.9 491.5L249.2 483.9M277.1 496.4L265.5 490.4M265.5 490.4L253.8 483M281.7 495.2L270.1 489.2M270.1 489.2L258.4 482.1M286.4 494L274.7 488.1M274.7 488.1L263 481.3M291 492.7L279.3 487M279.3 487L267.6 480.5M267.6 480.5L255.9 473.2M295.6 491.5L283.9 485.8M283.9 485.8L272.2 479.6M272.2 479.6L260.5 473M300.2 490.3L288.5 484.7M288.5 484.7L276.8 478.8M276.8 478.8L265.1 472.7M265.1 472.7L253.4 466.3M304.8 489L293.1 483.6M293.1 483.6L281.4 478M281.4 478L269.7 472.5M269.7 472.5L258 466.8M258 466.8L246.3 461M246.3 461L234.7 455.2M234.7 455.2L228.8 452.3"/>
<path class="mx c0" d="M154.4 529.5L142.7 524M142.7 524L131 518.5M131 518.5L119.3 512.9M119.3 512.9L107.6 507.3M107.6 507.3L96 501.5M96 501.5L84.3 495.7M84.3 495.7L72.6 489.8M159 528.2L147.3 522.7M147.3 522.7L135.6 516.8M135.6 516.8L123.9 510.7M123.9 510.7L112.2 504.2M163.6 527L151.9 521.3M151.9 521.3L140.2 515.2M140.2 515.2L128.5 508.5M168.2 525.8L156.5 520M156.5 520L144.8 513.5M144.8 513.5L133.1 506.3M172.8 524.5L161.1 518.7M161.1 518.7L149.4 511.8M177.4 523.3L165.7 517.3M165.7 517.3L154 510.2M182 522.1L170.3 516M170.3 516L158.6 508.6M186.6 520.8L174.9 514.7M174.9 514.7L163.2 507M191.2 519.6L179.5 513.3M179.5 513.3L167.8 505.4M195.8 518.3L184.1 512M184.1 512L172.4 503.9M200.4 517.1L188.7 510.7M188.7 510.7L177 502.4M205 515.9L193.3 509.4M193.3 509.4L181.7 500.9M209.6 514.6L197.9 508.1M197.9 508.1L186.3 499.5M214.2 513.4L202.5 506.9M202.5 506.9L190.9 498.1M218.8 512.1L207.1 505.6M207.1 505.6L195.5 496.7M223.4 510.9L211.8 504.3M211.8 504.3L200.1 495.4M228 509.7L216.4 503.1M216.4 503.1L204.7 494.1M232.6 508.4L221 501.8M221 501.8L209.3 492.9M237.2 507.2L225.6 500.6M225.6 500.6L213.9 491.7M241.9 505.9L230.2 499.4M230.2 499.4L218.5 490.6M246.5 504.7L234.8 498.2M234.8 498.2L223.1 489.5M251.1 503.5L239.4 497M239.4 497L227.7 488.4M255.7 502.2L244 495.8M244 495.8L232.3 487.4M260.3 501L248.6 494.6M248.6 494.6L236.9 486.4M264.9 499.8L253.2 493.5M253.2 493.5L241.5 485.4M269.5 498.5L257.8 492.3M257.8 492.3L246.1 484.5M274.1 497.3L262.4 491.1M262.4 491.1L250.7 483.6M278.7 496L267 490M267 490L255.3 482.7M283.3 494.8L271.6 488.9M271.6 488.9L259.9 481.8M287.9 493.6L276.2 487.7M276.2 487.7L264.5 481M292.5 492.3L280.8 486.6M280.8 486.6L269.1 480.2M269.1 480.2L257.4 473.1M297.1 491.1L285.4 485.4M285.4 485.4L273.7 479.4M273.7 479.4L262 472.9M301.7 489.8L290 484.3M290 484.3L278.3 478.6M278.3 478.6L266.6 472.6M266.6 472.6L255 466.4M306.3 488.6L294.6 483.2M294.6 483.2L282.9 477.8M282.9 477.8L271.2 472.4M271.2 472.4L259.6 467M259.6 467L247.9 461.6M247.9 461.6L236.2 456.1M236.2 456.1L232.3 454.3"/>
<path class="mx c0" d="M155.9 529.1L144.2 523.6M144.2 523.6L132.5 518M132.5 518L120.9 512.2M120.9 512.2L109.2 506.3M109.2 506.3L97.5 500.2M160.5 527.8L148.8 522.2M148.8 522.2L137.2 516.3M137.2 516.3L125.5 509.9M165.1 526.6L153.4 520.9M153.4 520.9L141.8 514.6M141.8 514.6L130.1 507.7M169.7 525.4L158 519.5M158 519.5L146.4 512.9M174.3 524.1L162.6 518.2M162.6 518.2L151 511.3M178.9 522.9L167.3 516.9M167.3 516.9L155.6 509.7M183.5 521.6L171.9 515.5M171.9 515.5L160.2 508.1M188.1 520.4L176.5 514.2M176.5 514.2L164.8 506.5M192.7 519.2L181.1 512.9M181.1 512.9L169.4 504.9M197.4 517.9L185.7 511.6M185.7 511.6L174 503.4M202 516.7L190.3 510.3M190.3 510.3L178.6 501.9M206.6 515.4L194.9 509M194.9 509L183.2 500.4M211.2 514.2L199.5 507.7M199.5 507.7L187.8 499M215.8 513L204.1 506.4M204.1 506.4L192.4 497.6M220.4 511.7L208.7 505.2M208.7 505.2L197 496.3M225 510.5L213.3 503.9M213.3 503.9L201.6 495M229.6 509.3L217.9 502.7M217.9 502.7L206.2 493.7M234.2 508L222.5 501.4M222.5 501.4L210.8 492.5M238.8 506.8L227.1 500.2M227.1 500.2L215.4 491.3M243.4 505.5L231.7 499M231.7 499L220 490.2M248 504.3L236.3 497.8M236.3 497.8L224.6 489.1M252.6 503.1L240.9 496.6M240.9 496.6L229.2 488M257.2 501.8L245.5 495.4M245.5 495.4L233.8 487M261.8 500.6L250.1 494.2M250.1 494.2L238.4 486M266.4 499.3L254.7 493.1M254.7 493.1L243 485.1M271 498.1L259.3 491.9M259.3 491.9L247.6 484.2M275.6 496.9L263.9 490.8M263.9 490.8L252.2 483.3M280.2 495.6L268.5 489.6M268.5 489.6L256.8 482.4M284.8 494.4L273.1 488.5M273.1 488.5L261.4 481.6M289.4 493.1L277.7 487.3M277.7 487.3L266.1 480.7M294 491.9L282.3 486.2M282.3 486.2L270.7 479.9M270.7 479.9L259 473M298.6 490.7L286.9 485.1M286.9 485.1L275.3 479.1M275.3 479.1L263.6 472.8M303.2 489.4L291.5 483.9M291.5 483.9L279.9 478.3M279.9 478.3L268.2 472.5M268.2 472.5L256.5 466.6M256.5 466.6L244.8 460.5"/>
<path class="mx c1" d="M110.7 505.3L99 498.8M99 498.8L87.3 492.2M87.3 492.2L75.7 485.4M127 509.2L115.3 502.3M115.3 502.3L103.6 494.9M131.6 507L119.9 499.3M147.9 512.4L136.2 504.8M136.2 504.8L124.5 496.4M152.5 510.7L140.8 502.7M157.1 509.1L145.4 500.6M161.7 507.5L150 498.5M166.3 505.9L154.6 496.5M170.9 504.4L159.2 494.6M175.5 502.9L163.8 492.7M180.1 501.4L168.4 490.9M184.7 500L173 489.2M189.3 498.5L177.6 487.6M221.6 489.8L209.9 478.8M226.2 488.7L214.5 477.9M230.8 487.7L219.1 477.1M235.4 486.7L223.7 476.4M240 485.7L228.3 475.8M244.6 484.8L232.9 475.2M249.2 483.9L237.5 474.7M253.8 483L242.1 474.3M258.4 482.1L246.7 473.9M263 481.3L251.3 473.5M251.3 473.5L239.6 464.9M255.9 473.2L244.2 465.3M260.5 473L248.8 465.7M248.8 465.7L237.1 458M253.4 466.3L241.7 459.5M241.7 459.5L230.1 452.5"/>
<path class="mx c1" d="M72.6 489.8L60.9 483.8M60.9 483.8L49.2 477.8M49.2 477.8L37.5 471.7M112.2 504.2L100.6 497.5M100.6 497.5L88.9 490.5M128.5 508.5L116.9 501.3M116.9 501.3L105.2 493.5M133.1 506.3L121.5 498.3M149.4 511.8L137.7 504.1M137.7 504.1L126.1 495.4M154 510.2L142.3 502M158.6 508.6L147 499.9M163.2 507L151.6 497.8M167.8 505.4L156.2 495.9M172.4 503.9L160.8 494M177 502.4L165.4 492.1M181.7 500.9L170 490.4M186.3 499.5L174.6 488.7M190.9 498.1L179.2 487.1M223.1 489.5L211.4 478.5M227.7 488.4L216 477.7M232.3 487.4L220.6 476.9M236.9 486.4L225.2 476.2M241.5 485.4L229.8 475.6M246.1 484.5L234.4 475M250.7 483.6L239 474.6M255.3 482.7L243.6 474.1M259.9 481.8L248.2 473.8M264.5 481L252.8 473.4M252.8 473.4L241.1 465M257.4 473.1L245.7 465.4M262 472.9L250.4 465.9M250.4 465.9L238.7 458.5M255 466.4L243.3 460M243.3 460L231.6 453.4M231.6 453.4L223.8 448.8"/>
<path class="mx c1" d="M97.5 500.2L85.8 494M85.8 494L74.1 487.6M74.1 487.6L62.4 481.1M125.5 509.9L113.8 503.3M113.8 503.3L102.1 496.2M130.1 507.7L118.4 500.3M146.4 512.9L134.7 505.5M134.7 505.5L123 497.3M151 511.3L139.3 503.4M139.3 503.4L127.6 494.5M155.6 509.7L143.9 501.3M160.2 508.1L148.5 499.2M164.8 506.5L153.1 497.2M169.4 504.9L157.7 495.2M174 503.4L162.3 493.3M178.6 501.9L166.9 491.5M183.2 500.4L171.5 489.8M187.8 499L176.1 488.1M192.4 497.6L180.7 486.6M220 490.2L208.3 479.1M224.6 489.1L212.9 478.2M229.2 488L217.5 477.4M233.8 487L222.1 476.6M238.4 486L226.7 476M243 485.1L231.3 475.4M247.6 484.2L236 474.9M252.2 483.3L240.6 474.4M256.8 482.4L245.2 474M261.4 481.6L249.8 473.6M249.8 473.6L238.1 464.7M266.1 480.7L254.4 473.3M254.4 473.3L242.7 465.1M259 473L247.3 465.6M263.6 472.8L251.9 466.1M251.9 466.1L240.2 459M244.8 460.5L233.1 454.3M233.1 454.3L227.3 451.1"/>
<path class="mx c2" d="M75.7 485.4L64 478.3M64 478.3L52.3 471M103.6 494.9L91.9 487M119.9 499.3L108.2 490.9M124.5 496.4L112.8 487.1M140.8 502.7L129.1 493.5M145.4 500.6L133.7 490.7M150 498.5L138.3 488.1M154.6 496.5L142.9 485.5M193.9 497.2L182.2 486.1M198.5 495.8L186.8 484.6M203.1 494.6L191.5 483.3M207.7 493.3L196.1 482M212.3 492.1L200.7 480.9M216.9 490.9L205.3 479.8M232.9 475.2L221.2 464M237.5 474.7L225.8 464.1M242.1 474.3L230.4 464.2M246.7 473.9L235 464.5M239.6 464.9L227.9 455.2M244.2 465.3L232.5 456.6M237.1 458L225.4 449.8M230.1 452.5L220.3 446.4"/>
<path class="mx c2" d="M88.9 490.5L77.2 483.2M77.2 483.2L65.5 475.5M105.2 493.5L93.5 485.3M121.5 498.3L109.8 489.6M126.1 495.4L114.4 485.8M142.3 502L130.7 492.6M147 499.9L135.3 489.8M151.6 497.8L139.9 487.2M156.2 495.9L144.5 484.6M195.5 496.7L183.8 485.6M200.1 495.4L188.4 484.2M204.7 494.1L193 482.9M209.3 492.9L197.6 481.6M213.9 491.7L202.2 480.5M218.5 490.6L206.8 479.5M234.4 475L222.7 464M239 474.6L227.3 464.1M243.6 474.1L231.9 464.3M248.2 473.8L236.5 464.6M241.1 465L229.5 455.7M245.7 465.4L234.1 457.1M238.7 458.5L227 450.7"/>
<path class="mx c2" d="M62.4 481.1L50.8 474.4M50.8 474.4L39.1 467.6M102.1 496.2L90.4 488.8M90.4 488.8L78.7 481M118.4 500.3L106.7 492.2M106.7 492.2L95 483.6M123 497.3L111.3 488.3M143.9 501.3L132.2 491.7M148.5 499.2L136.8 488.9M153.1 497.2L141.4 486.3M197 496.3L185.3 485.1M201.6 495L189.9 483.7M206.2 493.7L194.5 482.4M210.8 492.5L199.1 481.2M215.4 491.3L203.7 480.1M236 474.9L224.3 464M240.6 474.4L228.9 464.2M245.2 474L233.5 464.4M242.7 465.1L231 456.1M247.3 465.6L235.6 457.5M235.6 457.5L223.9 448.9M240.2 459L228.5 451.6M228.5 451.6L216.8 443.8"/>
<path class="mx c3" d="M52.3 471L40.6 463.5M91.9 487L80.3 478.8M108.2 490.9L96.6 481.9M129.1 493.5L117.4 483.3M133.7 490.7L122 479.7M159.2 494.6L147.5 483M163.8 492.7L152.1 480.6M168.4 490.9L156.7 478.4M173 489.2L161.4 476.4M177.6 487.6L166 474.4M182.2 486.1L170.6 472.7M186.8 484.6L175.2 471.1M200.7 480.9L189 467.3M205.3 479.8L193.6 466.4M209.9 478.8L198.2 465.6M214.5 477.9L202.8 465M219.1 477.1L207.4 464.5M223.7 476.4L212 464.2M228.3 475.8L216.6 464M235 464.5L223.3 454M232.5 456.6L220.8 447.2M225.4 449.8L213.8 441.1"/>
<path class="mx c3" d="M65.5 475.5L53.8 467.6M93.5 485.3L81.8 476.6M109.8 489.6L98.1 480.2M130.7 492.6L119 482.1M160.8 494L149.1 482.2M165.4 492.1L153.7 479.9M170 490.4L158.3 477.7M174.6 488.7L162.9 475.7M179.2 487.1L167.5 473.8M183.8 485.6L172.1 472.1M188.4 484.2L176.7 470.6M202.2 480.5L190.5 467M206.8 479.5L195.1 466.1M211.4 478.5L199.7 465.4M216 477.7L204.3 464.8M220.6 476.9L208.9 464.4M225.2 476.2L213.5 464.1M229.8 475.6L218.1 464M231.9 464.3L220.3 453.2M236.5 464.6L224.9 454.4M234.1 457.1L222.4 448M227 450.7L215.3 442.4"/>
<path class="mx c3" d="M78.7 481L67 472.8M95 483.6L83.3 474.4M111.3 488.3L99.6 478.6M127.6 494.5L115.9 484.6M132.2 491.7L120.5 480.9M157.7 495.2L146 483.8M162.3 493.3L150.6 481.4M166.9 491.5L155.2 479.2M171.5 489.8L159.8 477M176.1 488.1L164.4 475.1M180.7 486.6L169 473.3M185.3 485.1L173.6 471.6M189.9 483.7L178.2 470.1M199.1 481.2L187.4 467.6M203.7 480.1L192 466.6M208.3 479.1L196.6 465.8M212.9 478.2L201.2 465.2M217.5 477.4L205.9 464.6M222.1 476.6L210.5 464.3M226.7 476L215.1 464.1M231.3 475.4L219.7 464M233.5 464.4L221.8 453.6M238.1 464.7L226.4 454.8M231 456.1L219.3 446.3M223.9 448.9L212.2 439.7"/>
<path class="mx c4" d="M80.3 478.8L68.6 470M96.6 481.9L84.9 472.2M112.8 487.1L101.2 476.9M117.4 483.3L105.8 472M138.3 488.1L126.6 476.2M142.9 485.5L131.3 472.8M191.5 483.3L179.8 469.7M196.1 482L184.4 468.4M221.2 464L209.5 451.1M225.8 464.1L214.1 451.9M230.4 464.2L218.7 452.9M227.9 455.2L216.2 444.7M220.8 447.2L209.2 437.1M213.8 441.1L207.9 436.4"/>
<path class="mx c4" d="M53.8 467.6L42.1 459.4M81.8 476.6L70.1 467.3M98.1 480.2L86.4 470.1M114.4 485.8L102.7 475.3M135.3 489.8L123.6 478.5M139.9 487.2L128.2 475M144.5 484.6L132.8 471.7M193 482.9L181.3 469.2M197.6 481.6L185.9 468M222.7 464L211 451.3M227.3 464.1L215.7 452.2M224.9 454.4L213.2 443.1M229.5 455.7L217.8 445.5M222.4 448L210.7 438.4M215.3 442.4L211.4 439.5"/>
<path class="mx c4" d="M67 472.8L55.4 464.2M115.9 484.6L104.2 473.6M136.8 488.9L125.1 477.3M141.4 486.3L129.7 473.9M194.5 482.4L182.8 468.8M224.3 464L212.6 451.6M228.9 464.2L217.2 452.5M226.4 454.8L214.7 443.9"/>
<path class="mx c5" d="M68.6 470L56.9 460.9M84.9 472.2L73.2 461.9M101.2 476.9L89.5 465.9M122 479.7L110.4 467.3M147.5 483L135.9 469.6M152.1 480.6L140.5 466.7M156.7 478.4L145.1 463.9M207.4 464.5L195.7 449.8M212 464.2L200.3 450M216.6 464L204.9 450.5M218.7 452.9L207 440.2M223.3 454L211.6 442.4"/>
<path class="mx c5" d="M70.1 467.3L58.4 457.5M119 482.1L107.3 470.4M123.6 478.5L111.9 465.8M149.1 482.2L137.4 468.6M153.7 479.9L142 465.7M158.3 477.7L146.6 463M208.9 464.4L197.2 449.9M213.5 464.1L201.8 450.2M218.1 464L206.4 450.6M220.3 453.2L208.6 440.9M217.8 445.5L206.1 434.5M210.7 438.4L201 429.8"/>
<path class="mx c5" d="M55.4 464.2L43.7 455.3M83.3 474.4L71.6 464.6M99.6 478.6L87.9 468M120.5 480.9L108.8 468.9M146 483.8L134.3 470.7M150.6 481.4L138.9 467.6M155.2 479.2L143.5 464.8M210.5 464.3L198.8 449.9M215.1 464.1L203.4 450.3M219.7 464L208 450.9M221.8 453.6L210.1 441.6M219.3 446.3L207.6 435.8M212.2 439.7L204.4 433.2"/>
<path class="mx c6" d="M56.9 460.9L45.2 451.3M105.8 472L94.1 459.7M126.6 476.2L115 462.8M161.4 476.4L149.7 461.4M166 474.4L154.3 459.1M170.6 472.7L158.9 457M175.2 471.1L163.5 455.2M179.8 469.7L168.1 453.7M184.4 468.4L172.7 452.4M189 467.3L177.3 451.4M193.6 466.4L181.9 450.6M198.2 465.6L186.5 450.1M202.8 465L191.1 449.8M214.1 451.9L202.4 438.2M216.2 444.7L204.6 433.2M209.2 437.1L197.5 426.2"/>
<path class="mx c6" d="M86.4 470.1L74.7 459.2M102.7 475.3L91 463.8M128.2 475L116.5 461.4M162.9 475.7L151.2 460.6M167.5 473.8L155.8 458.4M172.1 472.1L160.4 456.4M176.7 470.6L165 454.7M181.3 469.2L169.6 453.2M185.9 468L174.2 452M190.5 467L178.8 451.1M195.1 466.1L183.4 450.4M199.7 465.4L188 450M204.3 464.8L192.6 449.8M215.7 452.2L204 438.9M213.2 443.1L201.5 430.8"/>
<path class="mx c6" d="M71.6 464.6L60 454.2M87.9 468L76.2 456.6M104.2 473.6L92.5 461.7M125.1 477.3L113.4 464.3M129.7 473.9L118 459.9M159.8 477L148.1 462.2M164.4 475.1L152.7 459.8M169 473.3L157.3 457.7M173.6 471.6L161.9 455.8M178.2 470.1L166.5 454.2M182.8 468.8L171.1 452.8M187.4 467.6L175.8 451.7M192 466.6L180.4 450.8M196.6 465.8L185 450.3M201.2 465.2L189.6 449.9M205.9 464.6L194.2 449.8M212.6 451.6L200.9 437.6M217.2 452.5L205.5 439.5M214.7 443.9L203 432M207.6 435.8L195.9 424.4"/>
<path class="mx c7" d="M73.2 461.9L61.5 450.9M89.5 465.9L77.8 454M131.3 472.8L119.6 458.5M135.9 469.6L124.2 454.5M209.5 451.1L197.8 436.5M211.6 442.4L200 429.6"/>
<path class="mx c7" d="M58.4 457.5L46.7 447.3M107.3 470.4L95.6 457.7M132.8 471.7L121.1 457.2M206.4 450.6L194.8 435.5M211 451.3L199.4 437.1M206.1 434.5L194.4 422.6"/>
<path class="mx c7" d="M108.8 468.9L97.1 455.7M134.3 470.7L122.6 455.8M208 450.9L196.3 436M210.1 441.6L198.4 428.4"/>
<path class="mx c8" d="M110.4 467.3L98.7 453.7M140.5 466.7L128.8 450.8M145.1 463.9L133.4 447.4M200.3 450L188.6 433.9M204.9 450.5L193.2 435.1M207 440.2L195.3 426.2M204.6 433.2L192.9 420.8"/>
<path class="mx c8" d="M74.7 459.2L63 447.6M91 463.8L79.3 451.4M111.9 465.8L100.2 451.8M137.4 468.6L125.7 453.3M142 465.7L130.3 449.6M197.2 449.9L185.6 433.3M201.8 450.2L190.2 434.3M208.6 440.9L196.9 427.3"/>
<path class="mx c8" d="M60 454.2L48.3 443.3M76.2 456.6L64.6 444.4M92.5 461.7L80.9 448.8M113.4 464.3L101.7 449.9M138.9 467.6L127.2 452M143.5 464.8L131.8 448.5M198.8 449.9L187.1 433.6M203.4 450.3L191.7 434.7M205.5 439.5L193.8 425.1M203 432L191.3 419.1M195.9 424.4L192 420.3"/>
<path class="mx c9" d="M61.5 450.9L49.8 439.3M77.8 454L66.1 441.2M94.1 459.7L82.4 446.3M115 462.8L103.3 448M149.7 461.4L138 444.3M154.3 459.1L142.6 441.5M158.9 457L147.2 439.1M186.5 450.1L174.8 432.4M191.1 449.8L179.4 432.6M195.7 449.8L184 433.1M202.4 438.2L190.7 423.1M200 429.6L188.3 415.7"/>
<path class="mx c9" d="M95.6 457.7L83.9 443.8M116.5 461.4L104.8 446.2M146.6 463L134.9 446.3M151.2 460.6L139.5 443.3M155.8 458.4L144.1 440.7M183.4 450.4L171.7 432.5M188 450L176.3 432.4M192.6 449.8L180.9 432.7M204 438.9L192.3 424.1M201.5 430.8L189.8 417.3M194.4 422.6L188.6 416.2"/>
<path class="mx c9" d="M118 459.9L106.3 444.4M148.1 462.2L136.4 445.3M152.7 459.8L141.1 442.4M157.3 457.7L145.7 439.9M185 450.3L173.3 432.4M189.6 449.9L177.9 432.5M194.2 449.8L182.5 432.9M200.9 437.6L189.2 422.1"/>
<path class="mx c10" d="M98.7 453.7L87 438.9M119.6 458.5L107.9 442.7M163.5 455.2L151.8 437M168.1 453.7L156.4 435.4M172.7 452.4L161 434.1M177.3 451.4L165.6 433.1M181.9 450.6L170.2 432.6M197.8 436.5L186.1 420.3M192.9 420.8L185.1 411.9"/>
<path class="mx c10" d="M63 447.6L51.3 435.3M79.3 451.4L67.6 438M121.1 457.2L109.4 441M160.4 456.4L148.7 438.4M165 454.7L153.3 436.4M169.6 453.2L157.9 434.9M174.2 452L162.5 433.7M178.8 451.1L167.1 432.9M199.4 437.1L187.7 421.2M196.9 427.3L185.2 412.4"/>
<path class="mx c10" d="M97.1 455.7L85.5 441.3M122.6 455.8L111 439.3M161.9 455.8L150.3 437.7M166.5 454.2L154.9 435.9M171.1 452.8L159.5 434.5M175.8 451.7L164.1 433.4M180.4 450.8L168.7 432.7M196.3 436L184.6 419.5M198.4 428.4L186.7 414"/>
<path class="mx c11" d="M82.4 446.3L70.7 431.8M124.2 454.5L112.5 437.7M128.8 450.8L117.1 433M193.2 435.1L181.5 417.9M195.3 426.2L183.7 410.9"/>
<path class="mx c11" d="M100.2 451.8L88.5 436.5M125.7 453.3L114 436.1M190.2 434.3L178.5 416.5M194.8 435.5L183.1 418.7M189.8 417.3L178.1 402.9"/>
<path class="mx c11" d="M64.6 444.4L52.9 431.4M80.9 448.8L69.2 434.9M101.7 449.9L90.1 434.1M127.2 452L115.6 434.5M191.7 434.7L180 417.2M193.8 425.1L182.1 409.3M191.3 419.1L179.7 405.1"/>
<path class="mx c12" d="M66.1 441.2L54.4 427.6M103.3 448L91.6 431.8M133.4 447.4L121.7 428.8M184 433.1L172.3 414.3M188.6 433.9L176.9 415.9M190.7 423.1L179.1 406.4M188.3 415.7L176.6 400.6"/>
<path class="mx c12" d="M83.9 443.8L72.2 428.7M104.8 446.2L93.1 429.6M130.3 449.6L118.6 431.6M134.9 446.3L123.2 427.5M185.6 433.3L173.9 414.8M192.3 424.1L180.6 407.9"/>
<path class="mx c12" d="M131.8 448.5L120.2 430.2M187.1 433.6L175.4 415.3"/>
<path class="mx c13" d="M87 438.9L75.3 422.7M107.9 442.7L96.2 425.2M138 444.3L126.3 425M142.6 441.5L130.9 421.7M174.8 432.4L163.1 412.4M179.4 432.6L167.7 413.1"/>
<path class="mx c13" d="M67.6 438L55.9 423.7M139.5 443.3L127.8 423.9M144.1 440.7L132.4 420.7M176.3 432.4L164.7 412.6M180.9 432.7L169.3 413.5M187.7 421.2L176 403.7M185.2 412.4L173.5 396.3"/>
<path class="mx c13" d="M69.2 434.9L57.5 419.9M85.5 441.3L73.8 425.7M106.3 444.4L94.7 427.3M136.4 445.3L124.8 426.2M141.1 442.4L129.4 422.8M145.7 439.9L134 419.8M173.3 432.4L161.6 412.3M177.9 432.5L166.2 412.8M182.5 432.9L170.8 413.8M189.2 422.1L177.5 405M186.7 414L175 398.4"/>
<path class="mx c14" d="M70.7 431.8L59 416.2M112.5 437.7L100.8 419M147.2 439.1L135.5 418.9M151.8 437L140.1 416.5M156.4 435.4L144.7 414.7M161 434.1L149.3 413.4M165.6 433.1L153.9 412.6M170.2 432.6L158.5 412.3M186.1 420.3L174.5 402.4M183.7 410.9L172 394.2"/>
<path class="mx c14" d="M88.5 436.5L76.8 419.8M109.4 441L97.7 423.1M148.7 438.4L137 418M153.3 436.4L141.6 415.9M157.9 434.9L146.2 414.2M162.5 433.7L150.8 413M167.1 432.9L155.5 412.4M171.7 432.5L160.1 412.3M183.1 418.7L171.4 400M178.1 402.9L174.2 397.7"/>
<path class="mx c14" d="M111 439.3L99.3 421M150.3 437.7L138.6 417.3M154.9 435.9L143.2 415.3M159.5 434.5L147.8 413.8M164.1 433.4L152.4 412.8M168.7 432.7L157 412.3M184.6 419.5L172.9 401.2"/>
<path class="mx c15" d="M91.6 431.8L79.9 414.2M117.1 433L105.4 413.3M181.5 417.9L169.9 398.9M176.6 400.6L168.8 389.8"/>
<path class="mx c15" d="M72.2 428.7L60.6 412.5M114 436.1L102.3 417.1M178.5 416.5L166.8 396.8M180.6 407.9L168.9 390.2"/>
<path class="mx c15" d="M90.1 434.1L78.4 417M115.6 434.5L103.9 415.2M180 417.2L168.3 397.8M182.1 409.3L170.4 392.2"/>
<path class="mx c16" d="M121.7 428.8L110 408.2M176.9 415.9L165.3 395.9M179.1 406.4L167.4 388.3"/>
<path class="mx c16" d="M93.1 429.6L81.4 411.4M118.6 431.6L106.9 411.6M173.9 414.8L162.2 394.2"/>
<path class="mx c16" d="M73.8 425.7L62.1 408.9M120.2 430.2L108.5 409.9M175.4 415.3L163.7 395M175 398.4L165.3 384.5"/>
<path class="mx c17" d="M75.3 422.7L63.6 405.4M96.2 425.2L84.5 406.1M126.3 425L114.6 403.7M172.3 414.3L160.6 393.4"/>
<path class="mx c17" d="M123.2 427.5L111.5 406.6M169.3 413.5L157.6 392.1M176 403.7L164.3 384.6M173.5 396.3L161.8 378.9"/>
<path class="mx c17" d="M94.7 427.3L83 408.7M124.8 426.2L113.1 405.1M170.8 413.8L159.1 392.7M177.5 405L165.8 386.4"/>
<path class="mx c18" d="M130.9 421.7L119.2 399.7M163.1 412.4L151.4 390.3M167.7 413.1L156 391.5M174.5 402.4L162.8 382.9M172 394.2L160.3 376.2"/>
<path class="mx c18" d="M76.8 419.8L65.2 401.9M97.7 423.1L86 403.5M127.8 423.9L116.1 402.3M132.4 420.7L120.8 398.5M164.7 412.6L153 390.6"/>
<path class="mx c18" d="M99.3 421L87.6 401M129.4 422.8L117.7 400.9M134 419.8L122.3 397.4M161.6 412.3L149.9 390M166.2 412.8L154.5 391M172.9 401.2L161.2 381.2"/>
<path class="mx c19" d="M79.9 414.2L68.2 395M100.8 419L89.1 398.6M135.5 418.9L123.8 396.4M140.1 416.5L128.4 393.7M144.7 414.7L133 391.7M149.3 413.4L137.6 390.3M153.9 412.6L142.2 389.6M158.5 412.3L146.8 389.6M169.9 398.9L158.2 378.1"/>
<path class="mx c19" d="M102.3 417.1L90.7 396.2M137 418L125.4 395.4M141.6 415.9L130 393M146.2 414.2L134.6 391.2M150.8 413L139.2 390M155.5 412.4L143.8 389.6M160.1 412.3L148.4 389.8M171.4 400L159.7 379.6M168.9 390.2L157.2 371.1"/>
<path class="mx c19" d="M78.4 417L66.7 398.4M138.6 417.3L126.9 394.5M143.2 415.3L131.5 392.3M147.8 413.8L136.1 390.7M152.4 412.8L140.7 389.8M157 412.3L145.3 389.6M170.4 392.2L158.8 373.6"/>
<path class="mx c20" d="M105.4 413.3L93.7 391.8M167.4 388.3L155.7 368.6"/>
<path class="mx c20" d="M81.4 411.4L69.8 391.8M166.8 396.8L155.1 375.2"/>
<path class="mx c20" d="M103.9 415.2L92.2 394M168.3 397.8L156.6 376.6"/>
<path class="mx c21" d="M110 408.2L98.3 385.6M165.3 395.9L153.6 373.9"/>
<path class="mx c21" d="M106.9 411.6L95.3 389.6M162.2 394.2L150.5 371.5"/>
<path class="mx c21" d="M83 408.7L71.3 388.5M108.5 409.9L96.8 387.6M163.7 395L152 372.7M165.8 386.4L154.2 366.2"/>
<path class="mx c22" d="M84.5 406.1L72.8 385.4M160.6 393.4L149 370.5M162.8 382.9L151.1 361.7"/>
<path class="mx c22" d="M86 403.5L74.4 382.3M111.5 406.6L99.9 383.7M164.3 384.6L152.6 363.9"/>
<path class="mx c22" d="M113.1 405.1L101.4 381.9M159.1 392.7L147.4 369.5"/>
<path class="mx c23" d="M114.6 403.7L102.9 380.2M119.2 399.7L107.5 375.5M156 391.5L144.4 367.8"/>
<path class="mx c23" d="M116.1 402.3L104.5 378.5M153 390.6L141.3 366.4M157.6 392.1L145.9 368.6"/>
<path class="mx c23" d="M87.6 401L75.9 379.3M117.7 400.9L106 376.9M154.5 391L142.8 367M161.2 381.2L149.6 359.5"/>
<path class="mx c24" d="M89.1 398.6L77.4 376.4M123.8 396.4L112.1 371.6M146.8 389.6L135.2 364.7M151.4 390.3L139.8 365.8M158.2 378.1L146.5 355.5"/>
<path class="mx c24" d="M90.7 396.2L79 373.6M120.8 398.5L109.1 374.1M125.4 395.4L113.7 370.5M148.4 389.8L136.7 365M159.7 379.6L148 357.4"/>
<path class="mx c24" d="M122.3 397.4L110.6 372.8M149.9 390L138.2 365.4"/>
<path class="mx c25" d="M128.4 393.7L116.7 368.5M133 391.7L121.3 366.3M137.6 390.3L125.9 364.9M142.2 389.6L130.5 364.4"/>
<path class="mx c25" d="M130 393L118.3 367.7M134.6 391.2L122.9 365.8M139.2 390L127.5 364.7M143.8 389.6L132.1 364.4"/>
<path class="mx c25" d="M92.2 394L80.5 370.9M126.9 394.5L115.2 369.5M131.5 392.3L119.8 367M136.1 390.7L124.4 365.3M140.7 389.8L129 364.5M145.3 389.6L133.6 364.5M156.6 376.6L144.9 353.6"/>
<path class="mx c26" d="M93.7 391.8L82 368.3M153.6 373.9L141.9 350"/>
<path class="mx c26" d="M95.3 389.6L83.6 365.7M155.1 375.2L143.4 351.7"/>
<path class="mx c27" d="M98.3 385.6L86.6 360.9"/>
<path class="mx c27" d="M150.5 371.5L138.8 346.9"/>
<path class="mx c27" d="M96.8 387.6L85.1 363.3M152 372.7L140.3 348.4"/>
<path class="mx c28" d="M149 370.5L137.3 345.5"/>
<path class="mx c28" d="M99.9 383.7L88.2 358.7"/>
<path class="mx c28" d="M101.4 381.9L89.7 356.6M147.4 369.5L135.7 344.2"/>
<path class="mx c29" d="M102.9 380.2L91.2 354.5M144.4 367.8L132.7 341.9"/>
<path class="mx c29" d="M104.5 378.5L92.8 352.6M145.9 368.6L134.2 343"/>
<path class="mx c29" d="M106 376.9L94.3 350.8M142.8 367L131.1 340.9"/>
<path class="mx c30" d="M107.5 375.5L95.8 349M139.8 365.8L128.1 339.2"/>
<path class="mx c30" d="M109.1 374.1L97.4 347.4M141.3 366.4L129.6 340"/>
<path class="mx c30" d="M110.6 372.8L98.9 345.9M138.2 365.4L126.5 338.5"/>
<path class="mx c31" d="M112.1 371.6L100.4 344.5M116.7 368.5L105.1 341.1M130.5 364.4L118.9 336.8M135.2 364.7L123.5 337.5"/>
<path class="mx c31" d="M113.7 370.5L102 343.3M118.3 367.7L106.6 340.1M132.1 364.4L120.4 336.9M136.7 365L125 337.9"/>
<path class="mx c31" d="M115.2 369.5L103.5 342.1M119.8 367L108.1 339.3M129 364.5L117.3 336.8M133.6 364.5L121.9 337.2"/>
<path class="mx c32" d="M121.3 366.3L109.7 338.6M125.9 364.9L114.3 337.2"/>
<path class="mx c32" d="M122.9 365.8L111.2 338M127.5 364.7L115.8 337"/>
<path class="mx c32" d="M124.4 365.3L112.7 337.6"/>
<path class="mt c0" d="M152.8 529.9L154.4 529.5L155.9 529.1L157.5 528.7L159 528.2L160.5 527.8L162.1 527.4L163.6 527L165.1 526.6L166.7 526.2L168.2 525.8L169.7 525.4L171.3 524.9L172.8 524.5L174.3 524.1L175.9 523.7L177.4 523.3L178.9 522.9L180.5 522.5L182 522.1L183.5 521.6L185.1 521.2L186.6 520.8L188.1 520.4L189.7 520L191.2 519.6L192.7 519.2L194.3 518.7L195.8 518.3L197.4 517.9L198.9 517.5L200.4 517.1L202 516.7L203.5 516.3L205 515.9L206.6 515.4L208.1 515L209.6 514.6L211.2 514.2L212.7 513.8L214.2 513.4L215.8 513L217.3 512.6L218.8 512.1L220.4 511.7L221.9 511.3L223.4 510.9L225 510.5L226.5 510.1L228 509.7L229.6 509.3L231.1 508.8L232.6 508.4L234.2 508L235.7 507.6L237.2 507.2L238.8 506.8L240.3 506.4L241.9 505.9L243.4 505.5L244.9 505.1L246.5 504.7L248 504.3L249.5 503.9L251.1 503.5L252.6 503.1L254.1 502.6L255.7 502.2L257.2 501.8L258.7 501.4L260.3 501L261.8 500.6L263.3 500.2L264.9 499.8L266.4 499.3L267.9 498.9L269.5 498.5L271 498.1L272.5 497.7L274.1 497.3L275.6 496.9L277.1 496.4L278.7 496L280.2 495.6L281.7 495.2L283.3 494.8L284.8 494.4L286.4 494L287.9 493.6L289.4 493.1L291 492.7L292.5 492.3L294 491.9L295.6 491.5L297.1 491.1L298.6 490.7L300.2 490.3L301.7 489.8L303.2 489.4L304.8 489L306.3 488.6M141.2 524.5L142.7 524L144.2 523.6L145.8 523.1L147.3 522.7L148.8 522.2L150.4 521.8L151.9 521.3L153.4 520.9L155 520.4L156.5 520L158 519.5L159.6 519.1L161.1 518.7L162.6 518.2L164.2 517.8L165.7 517.3L167.3 516.9L168.8 516.4L170.3 516L171.9 515.5L173.4 515.1L174.9 514.7L176.5 514.2L178 513.8L179.5 513.3L181.1 512.9L182.6 512.5L184.1 512L185.7 511.6L187.2 511.1L188.7 510.7L190.3 510.3L191.8 509.8L193.3 509.4L194.9 509L196.4 508.6L197.9 508.1L199.5 507.7L201 507.3L202.5 506.9L204.1 506.4L205.6 506L207.1 505.6L208.7 505.2L210.2 504.7L211.8 504.3L213.3 503.9L214.8 503.5L216.4 503.1L217.9 502.7L219.4 502.3L221 501.8L222.5 501.4L224 501L225.6 500.6L227.1 500.2L228.6 499.8L230.2 499.4L231.7 499L233.2 498.6L234.8 498.2L236.3 497.8L237.8 497.4L239.4 497L240.9 496.6L242.4 496.2L244 495.8L245.5 495.4L247 495L248.6 494.6L250.1 494.2L251.6 493.8L253.2 493.5L254.7 493.1L256.3 492.7L257.8 492.3L259.3 491.9L260.9 491.5L262.4 491.1L263.9 490.8L265.5 490.4L267 490L268.5 489.6L270.1 489.2L271.6 488.9L273.1 488.5L274.7 488.1L276.2 487.7L277.7 487.3L279.3 487L280.8 486.6L282.3 486.2L283.9 485.8L285.4 485.4L286.9 485.1L288.5 484.7L290 484.3L291.5 483.9L293.1 483.6L294.6 483.2M129.5 519.1L131 518.5L132.5 518L134.1 517.4L135.6 516.8L137.2 516.3L138.7 515.7L140.2 515.2L141.8 514.6L143.3 514.1L144.8 513.5L146.4 512.9M267.6 480.5L269.1 480.2L270.7 479.9L272.2 479.6L273.7 479.4L275.3 479.1L276.8 478.8L278.3 478.6L279.9 478.3L281.4 478L282.9 477.8M117.8 513.7L119.3 512.9L120.9 512.2L122.4 511.4L123.9 510.7L125.5 509.9M265.1 472.7L266.6 472.6L268.2 472.5L269.7 472.5L271.2 472.4M106.1 508.3L107.6 507.3L109.2 506.3L110.7 505.3M256.5 466.6L258 466.8L259.6 467M94.4 502.9L96 501.5L97.5 500.2M246.3 461L247.9 461.6M82.7 497.4L84.3 495.7L85.8 494M234.7 455.2L236.2 456.1M71.1 492L72.6 489.8M59.4 486.6L60.9 483.8M47.7 481.2L49.2 477.8M36 475.8L37.5 471.7"/>
<path class="mt c1" d="M146.4 512.9L147.9 512.4L149.4 511.8L151 511.3L152.5 510.7L154 510.2L155.6 509.7L157.1 509.1L158.6 508.6L160.2 508.1L161.7 507.5L163.2 507L164.8 506.5L166.3 505.9L167.8 505.4L169.4 504.9L170.9 504.4L172.4 503.9L174 503.4L175.5 502.9L177 502.4L178.6 501.9L180.1 501.4L181.7 500.9L183.2 500.4L184.7 500L186.3 499.5L187.8 499L189.3 498.5L190.9 498.1L192.4 497.6L193.9 497.2M220 490.2L221.6 489.8L223.1 489.5L224.6 489.1L226.2 488.7L227.7 488.4L229.2 488L230.8 487.7L232.3 487.4L233.8 487L235.4 486.7L236.9 486.4L238.4 486L240 485.7L241.5 485.4L243 485.1L244.6 484.8L246.1 484.5L247.6 484.2L249.2 483.9L250.7 483.6L252.2 483.3L253.8 483L255.3 482.7L256.8 482.4L258.4 482.1L259.9 481.8L261.4 481.6L263 481.3L264.5 481L266.1 480.7L267.6 480.5M125.5 509.9L127 509.2L128.5 508.5L130.1 507.7L131.6 507L133.1 506.3L134.7 505.5L136.2 504.8L137.7 504.1L139.3 503.4L140.8 502.7M249.8 473.6L251.3 473.5L252.8 473.4L254.4 473.3L255.9 473.2L257.4 473.1L259 473L260.5 473L262 472.9L263.6 472.8L265.1 472.7M110.7 505.3L112.2 504.2L113.8 503.3L115.3 502.3L116.9 501.3L118.4 500.3M248.8 465.7L250.4 465.9L251.9 466.1L253.4 466.3L255 466.4L256.5 466.6M97.5 500.2L99 498.8L100.6 497.5L102.1 496.2M241.7 459.5L243.3 460L244.8 460.5L246.3 461M85.8 494L87.3 492.2L88.9 490.5M231.6 453.4L233.1 454.3L234.7 455.2M72.6 489.8L74.1 487.6L75.7 485.4M60.9 483.8L62.4 481.1M49.2 477.8L50.8 474.4M37.5 471.7L39.1 467.6"/>
<path class="mt c2" d="M193.9 497.2L195.5 496.7L197 496.3L198.5 495.8L200.1 495.4L201.6 495L203.1 494.6L204.7 494.1L206.2 493.7L207.7 493.3L209.3 492.9L210.8 492.5L212.3 492.1L213.9 491.7L215.4 491.3L216.9 490.9L218.5 490.6L220 490.2M140.8 502.7L142.3 502L143.9 501.3L145.4 500.6L147 499.9L148.5 499.2L150 498.5L151.6 497.8L153.1 497.2L154.6 496.5L156.2 495.9L157.7 495.2M232.9 475.2L234.4 475L236 474.9L237.5 474.7L239 474.6L240.6 474.4L242.1 474.3L243.6 474.1L245.2 474L246.7 473.9L248.2 473.8L249.8 473.6M118.4 500.3L119.9 499.3L121.5 498.3L123 497.3L124.5 496.4L126.1 495.4L127.6 494.5M239.6 464.9L241.1 465L242.7 465.1L244.2 465.3L245.7 465.4L247.3 465.6L248.8 465.7M102.1 496.2L103.6 494.9L105.2 493.5L106.7 492.2L108.2 490.9M235.6 457.5L237.1 458L238.7 458.5L240.2 459L241.7 459.5M88.9 490.5L90.4 488.8L91.9 487M228.5 451.6L230.1 452.5L231.6 453.4M75.7 485.4L77.2 483.2L78.7 481M62.4 481.1L64 478.3L65.5 475.5M50.8 474.4L52.3 471M39.1 467.6L40.6 463.5"/>
<path class="mt c3" d="M157.7 495.2L159.2 494.6L160.8 494L162.3 493.3L163.8 492.7L165.4 492.1L166.9 491.5L168.4 490.9L170 490.4L171.5 489.8L173 489.2L174.6 488.7L176.1 488.1L177.6 487.6L179.2 487.1L180.7 486.6L182.2 486.1L183.8 485.6L185.3 485.1L186.8 484.6L188.4 484.2L189.9 483.7L191.5 483.3M199.1 481.2L200.7 480.9L202.2 480.5L203.7 480.1L205.3 479.8L206.8 479.5L208.3 479.1L209.9 478.8L211.4 478.5L212.9 478.2L214.5 477.9L216 477.7L217.5 477.4L219.1 477.1L220.6 476.9L222.1 476.6L223.7 476.4L225.2 476.2L226.7 476L228.3 475.8L229.8 475.6L231.3 475.4L232.9 475.2M127.6 494.5L129.1 493.5L130.7 492.6L132.2 491.7L133.7 490.7L135.3 489.8M231.9 464.3L233.5 464.4L235 464.5L236.5 464.6L238.1 464.7L239.6 464.9M108.2 490.9L109.8 489.6L111.3 488.3L112.8 487.1M231 456.1L232.5 456.6L234.1 457.1L235.6 457.5M91.9 487L93.5 485.3L95 483.6L96.6 481.9M223.9 448.9L225.4 449.8L227 450.7L228.5 451.6M78.7 481L80.3 478.8M65.5 475.5L67 472.8M52.3 471L53.8 467.6"/>
<path class="mt c4" d="M191.5 483.3L193 482.9L194.5 482.4L196.1 482L197.6 481.6L199.1 481.2M135.3 489.8L136.8 488.9L138.3 488.1L139.9 487.2L141.4 486.3L142.9 485.5L144.5 484.6L146 483.8M221.2 464L222.7 464L224.3 464L225.8 464.1L227.3 464.1L228.9 464.2L230.4 464.2L231.9 464.3M112.8 487.1L114.4 485.8L115.9 484.6L117.4 483.3L119 482.1M224.9 454.4L226.4 454.8L227.9 455.2L229.5 455.7L231 456.1M96.6 481.9L98.1 480.2L99.6 478.6M220.8 447.2L222.4 448L223.9 448.9M80.3 478.8L81.8 476.6L83.3 474.4M213.8 441.1L215.3 442.4L216.8 443.8M67 472.8L68.6 470M53.8 467.6L55.4 464.2M40.6 463.5L42.1 459.4"/>
<path class="mt c5" d="M146 483.8L147.5 483L149.1 482.2L150.6 481.4L152.1 480.6L153.7 479.9L155.2 479.2L156.7 478.4L158.3 477.7L159.8 477M207.4 464.5L208.9 464.4L210.5 464.3L212 464.2L213.5 464.1L215.1 464.1L216.6 464L218.1 464L219.7 464L221.2 464M119 482.1L120.5 480.9L122 479.7L123.6 478.5L125.1 477.3M218.7 452.9L220.3 453.2L221.8 453.6L223.3 454L224.9 454.4M99.6 478.6L101.2 476.9L102.7 475.3M217.8 445.5L219.3 446.3L220.8 447.2M83.3 474.4L84.9 472.2L86.4 470.1M210.7 438.4L212.2 439.7L213.8 441.1M68.6 470L70.1 467.3L71.6 464.6M55.4 464.2L56.9 460.9M42.1 459.4L43.7 455.3"/>
<path class="mt c6" d="M159.8 477L161.4 476.4L162.9 475.7L164.4 475.1L166 474.4L167.5 473.8L169 473.3L170.6 472.7L172.1 472.1L173.6 471.6L175.2 471.1L176.7 470.6L178.2 470.1L179.8 469.7L181.3 469.2L182.8 468.8L184.4 468.4L185.9 468L187.4 467.6L189 467.3L190.5 467L192 466.6L193.6 466.4L195.1 466.1L196.6 465.8L198.2 465.6L199.7 465.4L201.2 465.2L202.8 465L204.3 464.8L205.9 464.6L207.4 464.5M125.1 477.3L126.6 476.2L128.2 475L129.7 473.9L131.3 472.8M212.6 451.6L214.1 451.9L215.7 452.2L217.2 452.5L218.7 452.9M102.7 475.3L104.2 473.6L105.8 472L107.3 470.4M213.2 443.1L214.7 443.9L216.2 444.7L217.8 445.5M86.4 470.1L87.9 468L89.5 465.9M207.6 435.8L209.2 437.1L210.7 438.4M71.6 464.6L73.2 461.9M56.9 460.9L58.4 457.5M43.7 455.3L45.2 451.3"/>
<path class="mt c7" d="M131.3 472.8L132.8 471.7L134.3 470.7L135.9 469.6L137.4 468.6M206.4 450.6L208 450.9L209.5 451.1L211 451.3L212.6 451.6M107.3 470.4L108.8 468.9L110.4 467.3M210.1 441.6L211.6 442.4L213.2 443.1M89.5 465.9L91 463.8M206.1 434.5L207.6 435.8M73.2 461.9L74.7 459.2M58.4 457.5L60 454.2M45.2 451.3L46.7 447.3"/>
<path class="mt c8" d="M137.4 468.6L138.9 467.6L140.5 466.7L142 465.7L143.5 464.8L145.1 463.9L146.6 463M197.2 449.9L198.8 449.9L200.3 450L201.8 450.2L203.4 450.3L204.9 450.5L206.4 450.6M110.4 467.3L111.9 465.8L113.4 464.3L115 462.8M205.5 439.5L207 440.2L208.6 440.9L210.1 441.6M91 463.8L92.5 461.7L94.1 459.7M203 432L204.6 433.2L206.1 434.5M74.7 459.2L76.2 456.6L77.8 454M195.9 424.4L197.5 426.2M60 454.2L61.5 450.9"/>
<path class="mt c9" d="M146.6 463L148.1 462.2L149.7 461.4L151.2 460.6L152.7 459.8L154.3 459.1L155.8 458.4L157.3 457.7L158.9 457L160.4 456.4M183.4 450.4L185 450.3L186.5 450.1L188 450L189.6 449.9L191.1 449.8L192.6 449.8L194.2 449.8L195.7 449.8L197.2 449.9M115 462.8L116.5 461.4L118 459.9L119.6 458.5M200.9 437.6L202.4 438.2L204 438.9L205.5 439.5M94.1 459.7L95.6 457.7L97.1 455.7M200 429.6L201.5 430.8L203 432M77.8 454L79.3 451.4M194.4 422.6L195.9 424.4M61.5 450.9L63 447.6M46.7 447.3L48.3 443.3"/>
<path class="mt c10" d="M160.4 456.4L161.9 455.8L163.5 455.2L165 454.7L166.5 454.2L168.1 453.7L169.6 453.2L171.1 452.8L172.7 452.4L174.2 452L175.8 451.7L177.3 451.4L178.8 451.1L180.4 450.8L181.9 450.6L183.4 450.4M119.6 458.5L121.1 457.2L122.6 455.8L124.2 454.5M196.3 436L197.8 436.5L199.4 437.1L200.9 437.6M97.1 455.7L98.7 453.7L100.2 451.8M196.9 427.3L198.4 428.4L200 429.6M79.3 451.4L80.9 448.8M192.9 420.8L194.4 422.6M63 447.6L64.6 444.4M48.3 443.3L49.8 439.3"/>
<path class="mt c11" d="M124.2 454.5L125.7 453.3L127.2 452L128.8 450.8L130.3 449.6M190.2 434.3L191.7 434.7L193.2 435.1L194.8 435.5L196.3 436M100.2 451.8L101.7 449.9L103.3 448M193.8 425.1L195.3 426.2L196.9 427.3M80.9 448.8L82.4 446.3L83.9 443.8M189.8 417.3L191.3 419.1L192.9 420.8M64.6 444.4L66.1 441.2M49.8 439.3L51.3 435.3"/>
<path class="mt c12" d="M130.3 449.6L131.8 448.5L133.4 447.4L134.9 446.3L136.4 445.3M184 433.1L185.6 433.3L187.1 433.6L188.6 433.9L190.2 434.3M103.3 448L104.8 446.2L106.3 444.4M190.7 423.1L192.3 424.1L193.8 425.1M83.9 443.8L85.5 441.3M188.3 415.7L189.8 417.3M66.1 441.2L67.6 438M51.3 435.3L52.9 431.4"/>
<path class="mt c13" d="M136.4 445.3L138 444.3L139.5 443.3L141.1 442.4L142.6 441.5L144.1 440.7L145.7 439.9L147.2 439.1M173.3 432.4L174.8 432.4L176.3 432.4L177.9 432.5L179.4 432.6L180.9 432.7L182.5 432.9L184 433.1M106.3 444.4L107.9 442.7L109.4 441M187.7 421.2L189.2 422.1L190.7 423.1M85.5 441.3L87 438.9L88.5 436.5M185.2 412.4L186.7 414L188.3 415.7M67.6 438L69.2 434.9L70.7 431.8M52.9 431.4L54.4 427.6"/>
<path class="mt c14" d="M147.2 439.1L148.7 438.4L150.3 437.7L151.8 437L153.3 436.4L154.9 435.9L156.4 435.4L157.9 434.9L159.5 434.5L161 434.1L162.5 433.7L164.1 433.4L165.6 433.1L167.1 432.9L168.7 432.7L170.2 432.6L171.7 432.5L173.3 432.4M109.4 441L111 439.3L112.5 437.7L114 436.1M183.1 418.7L184.6 419.5L186.1 420.3L187.7 421.2M88.5 436.5L90.1 434.1M183.7 410.9L185.2 412.4M70.7 431.8L72.2 428.7M178.1 402.9L179.7 405.1M54.4 427.6L55.9 423.7"/>
<path class="mt c15" d="M114 436.1L115.6 434.5L117.1 433L118.6 431.6M178.5 416.5L180 417.2L181.5 417.9L183.1 418.7M90.1 434.1L91.6 431.8L93.1 429.6M180.6 407.9L182.1 409.3L183.7 410.9M72.2 428.7L73.8 425.7M176.6 400.6L178.1 402.9M55.9 423.7L57.5 419.9"/>
<path class="mt c16" d="M118.6 431.6L120.2 430.2L121.7 428.8L123.2 427.5M173.9 414.8L175.4 415.3L176.9 415.9L178.5 416.5M93.1 429.6L94.7 427.3M179.1 406.4L180.6 407.9M73.8 425.7L75.3 422.7M175 398.4L176.6 400.6"/>
<path class="mt c17" d="M123.2 427.5L124.8 426.2L126.3 425L127.8 423.9M169.3 413.5L170.8 413.8L172.3 414.3L173.9 414.8M94.7 427.3L96.2 425.2L97.7 423.1M176 403.7L177.5 405L179.1 406.4M75.3 422.7L76.8 419.8M173.5 396.3L175 398.4M57.5 419.9L59 416.2"/>
<path class="mt c18" d="M127.8 423.9L129.4 422.8L130.9 421.7L132.4 420.7L134 419.8L135.5 418.9M161.6 412.3L163.1 412.4L164.7 412.6L166.2 412.8L167.7 413.1L169.3 413.5M97.7 423.1L99.3 421L100.8 419M172.9 401.2L174.5 402.4L176 403.7M76.8 419.8L78.4 417M172 394.2L173.5 396.3M59 416.2L60.6 412.5"/>
<path class="mt c19" d="M135.5 418.9L137 418L138.6 417.3L140.1 416.5L141.6 415.9L143.2 415.3L144.7 414.7L146.2 414.2L147.8 413.8L149.3 413.4L150.8 413L152.4 412.8L153.9 412.6L155.5 412.4L157 412.3L158.5 412.3L160.1 412.3L161.6 412.3M100.8 419L102.3 417.1L103.9 415.2M169.9 398.9L171.4 400L172.9 401.2M78.4 417L79.9 414.2L81.4 411.4M168.9 390.2L170.4 392.2L172 394.2M60.6 412.5L62.1 408.9"/>
<path class="mt c20" d="M103.9 415.2L105.4 413.3L106.9 411.6M166.8 396.8L168.3 397.8L169.9 398.9M81.4 411.4L83 408.7M167.4 388.3L168.9 390.2M62.1 408.9L63.6 405.4"/>
<path class="mt c21" d="M106.9 411.6L108.5 409.9L110 408.2L111.5 406.6M162.2 394.2L163.7 395L165.3 395.9L166.8 396.8M83 408.7L84.5 406.1M165.8 386.4L167.4 388.3M63.6 405.4L65.2 401.9"/>
<path class="mt c22" d="M111.5 406.6L113.1 405.1L114.6 403.7M159.1 392.7L160.6 393.4L162.2 394.2M84.5 406.1L86 403.5L87.6 401M162.8 382.9L164.3 384.6L165.8 386.4M65.2 401.9L66.7 398.4M160.3 376.2L161.8 378.9"/>
<path class="mt c23" d="M114.6 403.7L116.1 402.3L117.7 400.9L119.2 399.7L120.8 398.5M153 390.6L154.5 391L156 391.5L157.6 392.1L159.1 392.7M87.6 401L89.1 398.6M161.2 381.2L162.8 382.9M66.7 398.4L68.2 395M158.8 373.6L160.3 376.2"/>
<path class="mt c24" d="M120.8 398.5L122.3 397.4L123.8 396.4L125.4 395.4L126.9 394.5M146.8 389.6L148.4 389.8L149.9 390L151.4 390.3L153 390.6M89.1 398.6L90.7 396.2L92.2 394M158.2 378.1L159.7 379.6L161.2 381.2M68.2 395L69.8 391.8M157.2 371.1L158.8 373.6"/>
<path class="mt c25" d="M126.9 394.5L128.4 393.7L130 393L131.5 392.3L133 391.7L134.6 391.2L136.1 390.7L137.6 390.3L139.2 390L140.7 389.8L142.2 389.6L143.8 389.6L145.3 389.6L146.8 389.6M92.2 394L93.7 391.8M156.6 376.6L158.2 378.1M69.8 391.8L71.3 388.5M155.7 368.6L157.2 371.1"/>
<path class="mt c26" d="M93.7 391.8L95.3 389.6L96.8 387.6M153.6 373.9L155.1 375.2L156.6 376.6M71.3 388.5L72.8 385.4M154.2 366.2L155.7 368.6"/>
<path class="mt c27" d="M96.8 387.6L98.3 385.6L99.9 383.7M150.5 371.5L152 372.7L153.6 373.9M72.8 385.4L74.4 382.3M152.6 363.9L154.2 366.2"/>
<path class="mt c28" d="M99.9 383.7L101.4 381.9L102.9 380.2M147.4 369.5L149 370.5L150.5 371.5M74.4 382.3L75.9 379.3L77.4 376.4M149.6 359.5L151.1 361.7L152.6 363.9"/>
<path class="mt c29" d="M102.9 380.2L104.5 378.5L106 376.9L107.5 375.5M142.8 367L144.4 367.8L145.9 368.6L147.4 369.5M77.4 376.4L79 373.6M148 357.4L149.6 359.5"/>
<path class="mt c30" d="M107.5 375.5L109.1 374.1L110.6 372.8L112.1 371.6M138.2 365.4L139.8 365.8L141.3 366.4L142.8 367M79 373.6L80.5 370.9M146.5 355.5L148 357.4"/>
<path class="mt c31" d="M112.1 371.6L113.7 370.5L115.2 369.5L116.7 368.5L118.3 367.7L119.8 367L121.3 366.3M129 364.5L130.5 364.4L132.1 364.4L133.6 364.5L135.2 364.7L136.7 365L138.2 365.4M80.5 370.9L82 368.3M144.9 353.6L146.5 355.5"/>
<path class="mt c32" d="M121.3 366.3L122.9 365.8L124.4 365.3L125.9 364.9L127.5 364.7L129 364.5M82 368.3L83.6 365.7L85.1 363.3M141.9 350L143.4 351.7L144.9 353.6"/>
<path class="mt c33" d="M85.1 363.3L86.6 360.9M140.3 348.4L141.9 350"/>
<path class="mt c34" d="M86.6 360.9L88.2 358.7L89.7 356.6M137.3 345.5L138.8 346.9L140.3 348.4"/>
<path class="mt c35" d="M89.7 356.6L91.2 354.5L92.8 352.6M134.2 343L135.7 344.2L137.3 345.5"/>
<path class="mt c36" d="M92.8 352.6L94.3 350.8L95.8 349M131.1 340.9L132.7 341.9L134.2 343"/>
<path class="mt c37" d="M95.8 349L97.4 347.4L98.9 345.9L100.4 344.5M126.5 338.5L128.1 339.2L129.6 340L131.1 340.9"/>
<path class="mt c38" d="M100.4 344.5L102 343.3L103.5 342.1L105.1 341.1M121.9 337.2L123.5 337.5L125 337.9L126.5 338.5"/>
<path class="mt c39" d="M105.1 341.1L106.6 340.1L108.1 339.3L109.7 338.6L111.2 338L112.7 337.6L114.3 337.2L115.8 337L117.3 336.8L118.9 336.8L120.4 336.9L121.9 337.2"/>
</g>
<path d="M306.3 488.6L152.8 529.9L36 475.8" class="fa"/>
<path d="M36 475.8L36 358.2M36 475.8L32.4 474.1M36 452.3L32.4 450.6M36 428.8L32.4 427.1M36 405.2L32.4 403.6M36 381.7L32.4 380M36 358.2L32.4 356.5M152.8 529.9L156.5 531.6M183.5 521.6L187.2 523.3M214.2 513.4L217.9 515.1M244.9 505.1L248.5 506.8M275.6 496.9L279.2 498.5M306.3 488.6L309.9 490.3M152.8 529.9L149 530.9M94.4 502.9L90.6 503.9M36 475.8L32.1 476.8" class="ax"/>
<text class="tk" text-anchor="end" x="28.8" y="476.3">0</text>
<text class="tk" text-anchor="end" x="28.8" y="452.8">0.2</text>
<text class="tk" text-anchor="end" x="28.8" y="429.3">0.4</text>
<text class="tk" text-anchor="end" x="28.8" y="405.7">0.6</text>
<text class="tk" text-anchor="end" x="28.8" y="382.2">0.8</text>
<text class="tk" text-anchor="end" x="28.8" y="358.7">1</text>
<text class="tk" x="159.8" y="541.6">0</text>
<text class="tk" x="190.4" y="533.3">0.2</text>
<text class="tk" x="221.1" y="525.1">0.4</text>
<text class="tk" x="251.8" y="516.8">0.6</text>
<text class="tk" x="282.5" y="508.6">0.8</text>
<text class="tk" x="313.2" y="500.3">1</text>
<text class="tk" text-anchor="end" x="145.9" y="540.7">0</text>
<text class="tk" text-anchor="end" x="87.5" y="513.7">0.5</text>
<text class="tk" text-anchor="end" x="29.1" y="486.6">1</text>
<text class="al" text-anchor="middle" x="96.5" y="540.4">t</text>
<text class="al" text-anchor="middle" x="218.5" y="543.6">x</text>
<text class="al" text-anchor="middle" transform="translate(7.8 417.2) rotate(-90)">u<tspan dy="4.3" font-size="7.2">approx</tspan><tspan dy="-4.3" font-size="1">&#8203;</tspan>(x,t)</text>
<text class="ti" text-anchor="middle" x="171.1" y="309.1">Approximate solution u<tspan dy="4.3" font-size="7.2">approx</tspan><tspan dy="-4.3" font-size="1">&#8203;</tspan>(x,t) from f(x,t)</text>
<path d="M402.4 475.8L555.9 434.5M555.9 434.5L672.7 488.6M402.4 452.3L555.9 411M555.9 411L672.7 465.1M402.4 428.8L555.9 387.5M555.9 387.5L672.7 441.6M402.4 405.2L555.9 363.9M555.9 363.9L672.7 418M402.4 381.7L555.9 340.4M555.9 340.4L672.7 394.5M402.4 358.2L555.9 316.9M555.9 316.9L672.7 371M433.1 467.5L433.1 349.9M463.8 459.3L463.8 341.7M494.5 451L494.5 333.4M525.2 442.8L525.2 325.2M555.9 434.5L555.9 316.9M672.7 488.6L672.7 371M614.3 461.6L614.3 344" class="gr"/>
<path class="sil" d="M519.2 529.9L522.3 529.1L525.4 528.2L528.5 527.4L531.5 526.6L534.6 525.8L537.7 524.9L540.7 524.1L543.8 523.3L546.9 522.5L549.9 521.6L553 520.8L556.1 520L559.1 519.2L562.2 518.3L565.3 517.5L568.4 516.7L571.4 515.9L574.5 515L577.6 514.2L580.6 513.4L583.7 512.6L586.8 511.7L589.8 510.9L592.9 510.1L596 509.3L599 508.4L602.1 507.6L605.2 506.8L608.3 505.9L611.3 505.1L614.4 504.3L617.5 503.5L620.5 502.6L623.6 501.8L626.7 501L629.7 500.2L632.8 499.3L635.9 498.5L638.9 497.7L642 496.9L645.1 496L648.1 495.2L651.2 494.4L654.3 493.6L657.4 492.7L660.4 491.9L663.5 491.1L666.6 490.3L669.6 489.4L672.7 488.6L661 483.2L657.9 483.9L654.9 484.6L651.8 485.3L648.7 486L645.7 486.7L642.6 487.4L639.5 488.1L636.5 488.8L633.4 489.5L630.3 490.2L627.3 491L624.2 491.7L621.1 492.4L618 493.2L615 493.9L611.9 494.7L608.8 495.4L605.8 496.2L602.7 497L599.6 497.7L596.6 498.5L593.5 499.3L590.4 500.1L587.4 500.9L584.3 501.8L581.2 502.6L578.2 503.4L575.1 504.3L572 505.1L568.9 506L565.9 506.9L562.8 507.7L559.7 508.6L556.7 509.5L553.6 510.4L550.5 511.3L547.5 512.2L544.4 513.2L541.3 514.1L538.3 515L535.2 515.9L532.1 516.9L529 517.8L526 518.8L522.9 519.7L519.8 520.7L516.8 521.6L513.7 522.6L510.6 523.5L507.6 524.5ZM507.6 524.5L510.6 523.5L513.7 522.6L516.8 521.6L519.8 520.7L522.9 519.7L526 518.8L529 517.8L532.1 516.9L535.2 515.9L538.3 515L541.3 514.1L544.4 513.2L547.5 512.2L550.5 511.3L553.6 510.4L556.7 509.5L559.7 508.6L562.8 507.7L565.9 506.9L568.9 506L572 505.1L575.1 504.3L578.2 503.4L581.2 502.6L584.3 501.8L587.4 500.9L590.4 500.1L593.5 499.3L596.6 498.5L599.6 497.7L602.7 497L605.8 496.2L608.8 495.4L611.9 494.7L615 493.9L618 493.2L621.1 492.4L624.2 491.7L627.3 491L630.3 490.2L633.4 489.5L636.5 488.8L639.5 488.1L642.6 487.4L645.7 486.7L648.7 486L651.8 485.3L654.9 484.6L657.9 483.9L661 483.2L649.3 477.8L646.3 478.2L643.2 478.6L640.1 479L637.1 479.3L634 479.8L630.9 480.2L627.8 480.6L624.8 481L621.7 481.5L618.6 481.9L615.6 482.4L612.5 482.9L609.4 483.4L606.4 484L603.3 484.5L600.2 485.1L597.2 485.7L594.1 486.3L591 487L588 487.7L584.9 488.4L581.8 489.1L578.7 489.9L575.7 490.6L572.6 491.5L569.5 492.3L566.5 493.2L563.4 494.1L560.3 495L557.3 495.9L554.2 496.9L551.1 497.9L548.1 498.9L545 500L541.9 501L538.8 502.1L535.8 503.3L532.7 504.4L529.6 505.5L526.6 506.7L523.5 507.9L520.4 509.1L517.4 510.3L514.3 511.6L511.2 512.8L508.2 514L505.1 515.3L502 516.6L498.9 517.8L495.9 519.1ZM495.9 519.1L498.9 517.8L502 516.6L505.1 515.3L508.2 514L511.2 512.8L514.3 511.6L517.4 510.3L520.4 509.1L523.5 507.9L526.6 506.7L529.6 505.5L532.7 504.4L535.8 503.3L538.8 502.1L541.9 501L545 500L548.1 498.9L551.1 497.9L554.2 496.9L557.3 495.9L560.3 495L563.4 494.1L566.5 493.2L569.5 492.3L572.6 491.5L575.7 490.6L578.7 489.9L581.8 489.1L584.9 488.4L588 487.7L591 487L594.1 486.3L597.2 485.7L600.2 485.1L603.3 484.5L606.4 484L609.4 483.4L612.5 482.9L615.6 482.4L618.6 481.9L621.7 481.5L624.8 481L627.8 480.6L630.9 480.2L634 479.8L637.1 479.3L640.1 479L643.2 478.6L646.3 478.2L649.3 477.8L637.6 472.4L634.6 472.3L631.5 472.2L628.4 472.2L625.4 472.1L622.3 472.1L619.2 472.1L616.2 472.1L613.1 472.1L610 472.2L607 472.3L603.9 472.4L600.8 472.6L597.7 472.8L594.7 473L591.6 473.3L588.5 473.6L585.5 474L582.4 474.4L579.3 474.9L576.3 475.4L573.2 476L570.1 476.6L567.1 477.3L564 478L560.9 478.8L557.9 479.7L554.8 480.6L551.7 481.6L548.6 482.6L545.6 483.7L542.5 484.8L539.4 486L536.4 487.2L533.3 488.5L530.2 489.8L527.2 491.2L524.1 492.6L521 494L518 495.5L514.9 497.1L511.8 498.6L508.7 500.2L505.7 501.8L502.6 503.5L499.5 505.2L496.5 506.8L493.4 508.5L490.3 510.2L487.3 512L484.2 513.7ZM484.2 513.7L487.3 512L490.3 510.2L493.4 508.5L496.5 506.8L499.5 505.2L502.6 503.5L505.7 501.8L508.7 500.2L511.8 498.6L514.9 497.1L518 495.5L521 494L524.1 492.6L527.2 491.2L530.2 489.8L533.3 488.5L536.4 487.2L539.4 486L542.5 484.8L545.6 483.7L548.6 482.6L551.7 481.6L554.8 480.6L557.9 479.7L560.9 478.8L564 478L567.1 477.3L570.1 476.6L573.2 476L576.3 475.4L579.3 474.9L582.4 474.4L585.5 474L588.5 473.6L591.6 473.3L594.7 473L597.7 472.8L600.8 472.6L603.9 472.4L607 472.3L610 472.2L613.1 472.1L616.2 472.1L619.2 472.1L622.3 472.1L625.4 472.1L628.4 472.2L631.5 472.2L634.6 472.3L637.6 472.4L626 467L622.9 466.3L619.8 465.7L616.8 465L613.7 464.4L610.6 463.8L607.5 463.3L604.5 462.7L601.4 462.3L598.3 461.8L595.3 461.4L592.2 461.1L589.1 460.8L586.1 460.6L583 460.4L579.9 460.4L576.9 460.4L573.8 460.4L570.7 460.6L567.6 460.8L564.6 461.2L561.5 461.6L558.4 462.1L555.4 462.7L552.3 463.4L549.2 464.1L546.2 465L543.1 466L540 467L537 468.2L533.9 469.4L530.8 470.7L527.8 472.2L524.7 473.7L521.6 475.2L518.5 476.9L515.5 478.6L512.4 480.4L509.3 482.3L506.3 484.2L503.2 486.2L500.1 488.2L497.1 490.3L494 492.5L490.9 494.7L487.9 496.9L484.8 499.1L481.7 501.4L478.6 503.7L475.6 506L472.5 508.3ZM472.5 508.3L475.6 506L478.6 503.7L481.7 501.4L484.8 499.1L487.9 496.9L490.9 494.7L494 492.5L497.1 490.3L500.1 488.2L503.2 486.2L506.3 484.2L509.3 482.3L512.4 480.4L515.5 478.6L518.5 476.9L521.6 475.2L524.7 473.7L527.8 472.2L530.8 470.7L533.9 469.4L537 468.2L540 467L543.1 466L546.2 465L549.2 464.1L552.3 463.4L555.4 462.7L558.4 462.1L561.5 461.6L564.6 461.2L567.6 460.8L570.7 460.6L573.8 460.4L576.9 460.4L579.9 460.4L583 460.4L586.1 460.6L589.1 460.8L592.2 461.1L595.3 461.4L598.3 461.8L601.4 462.3L604.5 462.7L607.5 463.3L610.6 463.8L613.7 464.4L616.8 465L619.8 465.7L622.9 466.3L626 467L614.3 461.6L611.2 460.2L608.1 458.9L605.1 457.5L602 456.2L598.9 455L595.9 453.7L592.8 452.6L589.7 451.4L586.7 450.4L583.6 449.4L580.5 448.5L577.4 447.7L574.4 447L571.3 446.4L568.2 445.9L565.2 445.5L562.1 445.2L559 445L556 445L552.9 445.1L549.8 445.3L546.8 445.7L543.7 446.1L540.6 446.8L537.6 447.5L534.5 448.4L531.4 449.4L528.3 450.6L525.3 451.9L522.2 453.3L519.1 454.9L516.1 456.6L513 458.4L509.9 460.4L506.9 462.4L503.8 464.6L500.7 466.8L497.7 469.2L494.6 471.7L491.5 474.2L488.4 476.8L485.4 479.5L482.3 482.3L479.2 485.1L476.2 488L473.1 490.9L470 493.9L467 496.9L463.9 499.8L460.8 502.9ZM460.8 502.9L463.9 499.8L467 496.9L470 493.9L473.1 490.9L476.2 488L479.2 485.1L482.3 482.3L485.4 479.5L488.4 476.8L491.5 474.2L494.6 471.7L497.7 469.2L500.7 466.8L503.8 464.6L506.9 462.4L509.9 460.4L513 458.4L516.1 456.6L519.1 454.9L522.2 453.3L525.3 451.9L528.3 450.6L531.4 449.4L534.5 448.4L537.6 447.5L540.6 446.8L543.7 446.1L546.8 445.7L549.8 445.3L552.9 445.1L556 445L559 445L562.1 445.2L565.2 445.5L568.2 445.9L571.3 446.4L574.4 447L577.4 447.7L580.5 448.5L583.6 449.4L586.7 450.4L589.7 451.4L592.8 452.6L595.9 453.7L598.9 455L602 456.2L605.1 457.5L608.1 458.9L611.2 460.2L614.3 461.6L602.6 456.1L599.5 454L596.5 451.8L593.4 449.7L590.3 447.6L587.2 445.5L584.2 443.5L581.1 441.6L578 439.8L575 438L571.9 436.4L568.8 434.8L565.8 433.4L562.7 432.1L559.6 430.9L556.6 429.9L553.5 429.1L550.4 428.4L547.3 427.8L544.3 427.5L541.2 427.3L538.1 427.3L535.1 427.4L532 427.8L528.9 428.3L525.9 429.1L522.8 430L519.7 431.1L516.7 432.4L513.6 433.9L510.5 435.5L507.5 437.4L504.4 439.4L501.3 441.6L498.2 443.9L495.2 446.4L492.1 449.1L489 451.9L486 454.9L482.9 457.9L479.8 461.1L476.8 464.4L473.7 467.8L470.6 471.3L467.6 474.9L464.5 478.6L461.4 482.3L458.3 486L455.3 489.8L452.2 493.6L449.1 497.4ZM449.1 497.4L452.2 493.6L455.3 489.8L458.3 486L461.4 482.3L464.5 478.6L467.6 474.9L470.6 471.3L473.7 467.8L476.8 464.4L479.8 461.1L482.9 457.9L486 454.9L489 451.9L492.1 449.1L495.2 446.4L498.2 443.9L501.3 441.6L504.4 439.4L507.5 437.4L510.5 435.5L513.6 433.9L516.7 432.4L519.7 431.1L522.8 430L525.9 429.1L528.9 428.3L532 427.8L535.1 427.4L538.1 427.3L541.2 427.3L544.3 427.5L547.3 427.8L550.4 428.4L553.5 429.1L556.6 429.9L559.6 430.9L562.7 432.1L565.8 433.4L568.8 434.8L571.9 436.4L575 438L578 439.8L581.1 441.6L584.2 443.5L587.2 445.5L590.3 447.6L593.4 449.7L596.5 451.8L599.5 454L602.6 456.1L590.9 450.7L587.8 447.6L584.8 444.5L581.7 441.5L578.6 438.5L575.6 435.5L572.5 432.7L569.4 429.9L566.4 427.2L563.3 424.7L560.2 422.3L557.1 420L554.1 417.9L551 415.9L547.9 414.1L544.9 412.6L541.8 411.2L538.7 410L535.7 409.1L532.6 408.3L529.5 407.8L526.5 407.5L523.4 407.5L520.3 407.7L517.2 408.2L514.2 408.9L511.1 409.8L508 411L505 412.5L501.9 414.2L498.8 416.1L495.8 418.2L492.7 420.6L489.6 423.2L486.6 426L483.5 429.1L480.4 432.3L477.4 435.7L474.3 439.3L471.2 443.1L468.1 447L465.1 451.1L462 455.3L458.9 459.6L455.9 464.1L452.8 468.6L449.7 473.2L446.7 477.8L443.6 482.5L440.5 487.3L437.5 492ZM437.5 492L440.5 487.3L443.6 482.5L446.7 477.8L449.7 473.2L452.8 468.6L455.9 464.1L458.9 459.6L462 455.3L465.1 451.1L468.1 447L471.2 443.1L474.3 439.3L477.4 435.7L480.4 432.3L483.5 429.1L486.6 426L489.6 423.2L492.7 420.6L495.8 418.2L498.8 416.1L501.9 414.2L505 412.5L508 411L511.1 409.8L514.2 408.9L517.2 408.2L520.3 407.7L523.4 407.5L526.5 407.5L529.5 407.8L532.6 408.3L535.7 409.1L538.7 410L541.8 411.2L544.9 412.6L547.9 414.1L551 415.9L554.1 417.9L557.1 420L560.2 422.3L563.3 424.7L566.4 427.2L569.4 429.9L572.5 432.7L575.6 435.5L578.6 438.5L581.7 441.5L584.8 444.5L587.8 447.6L590.9 450.7L579.2 445.3L576.2 441.2L573.1 437.1L570 433L566.9 429L563.9 425.1L560.8 421.2L557.7 417.5L554.7 413.9L551.6 410.5L548.5 407.2L545.5 404.1L542.4 401.2L539.3 398.5L536.3 396.1L533.2 393.8L530.1 391.9L527 390.2L524 388.8L520.9 387.6L517.8 386.8L514.8 386.2L511.7 385.9L508.6 386L505.6 386.4L502.5 387L499.4 388L496.4 389.3L493.3 390.9L490.2 392.8L487.1 395L484.1 397.5L481 400.3L477.9 403.4L474.9 406.7L471.8 410.4L468.7 414.2L465.7 418.3L462.6 422.7L459.5 427.2L456.5 432L453.4 436.9L450.3 442L447.3 447.2L444.2 452.6L441.1 458.1L438 463.7L435 469.3L431.9 475.1L428.8 480.8L425.8 486.6ZM425.8 486.6L428.8 480.8L431.9 475.1L435 469.3L438 463.7L441.1 458.1L444.2 452.6L447.3 447.2L450.3 442L453.4 436.9L456.5 432L459.5 427.2L462.6 422.7L465.7 418.3L468.7 414.2L471.8 410.4L474.9 406.7L477.9 403.4L481 400.3L484.1 397.5L487.1 395L490.2 392.8L493.3 390.9L496.4 389.3L499.4 388L502.5 387L505.6 386.4L508.6 386L511.7 385.9L514.8 386.2L517.8 386.8L520.9 387.6L524 388.8L527 390.2L530.1 391.9L533.2 393.8L536.3 396.1L539.3 398.5L542.4 401.2L545.5 404.1L548.5 407.2L551.6 410.5L554.7 413.9L557.7 417.5L560.8 421.2L563.9 425.1L566.9 429L570 433L573.1 437.1L576.2 441.2L579.2 445.3L567.5 439.9L564.5 434.6L561.4 429.4L558.3 424.2L555.3 419.1L552.2 414.1L549.1 409.2L546.1 404.4L543 399.8L539.9 395.4L536.8 391.1L533.8 387.2L530.7 383.4L527.6 379.9L524.6 376.7L521.5 373.8L518.4 371.2L515.4 368.9L512.3 367L509.2 365.4L506.2 364.2L503.1 363.3L500 362.8L496.9 362.7L493.9 362.9L490.8 363.5L487.7 364.6L484.7 366L481.6 367.7L478.5 369.9L475.5 372.4L472.4 375.3L469.3 378.6L466.3 382.2L463.2 386.1L460.1 390.3L457.1 394.9L454 399.8L450.9 404.9L447.8 410.3L444.8 415.9L441.7 421.8L438.6 427.9L435.6 434.1L432.5 440.5L429.4 447.1L426.4 453.8L423.3 460.6L420.2 467.4L417.2 474.3L414.1 481.2ZM414.1 481.2L417.2 474.3L420.2 467.4L423.3 460.6L426.4 453.8L429.4 447.1L432.5 440.5L435.6 434.1L438.6 427.9L441.7 421.8L444.8 415.9L447.8 410.3L450.9 404.9L454 399.8L457.1 394.9L460.1 390.3L463.2 386.1L466.3 382.2L469.3 378.6L472.4 375.3L475.5 372.4L478.5 369.9L481.6 367.7L484.7 366L487.7 364.6L490.8 363.5L493.9 362.9L496.9 362.7L500 362.8L503.1 363.3L506.2 364.2L509.2 365.4L512.3 367L515.4 368.9L518.4 371.2L521.5 373.8L524.6 376.7L527.6 379.9L530.7 383.4L533.8 387.2L536.8 391.1L539.9 395.4L543 399.8L546.1 404.4L549.1 409.2L552.2 414.1L555.3 419.1L558.3 424.2L561.4 429.4L564.5 434.6L567.5 439.9L555.9 434.5L552.8 428L549.7 421.5L546.6 415.1L543.6 408.8L540.5 402.6L537.4 396.5L534.4 390.6L531.3 384.9L528.2 379.4L525.2 374.2L522.1 369.2L519 364.6L516 360.2L512.9 356.2L509.8 352.5L506.7 349.2L503.7 346.3L500.6 343.8L497.5 341.7L494.5 340.1L491.4 338.9L488.3 338.1L485.3 337.8L482.2 337.9L479.1 338.5L476.1 339.5L473 341.1L469.9 343L466.8 345.5L463.8 348.3L460.7 351.6L457.6 355.4L454.6 359.5L451.5 364.1L448.4 369L445.4 374.3L442.3 380L439.2 386L436.2 392.4L433.1 399L430 405.9L427 413L423.9 420.3L420.8 427.9L417.7 435.6L414.7 443.5L411.6 451.5L408.5 459.5L405.5 467.6L402.4 475.8Z"/>
<g class="mesh">
<path class="mx c0" d="M519.2 529.9L507.6 524.5M507.6 524.5L495.9 519.1M495.9 519.1L484.2 513.7M484.2 513.7L472.5 508.3M472.5 508.3L460.8 502.9M460.8 502.9L449.1 497.4M449.1 497.4L437.5 492M437.5 492L425.8 486.6M425.8 486.6L414.1 481.2M414.1 481.2L402.4 475.8M523.9 528.7L512.2 523.1M512.2 523.1L500.5 517.2M500.5 517.2L488.8 511.1M488.8 511.1L477.1 504.8M528.5 527.4L516.8 521.6M516.8 521.6L505.1 515.3M505.1 515.3L493.4 508.5M533.1 526.2L521.4 520.2M521.4 520.2L509.7 513.4M537.7 524.9L526 518.8M526 518.8L514.3 511.6M542.3 523.7L530.6 517.4M530.6 517.4L518.9 509.7M546.9 522.5L535.2 515.9M535.2 515.9L523.5 507.9M551.5 521.2L539.8 514.5M539.8 514.5L528.1 506.1M556.1 520L544.4 513.2M544.4 513.2L532.7 504.4M560.7 518.7L549 511.8M565.3 517.5L553.6 510.4M569.9 516.3L558.2 509.1M574.5 515L562.8 507.7M579.1 513.8L567.4 506.4M583.7 512.6L572 505.1M588.3 511.3L576.6 503.9M592.9 510.1L581.2 502.6M597.5 508.8L585.8 501.4M602.1 507.6L590.4 500.1M606.7 506.4L595 498.9M611.3 505.1L599.6 497.7M615.9 503.9L604.2 496.6M620.5 502.6L608.8 495.4M625.1 501.4L613.4 494.3M629.7 500.2L618 493.2M634.3 498.9L622.7 492M622.7 492L611 483.2M638.9 497.7L627.3 491M627.3 491L615.6 482.4M643.5 496.4L631.9 489.9M631.9 489.9L620.2 481.7M648.1 495.2L636.5 488.8M636.5 488.8L624.8 481M652.8 494L641.1 487.7M641.1 487.7L629.4 480.4M657.4 492.7L645.7 486.7M645.7 486.7L634 479.8M662 491.5L650.3 485.6M650.3 485.6L638.6 479.1M666.6 490.3L654.9 484.6M654.9 484.6L643.2 478.6M643.2 478.6L631.5 472.2M671.2 489L659.5 483.5M659.5 483.5L647.8 478M647.8 478L636.1 472.3M636.1 472.3L624.4 466.6M624.4 466.6L612.7 460.9M612.7 460.9L601.1 455.1"/>
<path class="mx c0" d="M520.8 529.5L509.1 524M509.1 524L497.4 518.4M497.4 518.4L485.7 512.8M485.7 512.8L474 507.1M474 507.1L462.4 501.3M462.4 501.3L450.7 495.5M525.4 528.2L513.7 522.6M513.7 522.6L502 516.6M502 516.6L490.3 510.2M530 527L518.3 521.1M518.3 521.1L506.6 514.7M534.6 525.8L522.9 519.7M522.9 519.7L511.2 512.8M539.2 524.5L527.5 518.3M527.5 518.3L515.8 510.9M543.8 523.3L532.1 516.9M532.1 516.9L520.4 509.1M548.4 522.1L536.7 515.5M536.7 515.5L525 507.3M553 520.8L541.3 514.1M541.3 514.1L529.6 505.5M557.6 519.6L545.9 512.7M545.9 512.7L534.2 503.8M562.2 518.3L550.5 511.3M566.8 517.1L555.1 510M571.4 515.9L559.7 508.6M576 514.6L564.3 507.3M580.6 513.4L568.9 506M585.2 512.1L573.5 504.7M589.8 510.9L578.2 503.4M594.4 509.7L582.8 502.2M599 508.4L587.4 500.9M603.6 507.2L592 499.7M608.3 505.9L596.6 498.5M612.9 504.7L601.2 497.3M617.5 503.5L605.8 496.2M622.1 502.2L610.4 495M626.7 501L615 493.9M631.3 499.8L619.6 492.8M635.9 498.5L624.2 491.7M624.2 491.7L612.5 482.9M640.5 497.3L628.8 490.6M628.8 490.6L617.1 482.2M645.1 496L633.4 489.5M633.4 489.5L621.7 481.5M649.7 494.8L638 488.4M638 488.4L626.3 480.8M654.3 493.6L642.6 487.4M642.6 487.4L630.9 480.2M658.9 492.3L647.2 486.3M647.2 486.3L635.5 479.6M663.5 491.1L651.8 485.3M651.8 485.3L640.1 479M640.1 479L628.4 472.2M668.1 489.8L656.4 484.2M656.4 484.2L644.7 478.4M644.7 478.4L633 472.3M633 472.3L621.4 466M672.7 488.6L661 483.2M661 483.2L649.3 477.8M649.3 477.8L637.6 472.4M637.6 472.4L626 467M626 467L614.3 461.6M614.3 461.6L604.5 457"/>
<path class="mx c0" d="M522.3 529.1L510.6 523.5M510.6 523.5L498.9 517.8M498.9 517.8L487.3 512M487.3 512L475.6 506M475.6 506L463.9 499.8M526.9 527.8L515.2 522.1M515.2 522.1L503.6 515.9M503.6 515.9L491.9 509.4M531.5 526.6L519.8 520.7M519.8 520.7L508.2 514M536.1 525.4L524.4 519.2M524.4 519.2L512.8 512.2M540.7 524.1L529 517.8M529 517.8L517.4 510.3M545.3 522.9L533.7 516.4M533.7 516.4L522 508.5M549.9 521.6L538.3 515M538.3 515L526.6 506.7M554.5 520.4L542.9 513.6M542.9 513.6L531.2 505M559.1 519.2L547.5 512.2M563.8 517.9L552.1 510.9M568.4 516.7L556.7 509.5M573 515.4L561.3 508.2M577.6 514.2L565.9 506.9M582.2 513L570.5 505.6M586.8 511.7L575.1 504.3M591.4 510.5L579.7 503M596 509.3L584.3 501.8M600.6 508L588.9 500.5M605.2 506.8L593.5 499.3M609.8 505.5L598.1 498.1M614.4 504.3L602.7 497M619 503.1L607.3 495.8M623.6 501.8L611.9 494.7M628.2 500.6L616.5 493.5M632.8 499.3L621.1 492.4M637.4 498.1L625.7 491.3M625.7 491.3L614 482.7M642 496.9L630.3 490.2M630.3 490.2L618.6 481.9M646.6 495.6L634.9 489.2M634.9 489.2L623.2 481.2M651.2 494.4L639.5 488.1M639.5 488.1L627.8 480.6M655.8 493.1L644.1 487M644.1 487L632.5 480M660.4 491.9L648.7 486M648.7 486L637.1 479.3M665 490.7L653.3 484.9M653.3 484.9L641.7 478.8M641.7 478.8L630 472.2M669.6 489.4L657.9 483.9M657.9 483.9L646.3 478.2M646.3 478.2L634.6 472.3M634.6 472.3L622.9 466.3M622.9 466.3L611.2 460.2"/>
<path class="mx c1" d="M477.1 504.8L465.4 498.3M465.4 498.3L453.7 491.7M493.4 508.5L481.7 501.4M481.7 501.4L470 493.9M509.7 513.4L498 506M498 506L486.3 498M514.3 511.6L502.6 503.5M518.9 509.7L507.2 501M523.5 507.9L511.8 498.6M528.1 506.1L516.4 496.3M549 511.8L537.3 502.7M553.6 510.4L541.9 501M558.2 509.1L546.5 499.4M562.8 507.7L551.1 497.9M567.4 506.4L555.7 496.4M572 505.1L560.3 495M576.6 503.9L564.9 493.6M581.2 502.6L569.5 492.3M585.8 501.4L574.1 491M590.4 500.1L578.7 489.9M595 498.9L583.3 488.7M599.6 497.7L588 487.7M604.2 496.6L592.6 486.7M608.8 495.4L597.2 485.7M613.4 494.3L601.8 484.8M618 493.2L606.4 484M615.6 482.4L603.9 472.4M620.2 481.7L608.5 472.2M624.8 481L613.1 472.1M629.4 480.4L617.7 472.1M634 479.8L622.3 472.1M622.3 472.1L610.6 463.8M638.6 479.1L626.9 472.2M626.9 472.2L615.2 464.7M631.5 472.2L619.8 465.7M619.8 465.7L608.1 458.9M608.1 458.9L596.5 451.8"/>
<path class="mx c1" d="M450.7 495.5L439 489.7M439 489.7L427.3 483.7M427.3 483.7L415.6 477.7M415.6 477.7L403.9 471.7M490.3 510.2L478.6 503.7M478.6 503.7L467 496.9M467 496.9L455.3 489.8M506.6 514.7L494.9 507.7M494.9 507.7L483.3 500.2M511.2 512.8L499.5 505.2M499.5 505.2L487.9 496.9M515.8 510.9L504.1 502.7M520.4 509.1L508.7 500.2M525 507.3L513.4 497.8M529.6 505.5L518 495.5M550.5 511.3L538.8 502.1M555.1 510L543.4 500.5M559.7 508.6L548.1 498.9M564.3 507.3L552.7 497.4M568.9 506L557.3 495.9M573.5 504.7L561.9 494.5M578.2 503.4L566.5 493.2M582.8 502.2L571.1 491.9M587.4 500.9L575.7 490.6M592 499.7L580.3 489.5M596.6 498.5L584.9 488.4M601.2 497.3L589.5 487.3M605.8 496.2L594.1 486.3M610.4 495L598.7 485.4M615 493.9L603.3 484.5M619.6 492.8L607.9 483.7M617.1 482.2L605.4 472.3M621.7 481.5L610 472.2M626.3 480.8L614.6 472.1M630.9 480.2L619.2 472.1M635.5 479.6L623.8 472.1M623.8 472.1L612.1 464.1M628.4 472.2L616.8 465M616.8 465L605.1 457.5M621.4 466L609.7 459.5M609.7 459.5L598 452.9"/>
<path class="mx c1" d="M463.9 499.8L452.2 493.6M452.2 493.6L440.5 487.3M440.5 487.3L428.8 480.8M491.9 509.4L480.2 502.5M480.2 502.5L468.5 495.4M508.2 514L496.5 506.8M496.5 506.8L484.8 499.1M512.8 512.2L501.1 504.3M517.4 510.3L505.7 501.8M522 508.5L510.3 499.4M526.6 506.7L514.9 497.1M547.5 512.2L535.8 503.3M552.1 510.9L540.4 501.6M556.7 509.5L545 500M561.3 508.2L549.6 498.4M565.9 506.9L554.2 496.9M570.5 505.6L558.8 495.4M575.1 504.3L563.4 494.1M579.7 503L568 492.7M584.3 501.8L572.6 491.5M588.9 500.5L577.2 490.2M593.5 499.3L581.8 489.1M598.1 498.1L586.4 488M602.7 497L591 487M607.3 495.8L595.6 486M611.9 494.7L600.2 485.1M616.5 493.5L604.8 484.2M621.1 492.4L609.4 483.4M618.6 481.9L607 472.3M623.2 481.2L611.6 472.2M627.8 480.6L616.2 472.1M632.5 480L620.8 472.1M637.1 479.3L625.4 472.1M625.4 472.1L613.7 464.4M630 472.2L618.3 465.4M618.3 465.4L606.6 458.2M611.2 460.2L599.5 454M599.5 454L597.6 452.9"/>
<path class="mx c2" d="M453.7 491.7L442.1 484.9M442.1 484.9L430.4 478M430.4 478L418.7 470.8M470 493.9L458.3 486M486.3 498L474.6 489.5M502.6 503.5L490.9 494.7M507.2 501L495.5 491.4M532.7 504.4L521 494M537.3 502.7L525.6 491.9M541.9 501L530.2 489.8M546.5 499.4L534.8 487.8M551.1 497.9L539.4 486M555.7 496.4L544 484.2M560.3 495L548.6 482.6M564.9 493.6L553.2 481.1M569.5 492.3L557.9 479.7M574.1 491L562.5 478.4M578.7 489.9L567.1 477.3M583.3 488.7L571.7 476.3M588 487.7L576.3 475.4M592.6 486.7L580.9 474.6M597.2 485.7L585.5 474M601.8 484.8L590.1 473.4M606.4 484L594.7 473M611 483.2L599.3 472.7M613.1 472.1L601.4 462.3M617.7 472.1L606 463M610.6 463.8L598.9 455M615.2 464.7L603.5 456.9M596.5 451.8L590.6 448.2"/>
<path class="mx c2" d="M455.3 489.8L443.6 482.5M483.3 500.2L471.6 492.4M487.9 496.9L476.2 488M504.1 502.7L492.5 493.6M508.7 500.2L497.1 490.3M534.2 503.8L522.6 493.3M538.8 502.1L527.2 491.2M543.4 500.5L531.8 489.1M548.1 498.9L536.4 487.2M552.7 497.4L541 485.4M557.3 495.9L545.6 483.7M561.9 494.5L550.2 482.1M566.5 493.2L554.8 480.6M571.1 491.9L559.4 479.3M575.7 490.6L564 478M580.3 489.5L568.6 476.9M584.9 488.4L573.2 476M589.5 487.3L577.8 475.1M594.1 486.3L582.4 474.4M598.7 485.4L587 473.8M603.3 484.5L591.6 473.3M607.9 483.7L596.2 472.9M612.5 482.9L600.8 472.6M614.6 472.1L602.9 462.5M619.2 472.1L607.5 463.3M612.1 464.1L600.5 455.6M605.1 457.5L593.4 449.7M598 452.9L594.1 450.6"/>
<path class="mx c2" d="M428.8 480.8L417.2 474.3M417.2 474.3L405.5 467.6M468.5 495.4L456.8 487.9M456.8 487.9L445.1 480.2M484.8 499.1L473.1 490.9M501.1 504.3L489.4 495.8M505.7 501.8L494 492.5M510.3 499.4L498.6 489.3M531.2 505L519.5 494.8M535.8 503.3L524.1 492.6M540.4 501.6L528.7 490.5M545 500L533.3 488.5M549.6 498.4L537.9 486.6M554.2 496.9L542.5 484.8M558.8 495.4L547.1 483.1M563.4 494.1L551.7 481.6M568 492.7L556.3 480.1M572.6 491.5L560.9 478.8M577.2 490.2L565.5 477.7M581.8 489.1L570.1 476.6M586.4 488L574.7 475.7M591 487L579.3 474.9M595.6 486L583.9 474.2M600.2 485.1L588.5 473.6M604.8 484.2L593.1 473.1M609.4 483.4L597.7 472.8M614 482.7L602.4 472.5M611.6 472.2L599.9 462M616.2 472.1L604.5 462.7M620.8 472.1L609.1 463.6M613.7 464.4L602 456.2M606.6 458.2L594.9 450.7M594.9 450.7L587.1 445.6"/>
<path class="mx c3" d="M418.7 470.8L407 463.6M458.3 486L446.7 477.8M474.6 489.5L463 480.4M490.9 494.7L479.2 485.1M511.8 498.6L500.1 488.2M516.4 496.3L504.7 485.2M521 494L509.3 482.3M599.3 472.7L587.6 460.7M603.9 472.4L592.2 461.1M608.5 472.2L596.8 461.6M606 463L594.3 453.1M603.5 456.9L591.8 448.6M591.8 448.6L580.2 440"/>
<path class="mx c3" d="M443.6 482.5L431.9 475.1M431.9 475.1L420.2 467.4M471.6 492.4L459.9 484.1M459.9 484.1L448.2 475.5M492.5 493.6L480.8 483.7M513.4 497.8L501.7 487.2M518 495.5L506.3 484.2M522.6 493.3L510.9 481.3M600.8 472.6L589.1 460.8M605.4 472.3L593.7 461.2M610 472.2L598.3 461.8M607.5 463.3L595.9 453.7M600.5 455.6L588.8 446.5M593.4 449.7L583.6 442.9"/>
<path class="mx c3" d="M445.1 480.2L433.4 472.2M473.1 490.9L461.4 482.3M489.4 495.8L477.7 486.6M494 492.5L482.3 482.3M514.9 497.1L503.2 486.2M519.5 494.8L507.8 483.2M524.1 492.6L512.4 480.4M597.7 472.8L586.1 460.6M602.4 472.5L590.7 460.9M607 472.3L595.3 461.4M604.5 462.7L592.8 452.6M609.1 463.6L597.4 454.3M602 456.2L590.3 447.6"/>
<path class="mx c4" d="M446.7 477.8L435 469.3M463 480.4L451.3 470.9M479.2 485.1L467.6 474.9M495.5 491.4L483.8 480.9M500.1 488.2L488.4 476.8M525.6 491.9L513.9 479.5M530.2 489.8L518.5 476.9M534.8 487.8L523.1 474.4M539.4 486L527.8 472.2M544 484.2L532.4 470.1M580.9 474.6L569.2 460.7M585.5 474L573.8 460.4M590.1 473.4L578.4 460.4M594.7 473L583 460.4M596.8 461.6L585.1 449.9M601.4 462.3L589.7 451.4M598.9 455L587.2 445.5"/>
<path class="mx c4" d="M420.2 467.4L408.5 459.5M476.2 488L464.5 478.6M497.1 490.3L485.4 479.5M501.7 487.2L490 475.5M527.2 491.2L515.5 478.6M531.8 489.1L520.1 476M536.4 487.2L524.7 473.7M541 485.4L529.3 471.4M577.8 475.1L566.1 461M582.4 474.4L570.7 460.6M587 473.8L575.3 460.4M591.6 473.3L579.9 460.4M596.2 472.9L584.5 460.5M598.3 461.8L586.7 450.4M602.9 462.5L591.3 452M595.9 453.7L584.2 443.5M588.8 446.5L577.1 437"/>
<path class="mx c4" d="M433.4 472.2L421.8 464M461.4 482.3L449.7 473.2M477.7 486.6L466 476.7M498.6 489.3L486.9 478.2M528.7 490.5L517 477.7M533.3 488.5L521.6 475.2M537.9 486.6L526.2 472.9M542.5 484.8L530.8 470.7M579.3 474.9L567.6 460.8M583.9 474.2L572.3 460.5M588.5 473.6L576.9 460.4M593.1 473.1L581.5 460.4M599.9 462L588.2 450.9M597.4 454.3L585.7 444.5M590.3 447.6L578.6 438.5"/>
<path class="mx c5" d="M435 469.3L423.3 460.6M483.8 480.9L472.2 469.6M504.7 485.2L493 472.9M509.3 482.3L497.7 469.2M548.6 482.6L537 468.2M553.2 481.1L541.6 466.5M557.9 479.7L546.2 465M562.5 478.4L550.8 463.7M567.1 477.3L555.4 462.7M571.7 476.3L560 461.8M576.3 475.4L564.6 461.2M592.2 461.1L580.5 448.5M594.3 453.1L582.6 442.6M587.2 445.5L575.6 435.5"/>
<path class="mx c5" d="M448.2 475.5L436.5 466.5M464.5 478.6L452.8 468.6M480.8 483.7L469.1 473.1M506.3 484.2L494.6 471.7M545.6 483.7L533.9 469.4M550.2 482.1L538.5 467.6M554.8 480.6L543.1 466M559.4 479.3L547.7 464.6M564 478L552.3 463.4M568.6 476.9L556.9 462.4M573.2 476L561.5 461.6M589.1 460.8L577.4 447.7M593.7 461.2L582.1 449M591.3 452L579.6 440.7"/>
<path class="mx c5" d="M421.8 464L410.1 455.5M449.7 473.2L438 463.7M466 476.7L454.3 466.3M482.3 482.3L470.6 471.3M503.2 486.2L491.5 474.2M507.8 483.2L496.1 470.4M547.1 483.1L535.4 468.8M551.7 481.6L540 467M556.3 480.1L544.6 465.5M560.9 478.8L549.2 464.1M565.5 477.7L553.8 463M570.1 476.6L558.4 462.1M574.7 475.7L563 461.4M590.7 460.9L579 448.1M595.3 461.4L583.6 449.4M592.8 452.6L581.1 441.6M585.7 444.5L574 434.1M578.6 438.5L576.7 436.9"/>
<path class="mx c6" d="M423.3 460.6L411.6 451.5M451.3 470.9L439.6 460.9M467.6 474.9L455.9 464.1M488.4 476.8L476.8 464.4M513.9 479.5L502.3 465.7M518.5 476.9L506.9 462.4M578.4 460.4L566.7 445.7M583 460.4L571.3 446.4M587.6 460.7L575.9 447.4M589.7 451.4L578 439.8M582.6 442.6L571 431.3M575.6 435.5L567.8 428.6"/>
<path class="mx c6" d="M436.5 466.5L424.8 457.2M452.8 468.6L441.1 458.1M469.1 473.1L457.4 461.8M485.4 479.5L473.7 467.8M510.9 481.3L499.2 468M515.5 478.6L503.8 464.6M520.1 476L508.4 461.4M579.9 460.4L568.2 445.9M584.5 460.5L572.8 446.7M586.7 450.4L575 438M584.2 443.5L572.5 432.7M577.1 437L571.3 432"/>
<path class="mx c6" d="M486.9 478.2L475.2 466.1M512.4 480.4L500.7 466.8M517 477.7L505.3 463.5M581.5 460.4L569.8 446.1M586.1 460.6L574.4 447M588.2 450.9L576.5 438.9"/>
<path class="mx c7" d="M439.6 460.9L427.9 450.4M472.2 469.6L460.5 457.5M493 472.9L481.4 459.5M523.1 474.4L511.5 459.4M527.8 472.2L516.1 456.6M532.4 470.1L520.7 454.1M564.6 461.2L552.9 445.1M569.2 460.7L557.5 445M573.8 460.4L562.1 445.2M580.5 448.5L568.8 434.8M585.1 449.9L573.4 437.2"/>
<path class="mx c7" d="M424.8 457.2L413.1 447.5M490 475.5L478.3 462.8M494.6 471.7L482.9 457.9M524.7 473.7L513 458.4M529.3 471.4L517.6 455.7M533.9 469.4L522.2 453.3M566.1 461L554.4 445M570.7 460.6L559 445M575.3 460.4L563.6 445.3M582.1 449L570.4 435.6M579.6 440.7L567.9 428.6"/>
<path class="mx c7" d="M438 463.7L426.4 453.8M454.3 466.3L442.6 455.3M470.6 471.3L458.9 459.6M491.5 474.2L479.8 461.1M521.6 475.2L509.9 460.4M526.2 472.9L514.5 457.5M530.8 470.7L519.1 454.9M567.6 460.8L556 445M572.3 460.5L560.6 445.1M576.9 460.4L565.2 445.5M583.6 449.4L571.9 436.4M581.1 441.6L569.4 429.9M574 434.1L564.3 425"/>
<path class="mx c8" d="M455.9 464.1L444.2 452.6M497.7 469.2L486 454.9M537 468.2L525.3 451.9M541.6 466.5L529.9 450M546.2 465L534.5 448.4M550.8 463.7L539.1 447.1M555.4 462.7L543.7 446.1M560 461.8L548.3 445.5M575.9 447.4L564.2 432.7M578 439.8L566.4 427.2M571 431.3L559.3 419.3"/>
<path class="mx c8" d="M441.1 458.1L429.4 447.1M457.4 461.8L445.7 449.9M473.7 467.8L462 455.3M499.2 468L487.5 453.4M538.5 467.6L526.8 451.2M543.1 466L531.4 449.4M547.7 464.6L536 447.9M552.3 463.4L540.6 446.8M556.9 462.4L545.2 445.9M561.5 461.6L549.8 445.3M577.4 447.7L565.8 433.4M572.5 432.7L560.8 421.2"/>
<path class="mx c8" d="M426.4 453.8L414.7 443.5M475.2 466.1L463.5 453.2M496.1 470.4L484.4 456.4M500.7 466.8L489 451.9M535.4 468.8L523.7 452.6M540 467L528.3 450.6M544.6 465.5L532.9 448.9M549.2 464.1L537.6 447.5M553.8 463L542.2 446.4M558.4 462.1L546.8 445.7M563 461.4L551.4 445.2M574.4 447L562.7 432.1M579 448.1L567.3 434.1M576.5 438.9L564.8 425.9"/>
<path class="mx c9" d="M427.9 450.4L416.2 439.5M460.5 457.5L448.8 444.6M476.8 464.4L465.1 451.1M502.3 465.7L490.6 450.5M506.9 462.4L495.2 446.4M571.3 446.4L559.6 430.9M573.4 437.2L561.7 423.4"/>
<path class="mx c9" d="M478.3 462.8L466.6 449.1M503.8 464.6L492.1 449.1M568.2 445.9L556.6 429.9M572.8 446.7L561.2 431.5M575 438L563.3 424.7M567.9 428.6L556.2 415.7"/>
<path class="mx c9" d="M442.6 455.3L431 443.8M458.9 459.6L447.3 447.2M479.8 461.1L468.1 447M505.3 463.5L493.6 447.8M569.8 446.1L558.1 430.4M571.9 436.4L560.2 422.3M569.4 429.9L557.7 417.5"/>
<path class="mx c10" d="M444.2 452.6L432.5 440.5M481.4 459.5L469.7 445.1M511.5 459.4L499.8 442.7M516.1 456.6L504.4 439.4M562.1 445.2L550.4 428.4M566.7 445.7L555 429.5M568.8 434.8L557.1 420M566.4 427.2L554.7 413.9M559.3 419.3L555.4 415.1"/>
<path class="mx c10" d="M429.4 447.1L417.7 435.6M445.7 449.9L434 437.3M462 455.3L450.3 442M482.9 457.9L471.2 443.1M508.4 461.4L496.7 445.2M513 458.4L501.3 441.6M559 445L547.3 427.8M563.6 445.3L552 428.7M570.4 435.6L558.7 421.1"/>
<path class="mx c10" d="M509.9 460.4L498.2 443.9M514.5 457.5L502.8 440.5M560.6 445.1L548.9 428.1M565.2 445.5L553.5 429.1"/>
<path class="mx c11" d="M465.1 451.1L453.4 436.9M486 454.9L474.3 439.3M520.7 454.1L509 436.4M525.3 451.9L513.6 433.9M529.9 450L518.2 431.7M548.3 445.5L536.6 427.3M552.9 445.1L541.2 427.3M557.5 445L545.8 427.6M564.2 432.7L552.5 416.9"/>
<path class="mx c11" d="M487.5 453.4L475.8 437.5M517.6 455.7L505.9 438.4M522.2 453.3L510.5 435.5M526.8 451.2L515.1 433.1M545.2 445.9L533.5 427.6M549.8 445.3L538.1 427.3M554.4 445L542.7 427.3M565.8 433.4L554.1 417.9M563.3 424.7L551.6 410.5"/>
<path class="mx c11" d="M431 443.8L419.3 431.7M447.3 447.2L435.6 434.1M463.5 453.2L451.9 439.4M484.4 456.4L472.7 441.2M519.1 454.9L507.5 437.4M523.7 452.6L512.1 434.7M528.3 450.6L516.7 432.4M546.8 445.7L535.1 427.4M551.4 445.2L539.7 427.2M556 445L544.3 427.5M567.3 434.1L555.6 418.9M564.8 425.9L553.1 412.2M557.7 417.5L551.9 410.9"/>
<path class="mx c12" d="M432.5 440.5L420.8 427.9M448.8 444.6L437.1 431M490.6 450.5L478.9 434M534.5 448.4L522.8 430M539.1 447.1L527.4 428.7M543.7 446.1L532 427.8M559.6 430.9L547.9 414.1M561.7 423.4L550.1 408.8"/>
<path class="mx c12" d="M466.6 449.1L454.9 434.4M492.1 449.1L480.4 432.3M531.4 449.4L519.7 431.1M536 447.9L524.3 429.5M540.6 446.8L528.9 428.3M561.2 431.5L549.5 415M556.2 415.7L546.5 404.3"/>
<path class="mx c12" d="M468.1 447L456.5 432M489 451.9L477.4 435.7M532.9 448.9L521.3 430.5M537.6 447.5L525.9 429.1M542.2 446.4L530.5 428M562.7 432.1L551 415.9M560.2 422.3L548.5 407.2"/>
<path class="mx c13" d="M469.7 445.1L458 429.6M495.2 446.4L483.5 429.1M555 429.5L543.3 411.8M557.1 420L545.5 404.1M554.7 413.9L543 399.8"/>
<path class="mx c13" d="M434 437.3L422.3 424.1M450.3 442L438.6 427.9M471.2 443.1L459.5 427.2M496.7 445.2L485 427.5M556.6 429.9L544.9 412.6M558.7 421.1L547 405.6"/>
<path class="mx c13" d="M451.9 439.4L440.2 424.8M493.6 447.8L482 430.7M498.2 443.9L486.6 426M553.5 429.1L541.8 411.2M558.1 430.4L546.4 413.3M553.1 412.2L541.4 397.5"/>
<path class="mx c14" d="M453.4 436.9L441.7 421.8M474.3 439.3L462.6 422.7M499.8 442.7L488.1 424.6M504.4 439.4L492.7 420.6M550.4 428.4L538.7 410"/>
<path class="mx c14" d="M501.3 441.6L489.6 423.2M547.3 427.8L535.7 409.1M552 428.7L540.3 410.6M554.1 417.9L542.4 401.2M551.6 410.5L539.9 395.4"/>
<path class="mx c14" d="M435.6 434.1L423.9 420.3M472.7 441.2L461.1 424.9M502.8 440.5L491.2 421.9M548.9 428.1L537.2 409.5M555.6 418.9L543.9 402.6"/>
<path class="mx c15" d="M437.1 431L425.4 416.6M509 436.4L497.3 417.1M513.6 433.9L501.9 414.2M541.2 427.3L529.5 407.8M545.8 427.6L534.1 408.7M552.5 416.9L540.9 399.8M550.1 408.8L538.4 393.2"/>
<path class="mx c15" d="M454.9 434.4L443.2 418.8M475.8 437.5L464.1 420.5M505.9 438.4L494.2 419.4M510.5 435.5L498.8 416.1M538.1 427.3L526.5 407.5M542.7 427.3L531.1 408"/>
<path class="mx c15" d="M477.4 435.7L465.7 418.3M507.5 437.4L495.8 418.2M512.1 434.7L500.4 415.1M539.7 427.2L528 407.7M544.3 427.5L532.6 408.3M551 415.9L539.3 398.5"/>
<path class="mx c16" d="M458 429.6L446.3 413.1M478.9 434L467.2 416.3M518.2 431.7L506.5 411.7M522.8 430L511.1 409.8M527.4 428.7L515.7 408.5M532 427.8L520.3 407.7M536.6 427.3L524.9 407.5M547.9 414.1L536.3 396.1"/>
<path class="mx c16" d="M438.6 427.9L427 413M480.4 432.3L468.7 414.2M515.1 433.1L503.4 413.3M519.7 431.1L508 411M524.3 429.5L512.6 409.3M528.9 428.3L517.2 408.2M533.5 427.6L521.9 407.6M549.5 415L537.8 397.3M547 405.6L535.3 389.1"/>
<path class="mx c16" d="M456.5 432L444.8 415.9M516.7 432.4L505 412.5M521.3 430.5L509.6 410.4M525.9 429.1L514.2 408.9M530.5 428L518.8 407.9M535.1 427.4L523.4 407.5M548.5 407.2L536.8 391.1"/>
<path class="mx c17" d="M441.7 421.8L430 405.9M483.5 429.1L471.8 410.4M543.3 411.8L531.7 392.8M545.5 404.1L533.8 387.2"/>
<path class="mx c17" d="M459.5 427.2L447.8 410.3M485 427.5L473.3 408.5M544.9 412.6L533.2 393.8M539.9 395.4L532.1 384.7"/>
<path class="mx c17" d="M440.2 424.8L428.5 409.4M461.1 424.9L449.4 407.6M482 430.7L470.3 412.3M546.4 413.3L534.7 394.9M543.9 402.6L532.2 385.3M541.4 397.5L535.6 389.8"/>
<path class="mx c18" d="M462.6 422.7L450.9 404.9M488.1 424.6L476.4 405M538.7 410L527 390.2M538.4 393.2L526.7 376.8"/>
<path class="mx c18" d="M443.2 418.8L431.6 402.4M489.6 423.2L477.9 403.4M540.3 410.6L528.6 391M542.4 401.2L530.7 383.4"/>
<path class="mx c18" d="M486.6 426L474.9 406.7M541.8 411.2L530.1 391.9"/>
<path class="mx c19" d="M492.7 420.6L481 400.3M534.1 408.7L522.4 388.1M540.9 399.8L529.2 381.6"/>
<path class="mx c19" d="M464.1 420.5L452.4 402.3M494.2 419.4L482.5 398.9M535.7 409.1L524 388.8"/>
<path class="mx c19" d="M444.8 415.9L433.1 399M465.7 418.3L454 399.8M491.2 421.9L479.5 401.8M495.8 418.2L484.1 397.5M532.6 408.3L520.9 387.6M537.2 409.5L525.5 389.4M539.3 398.5L527.6 379.9M536.8 391.1L525.2 374.2"/>
<path class="mx c20" d="M446.3 413.1L434.6 395.6M467.2 416.3L455.5 397.3M497.3 417.1L485.6 396.2M501.9 414.2L490.2 392.8M524.9 407.5L513.2 386M529.5 407.8L517.8 386.8M536.3 396.1L524.6 376.7"/>
<path class="mx c20" d="M468.7 414.2L457.1 394.9M498.8 416.1L487.1 395M503.4 413.3L491.8 391.8M526.5 407.5L514.8 386.2M531.1 408L519.4 387.1M537.8 397.3L526.1 378.3M535.3 389.1L523.6 371.7"/>
<path class="mx c20" d="M500.4 415.1L488.7 393.9M528 407.7L516.3 386.4"/>
<path class="mx c21" d="M471.8 410.4L460.1 390.3M506.5 411.7L494.8 390.1M511.1 409.8L499.4 388M515.7 408.5L504 386.7M520.3 407.7L508.6 386M533.8 387.2L522.1 369.2"/>
<path class="mx c21" d="M447.8 410.3L436.2 392.4M508 411L496.4 389.3M512.6 409.3L501 387.5M517.2 408.2L505.6 386.4M521.9 407.6L510.2 385.9M533.2 393.8L521.5 373.8"/>
<path class="mx c21" d="M449.4 407.6L437.7 389.2M470.3 412.3L458.6 392.6M505 412.5L493.3 390.9M509.6 410.4L497.9 388.6M514.2 408.9L502.5 387M518.8 407.9L507.1 386.1M523.4 407.5L511.7 385.9M534.7 394.9L523 375.2M532.2 385.3L520.6 366.9"/>
<path class="mx c22" d="M450.9 404.9L439.2 386M531.7 392.8L520 372.5"/>
<path class="mx c22" d="M473.3 408.5L461.7 388.2M530.7 383.4L519 364.6"/>
<path class="mx c22" d="M474.9 406.7L463.2 386.1M530.1 391.9L518.4 371.2"/>
<path class="mx c23" d="M476.4 405L464.7 384.1M527 390.2L515.4 368.9M529.2 381.6L517.5 362.3"/>
<path class="mx c23" d="M452.4 402.3L440.8 383M477.9 403.4L466.3 382.2M528.6 391L516.9 370"/>
<path class="mx c24" d="M455.5 397.3L443.8 377.1M481 400.3L469.3 378.6M522.4 388.1L510.8 366.2"/>
<path class="mx c24" d="M482.5 398.9L470.9 376.9M524 388.8L512.3 367M526.1 378.3L514.4 358.1"/>
<path class="mx c24" d="M454 399.8L442.3 380M479.5 401.8L467.8 380.3M525.5 389.4L513.8 367.9M527.6 379.9L516 360.2"/>
<path class="mx c25" d="M485.6 396.2L473.9 373.8M517.8 386.8L506.2 364.2M524.6 376.7L512.9 356.2"/>
<path class="mx c25" d="M457.1 394.9L445.4 374.3M487.1 395L475.5 372.4M519.4 387.1L507.7 364.7"/>
<path class="mx c25" d="M484.1 397.5L472.4 375.3M488.7 393.9L477 371.1M516.3 386.4L504.6 363.7M520.9 387.6L509.2 365.4"/>
<path class="mx c26" d="M460.1 390.3L448.4 369M490.2 392.8L478.5 369.9M494.8 390.1L483.1 366.8M499.4 388L487.7 364.6M504 386.7L492.3 363.2M508.6 386L496.9 362.7M513.2 386L501.6 363"/>
<path class="mx c26" d="M491.8 391.8L480.1 368.8M496.4 389.3L484.7 366M501 387.5L489.3 364M505.6 386.4L493.9 362.9M510.2 385.9L498.5 362.7M514.8 386.2L503.1 363.3M521.5 373.8L509.8 352.5"/>
<path class="mx c26" d="M458.6 392.6L446.9 371.6M493.3 390.9L481.6 367.7M497.9 388.6L486.2 365.2M502.5 387L490.8 363.5M507.1 386.1L495.4 362.7M511.7 385.9L500 362.8M523 375.2L511.3 354.3"/>
<path class="mx c27" d="M520 372.5L508.3 350.8"/>
<path class="mx c27" d="M461.7 388.2L450 366.5"/>
<path class="mx c27" d="M463.2 386.1L451.5 364.1M518.4 371.2L506.7 349.2"/>
<path class="mx c28" d="M464.7 384.1L453 361.8M515.4 368.9L503.7 346.3"/>
<path class="mx c28" d="M466.3 382.2L454.6 359.5M516.9 370L505.2 347.7"/>
<path class="mx c29" d="M469.3 378.6L457.6 355.4"/>
<path class="mx c29" d="M512.3 367L500.6 343.8"/>
<path class="mx c29" d="M467.8 380.3L456.1 357.4M513.8 367.9L502.1 345"/>
<path class="mx c30" d="M510.8 366.2L499.1 342.7"/>
<path class="mx c30" d="M470.9 376.9L459.2 353.5"/>
<path class="mx c30" d="M472.4 375.3L460.7 351.6M509.2 365.4L497.5 341.7"/>
<path class="mx c31" d="M473.9 373.8L462.2 349.9M478.5 369.9L466.8 345.5M506.2 364.2L494.5 340.1"/>
<path class="mx c31" d="M475.5 372.4L463.8 348.3M503.1 363.3L491.4 338.9M507.7 364.7L496 340.8"/>
<path class="mx c31" d="M477 371.1L465.3 346.8M504.6 363.7L492.9 339.4"/>
<path class="mx c32" d="M483.1 366.8L471.5 342M487.7 364.6L476.1 339.5M492.3 363.2L480.7 338.1M496.9 362.7L485.3 337.8M501.6 363L489.9 338.4"/>
<path class="mx c32" d="M480.1 368.8L468.4 344.2M484.7 366L473 341.1M489.3 364L477.6 339M493.9 362.9L482.2 337.9M498.5 362.7L486.8 337.9"/>
<path class="mx c32" d="M481.6 367.7L469.9 343M486.2 365.2L474.5 340.2M490.8 363.5L479.1 338.5M495.4 362.7L483.7 337.8M500 362.8L488.3 338.1"/>
<path class="mt c0" d="M519.2 529.9L520.8 529.5L522.3 529.1L523.9 528.7L525.4 528.2L526.9 527.8L528.5 527.4L530 527L531.5 526.6L533.1 526.2L534.6 525.8L536.1 525.4L537.7 524.9L539.2 524.5L540.7 524.1L542.3 523.7L543.8 523.3L545.3 522.9L546.9 522.5L548.4 522.1L549.9 521.6L551.5 521.2L553 520.8L554.5 520.4L556.1 520L557.6 519.6L559.1 519.2L560.7 518.7L562.2 518.3L563.8 517.9L565.3 517.5L566.8 517.1L568.4 516.7L569.9 516.3L571.4 515.9L573 515.4L574.5 515L576 514.6L577.6 514.2L579.1 513.8L580.6 513.4L582.2 513L583.7 512.6L585.2 512.1L586.8 511.7L588.3 511.3L589.8 510.9L591.4 510.5L592.9 510.1L594.4 509.7L596 509.3L597.5 508.8L599 508.4L600.6 508L602.1 507.6L603.6 507.2L605.2 506.8L606.7 506.4L608.3 505.9L609.8 505.5L611.3 505.1L612.9 504.7L614.4 504.3L615.9 503.9L617.5 503.5L619 503.1L620.5 502.6L622.1 502.2L623.6 501.8L625.1 501.4L626.7 501L628.2 500.6L629.7 500.2L631.3 499.8L632.8 499.3L634.3 498.9L635.9 498.5L637.4 498.1L638.9 497.7L640.5 497.3L642 496.9L643.5 496.4L645.1 496L646.6 495.6L648.1 495.2L649.7 494.8L651.2 494.4L652.8 494L654.3 493.6L655.8 493.1L657.4 492.7L658.9 492.3L660.4 491.9L662 491.5L663.5 491.1L665 490.7L666.6 490.3L668.1 489.8L669.6 489.4L671.2 489L672.7 488.6M507.6 524.5L509.1 524L510.6 523.5L512.2 523.1L513.7 522.6L515.2 522.1L516.8 521.6L518.3 521.1L519.8 520.7L521.4 520.2L522.9 519.7L524.4 519.2L526 518.8L527.5 518.3L529 517.8L530.6 517.4L532.1 516.9L533.7 516.4L535.2 515.9L536.7 515.5L538.3 515L539.8 514.5L541.3 514.1L542.9 513.6L544.4 513.2L545.9 512.7L547.5 512.2M622.7 492L624.2 491.7L625.7 491.3L627.3 491L628.8 490.6L630.3 490.2L631.9 489.9L633.4 489.5L634.9 489.2L636.5 488.8L638 488.4L639.5 488.1L641.1 487.7L642.6 487.4L644.1 487L645.7 486.7L647.2 486.3L648.7 486L650.3 485.6L651.8 485.3L653.3 484.9L654.9 484.6L656.4 484.2L657.9 483.9L659.5 483.5L661 483.2M495.9 519.1L497.4 518.4L498.9 517.8L500.5 517.2L502 516.6L503.6 515.9L505.1 515.3L506.6 514.7M640.1 479L641.7 478.8L643.2 478.6L644.7 478.4L646.3 478.2L647.8 478L649.3 477.8M484.2 513.7L485.7 512.8L487.3 512L488.8 511.1L490.3 510.2M633 472.3L634.6 472.3L636.1 472.3L637.6 472.4M472.5 508.3L474 507.1L475.6 506L477.1 504.8M622.9 466.3L624.4 466.6L626 467M460.8 502.9L462.4 501.3L463.9 499.8M612.7 460.9L614.3 461.6M449.1 497.4L450.7 495.5M437.5 492L439 489.7M425.8 486.6L427.3 483.7M414.1 481.2L415.6 477.7M402.4 475.8L403.9 471.7"/>
<path class="mt c1" d="M547.5 512.2L549 511.8L550.5 511.3L552.1 510.9L553.6 510.4L555.1 510L556.7 509.5L558.2 509.1L559.7 508.6L561.3 508.2L562.8 507.7L564.3 507.3L565.9 506.9L567.4 506.4L568.9 506L570.5 505.6L572 505.1L573.5 504.7L575.1 504.3L576.6 503.9L578.2 503.4L579.7 503L581.2 502.6L582.8 502.2L584.3 501.8L585.8 501.4L587.4 500.9L588.9 500.5L590.4 500.1L592 499.7L593.5 499.3L595 498.9L596.6 498.5L598.1 498.1L599.6 497.7L601.2 497.3L602.7 497L604.2 496.6L605.8 496.2L607.3 495.8L608.8 495.4L610.4 495L611.9 494.7L613.4 494.3L615 493.9L616.5 493.5L618 493.2L619.6 492.8L621.1 492.4L622.7 492M506.6 514.7L508.2 514L509.7 513.4L511.2 512.8L512.8 512.2L514.3 511.6L515.8 510.9L517.4 510.3L518.9 509.7L520.4 509.1L522 508.5L523.5 507.9L525 507.3L526.6 506.7L528.1 506.1L529.6 505.5L531.2 505M615.6 482.4L617.1 482.2L618.6 481.9L620.2 481.7L621.7 481.5L623.2 481.2L624.8 481L626.3 480.8L627.8 480.6L629.4 480.4L630.9 480.2L632.5 480L634 479.8L635.5 479.6L637.1 479.3L638.6 479.1L640.1 479M490.3 510.2L491.9 509.4L493.4 508.5L494.9 507.7L496.5 506.8L498 506L499.5 505.2L501.1 504.3M622.3 472.1L623.8 472.1L625.4 472.1L626.9 472.2L628.4 472.2L630 472.2L631.5 472.2L633 472.3M477.1 504.8L478.6 503.7L480.2 502.5L481.7 501.4L483.3 500.2M616.8 465L618.3 465.4L619.8 465.7L621.4 466L622.9 466.3M463.9 499.8L465.4 498.3L467 496.9L468.5 495.4M608.1 458.9L609.7 459.5L611.2 460.2L612.7 460.9M450.7 495.5L452.2 493.6L453.7 491.7M599.5 454L601.1 455.1M439 489.7L440.5 487.3L442.1 484.9M427.3 483.7L428.8 480.8M415.6 477.7L417.2 474.3M403.9 471.7L405.5 467.6"/>
<path class="mt c2" d="M531.2 505L532.7 504.4L534.2 503.8L535.8 503.3L537.3 502.7L538.8 502.1L540.4 501.6L541.9 501L543.4 500.5L545 500L546.5 499.4L548.1 498.9L549.6 498.4L551.1 497.9L552.7 497.4L554.2 496.9L555.7 496.4L557.3 495.9L558.8 495.4L560.3 495L561.9 494.5L563.4 494.1L564.9 493.6L566.5 493.2L568 492.7L569.5 492.3L571.1 491.9L572.6 491.5L574.1 491L575.7 490.6L577.2 490.2L578.7 489.9L580.3 489.5L581.8 489.1L583.3 488.7L584.9 488.4L586.4 488L588 487.7L589.5 487.3L591 487L592.6 486.7L594.1 486.3L595.6 486L597.2 485.7L598.7 485.4L600.2 485.1L601.8 484.8L603.3 484.5L604.8 484.2L606.4 484L607.9 483.7L609.4 483.4L611 483.2L612.5 482.9L614 482.7L615.6 482.4M501.1 504.3L502.6 503.5L504.1 502.7L505.7 501.8L507.2 501L508.7 500.2L510.3 499.4L511.8 498.6M611.6 472.2L613.1 472.1L614.6 472.1L616.2 472.1L617.7 472.1L619.2 472.1L620.8 472.1L622.3 472.1M483.3 500.2L484.8 499.1L486.3 498L487.9 496.9L489.4 495.8M610.6 463.8L612.1 464.1L613.7 464.4L615.2 464.7L616.8 465M468.5 495.4L470 493.9L471.6 492.4M605.1 457.5L606.6 458.2L608.1 458.9M453.7 491.7L455.3 489.8L456.8 487.9L458.3 486M594.9 450.7L596.5 451.8L598 452.9L599.5 454M442.1 484.9L443.6 482.5M428.8 480.8L430.4 478L431.9 475.1M417.2 474.3L418.7 470.8M405.5 467.6L407 463.6"/>
<path class="mt c3" d="M511.8 498.6L513.4 497.8L514.9 497.1L516.4 496.3L518 495.5L519.5 494.8L521 494L522.6 493.3L524.1 492.6L525.6 491.9M597.7 472.8L599.3 472.7L600.8 472.6L602.4 472.5L603.9 472.4L605.4 472.3L607 472.3L608.5 472.2L610 472.2L611.6 472.2M489.4 495.8L490.9 494.7L492.5 493.6L494 492.5L495.5 491.4M604.5 462.7L606 463L607.5 463.3L609.1 463.6L610.6 463.8M471.6 492.4L473.1 490.9L474.6 489.5L476.2 488M600.5 455.6L602 456.2L603.5 456.9L605.1 457.5M458.3 486L459.9 484.1L461.4 482.3M591.8 448.6L593.4 449.7L594.9 450.7M443.6 482.5L445.1 480.2L446.7 477.8M431.9 475.1L433.4 472.2M418.7 470.8L420.2 467.4"/>
<path class="mt c4" d="M525.6 491.9L527.2 491.2L528.7 490.5L530.2 489.8L531.8 489.1L533.3 488.5L534.8 487.8L536.4 487.2L537.9 486.6L539.4 486L541 485.4L542.5 484.8L544 484.2L545.6 483.7M577.8 475.1L579.3 474.9L580.9 474.6L582.4 474.4L583.9 474.2L585.5 474L587 473.8L588.5 473.6L590.1 473.4L591.6 473.3L593.1 473.1L594.7 473L596.2 472.9L597.7 472.8M495.5 491.4L497.1 490.3L498.6 489.3L500.1 488.2L501.7 487.2L503.2 486.2M596.8 461.6L598.3 461.8L599.9 462L601.4 462.3L602.9 462.5L604.5 462.7M476.2 488L477.7 486.6L479.2 485.1L480.8 483.7M595.9 453.7L597.4 454.3L598.9 455L600.5 455.6M461.4 482.3L463 480.4L464.5 478.6M588.8 446.5L590.3 447.6L591.8 448.6M446.7 477.8L448.2 475.5M433.4 472.2L435 469.3M420.2 467.4L421.8 464M407 463.6L408.5 459.5"/>
<path class="mt c5" d="M545.6 483.7L547.1 483.1L548.6 482.6L550.2 482.1L551.7 481.6L553.2 481.1L554.8 480.6L556.3 480.1L557.9 479.7L559.4 479.3L560.9 478.8L562.5 478.4L564 478L565.5 477.7L567.1 477.3L568.6 476.9L570.1 476.6L571.7 476.3L573.2 476L574.7 475.7L576.3 475.4L577.8 475.1M503.2 486.2L504.7 485.2L506.3 484.2L507.8 483.2L509.3 482.3L510.9 481.3M589.1 460.8L590.7 460.9L592.2 461.1L593.7 461.2L595.3 461.4L596.8 461.6M480.8 483.7L482.3 482.3L483.8 480.9L485.4 479.5M591.3 452L592.8 452.6L594.3 453.1L595.9 453.7M464.5 478.6L466 476.7L467.6 474.9M585.7 444.5L587.2 445.5L588.8 446.5M448.2 475.5L449.7 473.2L451.3 470.9M578.6 438.5L580.2 440M435 469.3L436.5 466.5M421.8 464L423.3 460.6M408.5 459.5L410.1 455.5"/>
<path class="mt c6" d="M510.9 481.3L512.4 480.4L513.9 479.5L515.5 478.6L517 477.7L518.5 476.9L520.1 476L521.6 475.2M578.4 460.4L579.9 460.4L581.5 460.4L583 460.4L584.5 460.5L586.1 460.6L587.6 460.7L589.1 460.8M485.4 479.5L486.9 478.2L488.4 476.8L490 475.5M586.7 450.4L588.2 450.9L589.7 451.4L591.3 452M467.6 474.9L469.1 473.1L470.6 471.3M582.6 442.6L584.2 443.5L585.7 444.5M451.3 470.9L452.8 468.6L454.3 466.3M575.6 435.5L577.1 437L578.6 438.5M436.5 466.5L438 463.7M423.3 460.6L424.8 457.2M410.1 455.5L411.6 451.5"/>
<path class="mt c7" d="M521.6 475.2L523.1 474.4L524.7 473.7L526.2 472.9L527.8 472.2L529.3 471.4L530.8 470.7L532.4 470.1L533.9 469.4L535.4 468.8M564.6 461.2L566.1 461L567.6 460.8L569.2 460.7L570.7 460.6L572.3 460.5L573.8 460.4L575.3 460.4L576.9 460.4L578.4 460.4M490 475.5L491.5 474.2L493 472.9L494.6 471.7L496.1 470.4M580.5 448.5L582.1 449L583.6 449.4L585.1 449.9L586.7 450.4M470.6 471.3L472.2 469.6L473.7 467.8M579.6 440.7L581.1 441.6L582.6 442.6M454.3 466.3L455.9 464.1M574 434.1L575.6 435.5M438 463.7L439.6 460.9L441.1 458.1M424.8 457.2L426.4 453.8M411.6 451.5L413.1 447.5"/>
<path class="mt c8" d="M535.4 468.8L537 468.2L538.5 467.6L540 467L541.6 466.5L543.1 466L544.6 465.5L546.2 465L547.7 464.6L549.2 464.1L550.8 463.7L552.3 463.4L553.8 463L555.4 462.7L556.9 462.4L558.4 462.1L560 461.8L561.5 461.6L563 461.4L564.6 461.2M496.1 470.4L497.7 469.2L499.2 468L500.7 466.8L502.3 465.7M574.4 447L575.9 447.4L577.4 447.7L579 448.1L580.5 448.5M473.7 467.8L475.2 466.1L476.8 464.4M576.5 438.9L578 439.8L579.6 440.7M455.9 464.1L457.4 461.8L458.9 459.6M571 431.3L572.5 432.7L574 434.1M441.1 458.1L442.6 455.3M426.4 453.8L427.9 450.4"/>
<path class="mt c9" d="M502.3 465.7L503.8 464.6L505.3 463.5L506.9 462.4L508.4 461.4M568.2 445.9L569.8 446.1L571.3 446.4L572.8 446.7L574.4 447M476.8 464.4L478.3 462.8L479.8 461.1L481.4 459.5M571.9 436.4L573.4 437.2L575 438L576.5 438.9M458.9 459.6L460.5 457.5L462 455.3M567.9 428.6L569.4 429.9L571 431.3M442.6 455.3L444.2 452.6M427.9 450.4L429.4 447.1M413.1 447.5L414.7 443.5"/>
<path class="mt c10" d="M508.4 461.4L509.9 460.4L511.5 459.4L513 458.4L514.5 457.5L516.1 456.6L517.6 455.7M559 445L560.6 445.1L562.1 445.2L563.6 445.3L565.2 445.5L566.7 445.7L568.2 445.9M481.4 459.5L482.9 457.9L484.4 456.4M568.8 434.8L570.4 435.6L571.9 436.4M462 455.3L463.5 453.2M566.4 427.2L567.9 428.6M444.2 452.6L445.7 449.9L447.3 447.2M559.3 419.3L560.8 421.2M429.4 447.1L431 443.8M414.7 443.5L416.2 439.5"/>
<path class="mt c11" d="M517.6 455.7L519.1 454.9L520.7 454.1L522.2 453.3L523.7 452.6L525.3 451.9L526.8 451.2L528.3 450.6L529.9 450L531.4 449.4M545.2 445.9L546.8 445.7L548.3 445.5L549.8 445.3L551.4 445.2L552.9 445.1L554.4 445L556 445L557.5 445L559 445M484.4 456.4L486 454.9L487.5 453.4L489 451.9M564.2 432.7L565.8 433.4L567.3 434.1L568.8 434.8M463.5 453.2L465.1 451.1L466.6 449.1M563.3 424.7L564.8 425.9L566.4 427.2M447.3 447.2L448.8 444.6M557.7 417.5L559.3 419.3M431 443.8L432.5 440.5M416.2 439.5L417.7 435.6"/>
<path class="mt c12" d="M531.4 449.4L532.9 448.9L534.5 448.4L536 447.9L537.6 447.5L539.1 447.1L540.6 446.8L542.2 446.4L543.7 446.1L545.2 445.9M489 451.9L490.6 450.5L492.1 449.1L493.6 447.8M559.6 430.9L561.2 431.5L562.7 432.1L564.2 432.7M466.6 449.1L468.1 447L469.7 445.1M560.2 422.3L561.7 423.4L563.3 424.7M448.8 444.6L450.3 442M556.2 415.7L557.7 417.5M432.5 440.5L434 437.3M417.7 435.6L419.3 431.7"/>
<path class="mt c13" d="M493.6 447.8L495.2 446.4L496.7 445.2L498.2 443.9L499.8 442.7M553.5 429.1L555 429.5L556.6 429.9L558.1 430.4L559.6 430.9M469.7 445.1L471.2 443.1L472.7 441.2M557.1 420L558.7 421.1L560.2 422.3M450.3 442L451.9 439.4L453.4 436.9M553.1 412.2L554.7 413.9L556.2 415.7M434 437.3L435.6 434.1M419.3 431.7L420.8 427.9"/>
<path class="mt c14" d="M499.8 442.7L501.3 441.6L502.8 440.5L504.4 439.4L505.9 438.4M547.3 427.8L548.9 428.1L550.4 428.4L552 428.7L553.5 429.1M472.7 441.2L474.3 439.3L475.8 437.5M554.1 417.9L555.6 418.9L557.1 420M453.4 436.9L454.9 434.4M551.6 410.5L553.1 412.2M435.6 434.1L437.1 431M420.8 427.9L422.3 424.1"/>
<path class="mt c15" d="M505.9 438.4L507.5 437.4L509 436.4L510.5 435.5L512.1 434.7L513.6 433.9L515.1 433.1M538.1 427.3L539.7 427.2L541.2 427.3L542.7 427.3L544.3 427.5L545.8 427.6L547.3 427.8M475.8 437.5L477.4 435.7L478.9 434M551 415.9L552.5 416.9L554.1 417.9M454.9 434.4L456.5 432M550.1 408.8L551.6 410.5M437.1 431L438.6 427.9M422.3 424.1L423.9 420.3"/>
<path class="mt c16" d="M515.1 433.1L516.7 432.4L518.2 431.7L519.7 431.1L521.3 430.5L522.8 430L524.3 429.5L525.9 429.1L527.4 428.7L528.9 428.3L530.5 428L532 427.8L533.5 427.6L535.1 427.4L536.6 427.3L538.1 427.3M478.9 434L480.4 432.3L482 430.7M547.9 414.1L549.5 415L551 415.9M456.5 432L458 429.6L459.5 427.2M547 405.6L548.5 407.2L550.1 408.8M438.6 427.9L440.2 424.8"/>
<path class="mt c17" d="M482 430.7L483.5 429.1L485 427.5L486.6 426M543.3 411.8L544.9 412.6L546.4 413.3L547.9 414.1M459.5 427.2L461.1 424.9L462.6 422.7M543.9 402.6L545.5 404.1L547 405.6M440.2 424.8L441.7 421.8L443.2 418.8M539.9 395.4L541.4 397.5L543 399.8M423.9 420.3L425.4 416.6"/>
<path class="mt c18" d="M486.6 426L488.1 424.6L489.6 423.2L491.2 421.9M538.7 410L540.3 410.6L541.8 411.2L543.3 411.8M462.6 422.7L464.1 420.5M542.4 401.2L543.9 402.6M443.2 418.8L444.8 415.9M538.4 393.2L539.9 395.4M425.4 416.6L427 413"/>
<path class="mt c19" d="M491.2 421.9L492.7 420.6L494.2 419.4L495.8 418.2L497.3 417.1M532.6 408.3L534.1 408.7L535.7 409.1L537.2 409.5L538.7 410M464.1 420.5L465.7 418.3L467.2 416.3M539.3 398.5L540.9 399.8L542.4 401.2M444.8 415.9L446.3 413.1M536.8 391.1L538.4 393.2M427 413L428.5 409.4"/>
<path class="mt c20" d="M497.3 417.1L498.8 416.1L500.4 415.1L501.9 414.2L503.4 413.3L505 412.5M524.9 407.5L526.5 407.5L528 407.7L529.5 407.8L531.1 408L532.6 408.3M467.2 416.3L468.7 414.2L470.3 412.3M536.3 396.1L537.8 397.3L539.3 398.5M446.3 413.1L447.8 410.3M535.3 389.1L536.8 391.1M428.5 409.4L430 405.9"/>
<path class="mt c21" d="M505 412.5L506.5 411.7L508 411L509.6 410.4L511.1 409.8L512.6 409.3L514.2 408.9L515.7 408.5L517.2 408.2L518.8 407.9L520.3 407.7L521.9 407.6L523.4 407.5L524.9 407.5M470.3 412.3L471.8 410.4L473.3 408.5M533.2 393.8L534.7 394.9L536.3 396.1M447.8 410.3L449.4 407.6L450.9 404.9M532.2 385.3L533.8 387.2L535.3 389.1M430 405.9L431.6 402.4"/>
<path class="mt c22" d="M473.3 408.5L474.9 406.7L476.4 405M530.1 391.9L531.7 392.8L533.2 393.8M450.9 404.9L452.4 402.3M530.7 383.4L532.2 385.3M431.6 402.4L433.1 399"/>
<path class="mt c23" d="M476.4 405L477.9 403.4L479.5 401.8M527 390.2L528.6 391L530.1 391.9M452.4 402.3L454 399.8M529.2 381.6L530.7 383.4M433.1 399L434.6 395.6M525.2 374.2L526.7 376.8"/>
<path class="mt c24" d="M479.5 401.8L481 400.3L482.5 398.9L484.1 397.5M522.4 388.1L524 388.8L525.5 389.4L527 390.2M454 399.8L455.5 397.3L457.1 394.9M526.1 378.3L527.6 379.9L529.2 381.6M434.6 395.6L436.2 392.4M523.6 371.7L525.2 374.2"/>
<path class="mt c25" d="M484.1 397.5L485.6 396.2L487.1 395L488.7 393.9L490.2 392.8M516.3 386.4L517.8 386.8L519.4 387.1L520.9 387.6L522.4 388.1M457.1 394.9L458.6 392.6M524.6 376.7L526.1 378.3M436.2 392.4L437.7 389.2M522.1 369.2L523.6 371.7"/>
<path class="mt c26" d="M490.2 392.8L491.8 391.8L493.3 390.9L494.8 390.1L496.4 389.3L497.9 388.6L499.4 388L501 387.5L502.5 387L504 386.7L505.6 386.4L507.1 386.1L508.6 386L510.2 385.9L511.7 385.9L513.2 386L514.8 386.2L516.3 386.4M458.6 392.6L460.1 390.3L461.7 388.2M521.5 373.8L523 375.2L524.6 376.7M437.7 389.2L439.2 386M520.6 366.9L522.1 369.2"/>
<path class="mt c27" d="M461.7 388.2L463.2 386.1L464.7 384.1M518.4 371.2L520 372.5L521.5 373.8M439.2 386L440.8 383M519 364.6L520.6 366.9"/>
<path class="mt c28" d="M464.7 384.1L466.3 382.2L467.8 380.3M515.4 368.9L516.9 370L518.4 371.2M440.8 383L442.3 380L443.8 377.1M516 360.2L517.5 362.3L519 364.6"/>
<path class="mt c29" d="M467.8 380.3L469.3 378.6L470.9 376.9M512.3 367L513.8 367.9L515.4 368.9M443.8 377.1L445.4 374.3M514.4 358.1L516 360.2"/>
<path class="mt c30" d="M470.9 376.9L472.4 375.3L473.9 373.8M509.2 365.4L510.8 366.2L512.3 367M445.4 374.3L446.9 371.6M512.9 356.2L514.4 358.1"/>
<path class="mt c31" d="M473.9 373.8L475.5 372.4L477 371.1L478.5 369.9L480.1 368.8M503.1 363.3L504.6 363.7L506.2 364.2L507.7 364.7L509.2 365.4M446.9 371.6L448.4 369M511.3 354.3L512.9 356.2"/>
<path class="mt c32" d="M480.1 368.8L481.6 367.7L483.1 366.8L484.7 366L486.2 365.2L487.7 364.6L489.3 364L490.8 363.5L492.3 363.2L493.9 362.9L495.4 362.7L496.9 362.7L498.5 362.7L500 362.8L501.6 363L503.1 363.3M448.4 369L450 366.5L451.5 364.1M508.3 350.8L509.8 352.5L511.3 354.3"/>
<path class="mt c33" d="M451.5 364.1L453 361.8M506.7 349.2L508.3 350.8"/>
<path class="mt c34" d="M453 361.8L454.6 359.5L456.1 357.4M503.7 346.3L505.2 347.7L506.7 349.2"/>
<path class="mt c35" d="M456.1 357.4L457.6 355.4L459.2 353.5M500.6 343.8L502.1 345L503.7 346.3"/>
<path class="mt c36" d="M459.2 353.5L460.7 351.6L462.2 349.9M497.5 341.7L499.1 342.7L500.6 343.8"/>
<path class="mt c37" d="M462.2 349.9L463.8 348.3L465.3 346.8L466.8 345.5M492.9 339.4L494.5 340.1L496 340.8L497.5 341.7"/>
<path class="mt c38" d="M466.8 345.5L468.4 344.2L469.9 343L471.5 342M488.3 338.1L489.9 338.4L491.4 338.9L492.9 339.4"/>
<path class="mt c39" d="M471.5 342L473 341.1L474.5 340.2L476.1 339.5L477.6 339L479.1 338.5L480.7 338.1L482.2 337.9L483.7 337.8L485.3 337.8L486.8 337.9L488.3 338.1"/>
</g>
<path d="M672.7 488.6L519.2 529.9L402.4 475.8" class="fa"/>
<path d="M402.4 475.8L402.4 358.2M402.4 475.8L398.8 474.1M402.4 452.3L398.8 450.6M402.4 428.8L398.8 427.1M402.4 405.2L398.8 403.6M402.4 381.7L398.8 380M402.4 358.2L398.8 356.5M519.2 529.9L522.9 531.6M549.9 521.6L553.6 523.3M580.6 513.4L584.3 515.1M611.3 505.1L614.9 506.8M642 496.9L645.6 498.5M672.7 488.6L676.3 490.3M519.2 529.9L515.4 530.9M460.8 502.9L457 503.9M402.4 475.8L398.5 476.8" class="ax"/>
<text class="tk" text-anchor="end" x="395.2" y="476.3">0</text>
<text class="tk" text-anchor="end" x="395.2" y="452.8">0.5</text>
<text class="tk" text-anchor="end" x="395.2" y="429.3">1</text>
<text class="tk" text-anchor="end" x="395.2" y="405.7">1.5</text>
<text class="tk" text-anchor="end" x="395.2" y="382.2">2</text>
<text class="tk" text-anchor="end" x="395.2" y="358.7">2.5</text>
<text class="tk" x="526.1" y="541.6">0</text>
<text class="tk" x="556.8" y="533.3">0.2</text>
<text class="tk" x="587.5" y="525.1">0.4</text>
<text class="tk" x="618.2" y="516.8">0.6</text>
<text class="tk" x="648.9" y="508.6">0.8</text>
<text class="tk" x="679.6" y="500.3">1</text>
<text class="tk" text-anchor="end" x="512.4" y="540.7">0</text>
<text class="tk" text-anchor="end" x="453.9" y="513.7">0.5</text>
<text class="tk" text-anchor="end" x="395.5" y="486.6">1</text>
<text class="al" text-anchor="middle" x="462.9" y="540.4">t</text>
<text class="al" text-anchor="middle" x="584.9" y="543.6">x</text>
<text class="al" text-anchor="middle" transform="translate(375 417.5) rotate(-90)">|u<tspan dy="4.3" font-size="7.2">approx</tspan><tspan dy="-4.3" font-size="1">&#8203;</tspan> - u<tspan dy="4.3" font-size="7.2">exact</tspan><tspan dy="-4.3" font-size="1">&#8203;</tspan>|</text>
<text class="ti" text-anchor="middle" x="537.5" y="313">Absolute Error in Approximate Solution</text>
<text class="tk" x="377.2" y="344" style="font-size:10.5px">&#215;</text><text class="tk" x="384" y="343.8">10</text><text class="tk" x="393.4" y="339.7" style="font-size:6.7px">-9</text>
</svg>
<div class="cap" id="cap0" style="left:-34.5px;top:263.6px;letter-spacing:0.79px">(a) Exact solution <i>u</i>(<i>x</i>, <i>t</i>) = <i>t</i><sup>2</sup> sin(<i>&#960;x</i>)</div>
<div class="cap" id="cap1" style="left:331.4px;top:263.6px;letter-spacing:0.88px">(b) Approximate solution <i>u</i><sub>approx</sub>(<i>x</i>, <i>t</i>)</div>
<div class="cap" id="cap2" style="left:-34.7px;top:567.2px;letter-spacing:0.84px">(c) Source term <i>f</i>(<i>x</i>, <i>t</i>) from <i>u</i>(<i>x</i>, <i>t</i>) = <i>t</i><sup>2</sup> sin(<i>&#960;x</i>)</div>
<div class="cap" id="cap3" style="left:331.4px;top:567.2px;letter-spacing:0.815px">(d) Absolute Error in Approximate Solution</div>
</div>
</body></html>
